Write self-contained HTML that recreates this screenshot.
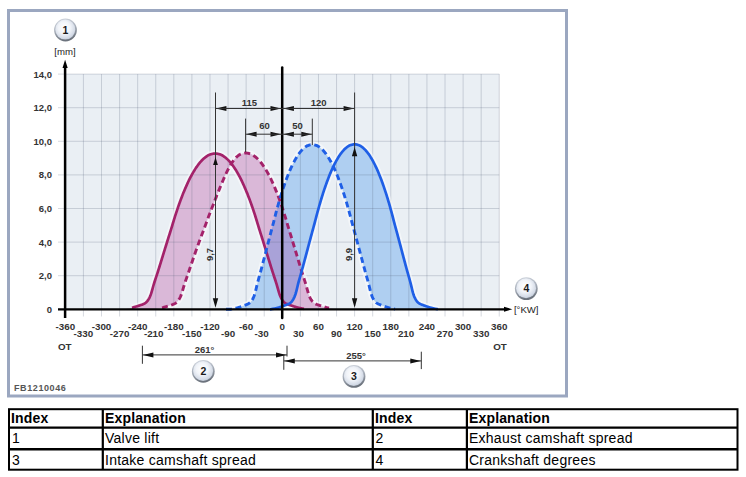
<!DOCTYPE html>
<html><head><meta charset="utf-8"><title>Valve lift diagram</title>
<style>html,body{margin:0;padding:0;background:#fff;width:746px;height:477px;overflow:hidden;position:relative}</style>
</head><body>
<svg width="746" height="477" viewBox="0 0 746 477" style="position:absolute;left:0;top:0"><defs><clipPath id="cb"><path d="M200.00,309.30 L200.50,309.30 L201.00,309.30 L201.50,309.30 L202.00,309.30 L202.50,309.30 L203.00,309.30 L203.50,309.30 L204.00,309.30 L204.50,309.30 L205.00,309.30 L205.50,309.30 L206.00,309.30 L206.50,309.30 L207.00,309.30 L207.50,309.30 L208.00,309.30 L208.50,309.30 L209.00,309.30 L209.50,309.30 L210.00,309.30 L210.50,309.30 L211.00,309.30 L211.50,309.30 L212.00,309.30 L212.50,309.30 L213.00,309.30 L213.50,309.30 L214.00,309.30 L214.50,309.30 L215.00,309.30 L215.50,309.30 L216.00,309.30 L216.50,309.30 L217.00,309.30 L217.50,309.30 L218.00,309.30 L218.50,309.30 L219.00,309.30 L219.50,309.30 L220.00,309.30 L220.50,309.30 L221.00,309.30 L221.50,309.30 L222.00,309.30 L222.50,309.30 L223.00,309.30 L223.50,309.30 L224.00,309.30 L224.50,309.30 L225.00,309.30 L225.50,309.30 L226.00,309.30 L226.50,309.30 L227.00,309.30 L227.50,309.30 L228.00,309.30 L228.50,309.30 L229.00,309.30 L229.50,309.30 L230.00,309.30 L230.50,309.27 L231.00,309.19 L231.50,309.10 L232.00,309.01 L232.50,308.91 L233.00,308.82 L233.50,308.72 L234.00,308.62 L234.50,308.51 L235.00,308.40 L235.50,308.29 L236.00,308.18 L236.50,308.06 L237.00,307.93 L237.50,307.80 L238.00,307.66 L238.50,307.51 L239.00,307.35 L239.50,307.18 L240.00,307.01 L240.50,306.84 L241.00,306.66 L241.50,306.49 L242.00,306.31 L242.50,306.13 L243.00,305.94 L243.50,305.76 L244.00,305.56 L244.50,305.37 L245.00,305.18 L245.50,304.99 L246.00,304.80 L246.50,304.60 L247.00,304.39 L247.50,304.17 L248.00,303.93 L248.50,303.66 L249.00,303.37 L249.50,303.05 L250.00,302.67 L250.50,302.24 L251.00,301.69 L251.50,301.02 L252.00,300.28 L252.50,299.44 L253.00,298.49 L253.50,297.42 L254.00,296.22 L254.50,294.88 L255.00,293.26 L255.50,291.38 L256.00,289.33 L256.50,287.20 L257.00,285.07 L257.50,283.02 L258.00,281.12 L258.50,279.28 L259.00,277.46 L259.50,275.65 L260.00,273.85 L260.50,272.03 L261.00,270.20 L261.50,268.33 L262.00,266.45 L262.50,264.55 L263.00,262.65 L263.50,260.74 L264.00,258.82 L264.50,256.91 L265.00,254.99 L265.50,253.06 L266.00,251.13 L266.50,249.20 L267.00,247.27 L267.50,245.34 L268.00,243.42 L268.50,241.50 L269.00,239.59 L269.50,237.67 L270.00,235.77 L270.50,233.87 L271.00,231.99 L271.50,230.11 L272.00,228.24 L272.50,226.36 L273.00,224.47 L273.50,222.54 L274.00,220.58 L274.50,218.60 L275.00,216.62 L275.50,214.66 L276.00,212.73 L276.50,210.85 L277.00,209.01 L277.50,207.20 L278.00,205.40 L278.50,203.62 L279.00,201.87 L279.50,200.15 L280.00,198.45 L280.50,196.79 L281.00,195.16 L281.50,193.56 L282.00,191.98 L282.50,190.43 L283.00,188.90 L283.50,187.40 L284.00,185.92 L284.50,184.47 L285.00,183.05 L285.50,181.66 L286.00,180.29 L286.50,178.93 L287.00,177.60 L287.50,176.29 L288.00,175.01 L288.50,173.76 L289.00,172.53 L289.50,171.34 L290.00,170.18 L290.50,169.05 L291.00,167.94 L291.50,166.85 L292.00,165.79 L292.50,164.75 L293.00,163.74 L293.50,162.76 L294.00,161.81 L294.50,160.89 L295.00,159.99 L295.50,159.10 L296.00,158.23 L296.50,157.39 L297.00,156.57 L297.50,155.78 L298.00,155.02 L298.50,154.30 L299.00,153.62 L299.50,152.96 L300.00,152.32 L300.50,151.69 L301.00,151.09 L301.50,150.52 L302.00,149.98 L302.50,149.46 L303.00,148.99 L303.50,148.54 L304.00,148.11 L304.50,147.68 L305.00,147.27 L305.50,146.87 L306.00,146.51 L306.50,146.19 L307.00,145.91 L307.50,145.68 L308.00,145.50 L308.50,145.34 L309.00,145.18 L309.50,145.03 L310.00,144.90 L310.50,144.79 L311.00,144.70 L311.50,144.63 L312.00,144.60 L312.50,144.61 L313.00,144.64 L313.50,144.71 L314.00,144.80 L314.50,144.91 L315.00,145.04 L315.50,145.18 L316.00,145.34 L316.50,145.50 L317.00,145.67 L317.50,145.89 L318.00,146.15 L318.50,146.46 L319.00,146.81 L319.50,147.19 L320.00,147.58 L320.50,148.00 L321.00,148.42 L321.50,148.85 L322.00,149.30 L322.50,149.79 L323.00,150.30 L323.50,150.85 L324.00,151.42 L324.50,152.02 L325.00,152.64 L325.50,153.27 L326.00,153.92 L326.50,154.60 L327.00,155.32 L327.50,156.06 L328.00,156.84 L328.50,157.65 L329.00,158.47 L329.50,159.32 L330.00,160.19 L330.50,161.07 L331.00,161.97 L331.50,162.90 L332.00,163.86 L332.50,164.85 L333.00,165.86 L333.50,166.89 L334.00,167.95 L334.50,169.03 L335.00,170.13 L335.50,171.25 L336.00,172.41 L336.50,173.60 L337.00,174.81 L337.50,176.06 L338.00,177.33 L338.50,178.62 L339.00,179.93 L339.50,181.26 L340.00,182.60 L340.50,183.98 L341.00,185.38 L341.50,186.80 L342.00,188.25 L342.50,189.73 L343.00,191.23 L343.50,192.75 L344.00,194.30 L344.50,195.86 L345.00,197.47 L345.50,199.10 L346.00,200.76 L346.50,202.44 L347.00,204.15 L347.50,205.88 L348.00,207.64 L348.50,209.41 L349.00,211.20 L349.50,213.04 L350.00,214.92 L350.50,216.83 L351.00,218.76 L351.50,220.68 L352.00,222.59 L352.50,224.46 L353.00,226.31 L353.50,228.14 L354.00,229.96 L354.50,231.78 L355.00,233.61 L355.50,235.45 L356.00,237.30 L356.50,239.16 L357.00,241.03 L357.50,242.89 L358.00,244.76 L358.50,246.63 L359.00,248.51 L359.50,250.39 L360.00,252.27 L360.50,254.15 L361.00,256.02 L361.50,257.88 L362.00,259.74 L362.50,261.60 L363.00,263.46 L363.50,265.31 L364.00,267.14 L364.50,268.97 L365.00,270.78 L365.50,272.56 L366.00,274.32 L366.50,276.07 L367.00,277.83 L367.50,279.60 L368.00,281.40 L368.50,283.27 L369.00,285.27 L369.50,287.35 L370.00,289.42 L370.50,291.41 L371.00,293.23 L371.50,294.82 L372.00,296.13 L372.50,297.31 L373.00,298.37 L373.50,299.31 L374.00,300.14 L374.50,300.88 L375.00,301.54 L375.50,302.11 L376.00,302.56 L376.50,302.94 L377.00,303.27 L377.50,303.56 L378.00,303.82 L378.50,304.07 L379.00,304.29 L379.50,304.50 L380.00,304.70 L380.50,304.89 L381.00,305.07 L381.50,305.26 L382.00,305.45 L382.50,305.63 L383.00,305.82 L383.50,306.00 L384.00,306.18 L384.50,306.36 L385.00,306.53 L385.50,306.70 L386.00,306.87 L386.50,307.03 L387.00,307.20 L387.50,307.36 L388.00,307.52 L388.50,307.66 L389.00,307.80 L389.50,307.93 L390.00,308.05 L390.50,308.17 L391.00,308.28 L391.50,308.39 L392.00,308.50 L392.50,308.60 L393.00,308.70 L393.50,308.79 L394.00,308.89 L394.50,308.98 L395.00,309.07 L395.50,309.16 L396.00,309.24 L396.50,309.30 L397.00,309.30 L397.50,309.30 L398.00,309.30 L398.50,309.30 L399.00,309.30 L399.50,309.30 L400.00,309.30 L400.50,309.30 L401.00,309.30 L401.50,309.30 L402.00,309.30 L402.50,309.30 L403.00,309.30 L403.50,309.30 L404.00,309.30 L404.50,309.30 L405.00,309.30 L405.50,309.30 L406.00,309.30 L406.50,309.30 L407.00,309.30 L407.50,309.30 L408.00,309.30 L408.50,309.30 L409.00,309.30 L409.50,309.30 L410.00,309.30 L410.50,309.30 L411.00,309.30 L411.50,309.30 L412.00,309.30 L412.50,309.30 L413.00,309.30 L413.50,309.30 L414.00,309.30 L414.50,309.30 L415.00,309.30 L415.50,309.30 L416.00,309.30 L416.50,309.30 L417.00,309.30 L417.50,309.30 L418.00,309.30 L418.50,309.30 L419.00,309.30 L419.50,309.30 L420.00,309.30 L420.50,309.30 L421.00,309.30 L421.50,309.30 L422.00,309.30 L422.50,309.30 L423.00,309.30 L423.50,309.30 L424.00,309.30 L424.50,309.30 L425.00,309.30 L425.50,309.30 L426.00,309.30 L426.50,309.30 L427.00,309.30 L427.50,309.30 L428.00,309.30 L428.50,309.30 L429.00,309.30 L429.50,309.30 L430.00,309.30 L430.50,309.30 L431.00,309.30 L431.50,309.30 L432.00,309.30 L432.50,309.30 L433.00,309.30 L433.50,309.30 L434.00,309.30 L434.50,309.30 L435.00,309.30 L435.50,309.30 L436.00,309.30 L436.50,309.30 L437.00,309.30 L437.50,309.30 L438.00,309.30 L438.50,309.30 L439.00,309.30 L439.50,309.30 L440.00,309.30 L440.50,309.30 L441.00,309.30 L441.50,309.30 L442.00,309.30 L442.50,309.30 L443.00,309.30 L443.50,309.30 L444.00,309.30 L444.50,309.30 L445.00,309.30 L445.50,309.30 L446.00,309.30 L446.50,309.30 L447.00,309.30 L447.50,309.30 L448.00,309.30 L448.50,309.30 L449.00,309.30 L449.50,309.30 L450.00,309.30 L450.50,309.30 L451.00,309.30 L451.50,309.30 L452.00,309.30 L452.50,309.30 L453.00,309.30 L453.50,309.30 L454.00,309.30 L454.50,309.30 L455.00,309.30 L455.50,309.30 L456.00,309.30 L456.50,309.30 L457.00,309.30 L457.50,309.30 L458.00,309.30 L458.50,309.30 L459.00,309.30 L459.50,309.30 L460.00,309.30 L460.00,309.30 L200.00,309.30 Z M200.00,309.30 L200.50,309.30 L201.00,309.30 L201.50,309.30 L202.00,309.30 L202.50,309.30 L203.00,309.30 L203.50,309.30 L204.00,309.30 L204.50,309.30 L205.00,309.30 L205.50,309.30 L206.00,309.30 L206.50,309.30 L207.00,309.30 L207.50,309.30 L208.00,309.30 L208.50,309.30 L209.00,309.30 L209.50,309.30 L210.00,309.30 L210.50,309.30 L211.00,309.30 L211.50,309.30 L212.00,309.30 L212.50,309.30 L213.00,309.30 L213.50,309.30 L214.00,309.30 L214.50,309.30 L215.00,309.30 L215.50,309.30 L216.00,309.30 L216.50,309.30 L217.00,309.30 L217.50,309.30 L218.00,309.30 L218.50,309.30 L219.00,309.30 L219.50,309.30 L220.00,309.30 L220.50,309.30 L221.00,309.30 L221.50,309.30 L222.00,309.30 L222.50,309.30 L223.00,309.30 L223.50,309.30 L224.00,309.30 L224.50,309.30 L225.00,309.30 L225.50,309.30 L226.00,309.30 L226.50,309.30 L227.00,309.30 L227.50,309.30 L228.00,309.30 L228.50,309.30 L229.00,309.30 L229.50,309.30 L230.00,309.30 L230.50,309.30 L231.00,309.30 L231.50,309.30 L232.00,309.30 L232.50,309.30 L233.00,309.30 L233.50,309.30 L234.00,309.30 L234.50,309.30 L235.00,309.30 L235.50,309.30 L236.00,309.30 L236.50,309.30 L237.00,309.30 L237.50,309.30 L238.00,309.30 L238.50,309.30 L239.00,309.30 L239.50,309.30 L240.00,309.30 L240.50,309.30 L241.00,309.30 L241.50,309.30 L242.00,309.30 L242.50,309.30 L243.00,309.30 L243.50,309.30 L244.00,309.30 L244.50,309.30 L245.00,309.30 L245.50,309.30 L246.00,309.30 L246.50,309.30 L247.00,309.30 L247.50,309.30 L248.00,309.30 L248.50,309.30 L249.00,309.30 L249.50,309.30 L250.00,309.30 L250.50,309.30 L251.00,309.30 L251.50,309.30 L252.00,309.30 L252.50,309.30 L253.00,309.30 L253.50,309.30 L254.00,309.30 L254.50,309.30 L255.00,309.30 L255.50,309.30 L256.00,309.30 L256.50,309.30 L257.00,309.30 L257.50,309.30 L258.00,309.30 L258.50,309.30 L259.00,309.30 L259.50,309.30 L260.00,309.30 L260.50,309.30 L261.00,309.30 L261.50,309.30 L262.00,309.30 L262.50,309.30 L263.00,309.30 L263.50,309.30 L264.00,309.30 L264.50,309.30 L265.00,309.30 L265.50,309.30 L266.00,309.30 L266.50,309.30 L267.00,309.30 L267.50,309.30 L268.00,309.30 L268.50,309.30 L269.00,309.30 L269.50,309.30 L270.00,309.30 L270.50,309.29 L271.00,309.21 L271.50,309.12 L272.00,309.03 L272.50,308.94 L273.00,308.85 L273.50,308.75 L274.00,308.66 L274.50,308.56 L275.00,308.45 L275.50,308.35 L276.00,308.24 L276.50,308.12 L277.00,308.00 L277.50,307.88 L278.00,307.75 L278.50,307.60 L279.00,307.45 L279.50,307.29 L280.00,307.13 L280.50,306.96 L281.00,306.79 L281.50,306.63 L282.00,306.46 L282.50,306.28 L283.00,306.10 L283.50,305.92 L284.00,305.74 L284.50,305.55 L285.00,305.36 L285.50,305.17 L286.00,304.99 L286.50,304.80 L287.00,304.61 L287.50,304.41 L288.00,304.20 L288.50,303.96 L289.00,303.71 L289.50,303.43 L290.00,303.13 L290.50,302.78 L291.00,302.38 L291.50,301.88 L292.00,301.27 L292.50,300.57 L293.00,299.80 L293.50,298.93 L294.00,297.94 L294.50,296.83 L295.00,295.60 L295.50,294.19 L296.00,292.50 L296.50,290.59 L297.00,288.56 L297.50,286.47 L298.00,284.41 L298.50,282.45 L299.00,280.63 L299.50,278.83 L300.00,277.07 L300.50,275.31 L301.00,273.55 L301.50,271.78 L302.00,269.99 L302.50,268.17 L303.00,266.33 L303.50,264.49 L304.00,262.63 L304.50,260.77 L305.00,258.90 L305.50,257.04 L306.00,255.17 L306.50,253.29 L307.00,251.41 L307.50,249.53 L308.00,247.65 L308.50,245.77 L309.00,243.89 L309.50,242.02 L310.00,240.16 L310.50,238.29 L311.00,236.43 L311.50,234.58 L312.00,232.73 L312.50,230.91 L313.00,229.08 L313.50,227.26 L314.00,225.42 L314.50,223.56 L315.00,221.67 L315.50,219.75 L316.00,217.82 L316.50,215.90 L317.00,213.99 L317.50,212.12 L318.00,210.30 L318.50,208.52 L319.00,206.75 L319.50,205.00 L320.00,203.27 L320.50,201.57 L321.00,199.89 L321.50,198.24 L322.00,196.62 L322.50,195.03 L323.00,193.46 L323.50,191.93 L324.00,190.41 L324.50,188.92 L325.00,187.45 L325.50,186.00 L326.00,184.59 L326.50,183.19 L327.00,181.83 L327.50,180.49 L328.00,179.16 L328.50,177.86 L329.00,176.58 L329.50,175.31 L330.00,174.08 L330.50,172.87 L331.00,171.69 L331.50,170.55 L332.00,169.43 L332.50,168.34 L333.00,167.26 L333.50,166.21 L334.00,165.19 L334.50,164.18 L335.00,163.21 L335.50,162.26 L336.00,161.34 L336.50,160.45 L337.00,159.57 L337.50,158.71 L338.00,157.87 L338.50,157.04 L339.00,156.25 L339.50,155.48 L340.00,154.75 L340.50,154.04 L341.00,153.38 L341.50,152.73 L342.00,152.10 L342.50,151.49 L343.00,150.90 L343.50,150.34 L344.00,149.80 L344.50,149.30 L345.00,148.82 L345.50,148.38 L346.00,147.96 L346.50,147.54 L347.00,147.13 L347.50,146.74 L348.00,146.37 L348.50,146.04 L349.00,145.74 L349.50,145.49 L350.00,145.30 L350.50,145.13 L351.00,144.98 L351.50,144.82 L352.00,144.69 L352.50,144.56 L353.00,144.46 L353.50,144.38 L354.00,144.32 L354.50,144.30 L355.00,144.31 L355.50,144.35 L356.00,144.42 L356.50,144.52 L357.00,144.64 L357.50,144.77 L358.00,144.92 L358.50,145.08 L359.00,145.24 L359.50,145.42 L360.00,145.65 L360.50,145.93 L361.00,146.26 L361.50,146.62 L362.00,147.00 L362.50,147.41 L363.00,147.83 L363.50,148.25 L364.00,148.69 L364.50,149.16 L365.00,149.66 L365.50,150.19 L366.00,150.75 L366.50,151.33 L367.00,151.94 L367.50,152.57 L368.00,153.21 L368.50,153.87 L369.00,154.57 L369.50,155.30 L370.00,156.07 L370.50,156.86 L371.00,157.68 L371.50,158.53 L372.00,159.39 L372.50,160.27 L373.00,161.16 L373.50,162.08 L374.00,163.03 L374.50,164.01 L375.00,165.01 L375.50,166.04 L376.00,167.09 L376.50,168.16 L377.00,169.26 L377.50,170.38 L378.00,171.53 L378.50,172.71 L379.00,173.92 L379.50,175.16 L380.00,176.42 L380.50,177.71 L381.00,179.02 L381.50,180.35 L382.00,181.70 L382.50,183.07 L383.00,184.46 L383.50,185.89 L384.00,187.34 L384.50,188.81 L385.00,190.31 L385.50,191.83 L386.00,193.38 L386.50,194.95 L387.00,196.55 L387.50,198.18 L388.00,199.83 L388.50,201.52 L389.00,203.23 L389.50,204.97 L390.00,206.73 L390.50,208.51 L391.00,210.30 L391.50,212.13 L392.00,214.01 L392.50,215.93 L393.00,217.86 L393.50,219.80 L394.00,221.73 L394.50,223.63 L395.00,225.50 L395.50,227.35 L396.00,229.18 L396.50,231.02 L397.00,232.86 L397.50,234.71 L398.00,236.57 L398.50,238.44 L399.00,240.32 L399.50,242.20 L400.00,244.08 L400.50,245.96 L401.00,247.85 L401.50,249.75 L402.00,251.64 L402.50,253.53 L403.00,255.42 L403.50,257.30 L404.00,259.17 L404.50,261.05 L405.00,262.92 L405.50,264.78 L406.00,266.64 L406.50,268.48 L407.00,270.30 L407.50,272.10 L408.00,273.88 L408.50,275.65 L409.00,277.41 L409.50,279.20 L410.00,281.00 L410.50,282.86 L411.00,284.86 L411.50,286.94 L412.00,289.04 L412.50,291.06 L413.00,292.93 L413.50,294.57 L414.00,295.92 L414.50,297.13 L415.00,298.21 L415.50,299.17 L416.00,300.02 L416.50,300.78 L417.00,301.46 L417.50,302.04 L418.00,302.50 L418.50,302.89 L419.00,303.23 L419.50,303.52 L420.00,303.79 L420.50,304.04 L421.00,304.27 L421.50,304.48 L422.00,304.68 L422.50,304.87 L423.00,305.05 L423.50,305.24 L424.00,305.43 L424.50,305.62 L425.00,305.81 L425.50,305.99 L426.00,306.17 L426.50,306.35 L427.00,306.52 L427.50,306.69 L428.00,306.86 L428.50,307.03 L429.00,307.20 L429.50,307.36 L430.00,307.52 L430.50,307.67 L431.00,307.80 L431.50,307.93 L432.00,308.06 L432.50,308.17 L433.00,308.29 L433.50,308.40 L434.00,308.50 L434.50,308.60 L435.00,308.70 L435.50,308.80 L436.00,308.90 L436.50,308.99 L437.00,309.08 L437.50,309.17 L438.00,309.25 L438.50,309.30 L439.00,309.30 L439.50,309.30 L440.00,309.30 L440.50,309.30 L441.00,309.30 L441.50,309.30 L442.00,309.30 L442.50,309.30 L443.00,309.30 L443.50,309.30 L444.00,309.30 L444.50,309.30 L445.00,309.30 L445.50,309.30 L446.00,309.30 L446.50,309.30 L447.00,309.30 L447.50,309.30 L448.00,309.30 L448.50,309.30 L449.00,309.30 L449.50,309.30 L450.00,309.30 L450.50,309.30 L451.00,309.30 L451.50,309.30 L452.00,309.30 L452.50,309.30 L453.00,309.30 L453.50,309.30 L454.00,309.30 L454.50,309.30 L455.00,309.30 L455.50,309.30 L456.00,309.30 L456.50,309.30 L457.00,309.30 L457.50,309.30 L458.00,309.30 L458.50,309.30 L459.00,309.30 L459.50,309.30 L460.00,309.30 L460.00,309.30 L200.00,309.30 Z" clip-rule="evenodd"/></clipPath><clipPath id="cf"><path d="M200.00,309.30 L200.50,309.30 L201.00,309.30 L201.50,309.30 L202.00,309.30 L202.50,309.30 L203.00,309.30 L203.50,309.30 L204.00,309.30 L204.50,309.30 L205.00,309.30 L205.50,309.30 L206.00,309.30 L206.50,309.30 L207.00,309.30 L207.50,309.30 L208.00,309.30 L208.50,309.30 L209.00,309.30 L209.50,309.30 L210.00,309.30 L210.50,309.30 L211.00,309.30 L211.50,309.30 L212.00,309.30 L212.50,309.30 L213.00,309.30 L213.50,309.30 L214.00,309.30 L214.50,309.30 L215.00,309.30 L215.50,309.30 L216.00,309.30 L216.50,309.30 L217.00,309.30 L217.50,309.30 L218.00,309.30 L218.50,309.30 L219.00,309.30 L219.50,309.30 L220.00,309.30 L220.50,309.30 L221.00,309.30 L221.50,309.30 L222.00,309.30 L222.50,309.30 L223.00,309.30 L223.50,309.30 L224.00,309.30 L224.50,309.30 L225.00,309.30 L225.50,309.30 L226.00,309.30 L226.50,309.30 L227.00,309.30 L227.50,309.30 L228.00,309.30 L228.50,309.30 L229.00,309.30 L229.50,309.30 L230.00,309.30 L230.50,309.27 L231.00,309.19 L231.50,309.10 L232.00,309.01 L232.50,308.91 L233.00,308.82 L233.50,308.72 L234.00,308.62 L234.50,308.51 L235.00,308.40 L235.50,308.29 L236.00,308.18 L236.50,308.06 L237.00,307.93 L237.50,307.80 L238.00,307.66 L238.50,307.51 L239.00,307.35 L239.50,307.18 L240.00,307.01 L240.50,306.84 L241.00,306.66 L241.50,306.49 L242.00,306.31 L242.50,306.13 L243.00,305.94 L243.50,305.76 L244.00,305.56 L244.50,305.37 L245.00,305.18 L245.50,304.99 L246.00,304.80 L246.50,304.60 L247.00,304.39 L247.50,304.17 L248.00,303.93 L248.50,303.66 L249.00,303.37 L249.50,303.05 L250.00,302.67 L250.50,302.24 L251.00,301.69 L251.50,301.02 L252.00,300.28 L252.50,299.44 L253.00,298.49 L253.50,297.42 L254.00,296.22 L254.50,294.88 L255.00,293.26 L255.50,291.38 L256.00,289.33 L256.50,287.20 L257.00,285.07 L257.50,283.02 L258.00,281.12 L258.50,279.28 L259.00,277.46 L259.50,275.65 L260.00,273.85 L260.50,272.03 L261.00,270.20 L261.50,268.33 L262.00,266.45 L262.50,264.55 L263.00,262.65 L263.50,260.74 L264.00,258.82 L264.50,256.91 L265.00,254.99 L265.50,253.06 L266.00,251.13 L266.50,249.20 L267.00,247.27 L267.50,245.34 L268.00,243.42 L268.50,241.50 L269.00,239.59 L269.50,237.67 L270.00,235.77 L270.50,233.87 L271.00,231.99 L271.50,230.11 L272.00,228.24 L272.50,226.36 L273.00,224.47 L273.50,222.54 L274.00,220.58 L274.50,218.60 L275.00,216.62 L275.50,214.66 L276.00,212.73 L276.50,210.85 L277.00,209.01 L277.50,207.20 L278.00,205.40 L278.50,203.62 L279.00,201.87 L279.50,200.15 L280.00,198.45 L280.50,196.79 L281.00,195.16 L281.50,193.56 L282.00,191.98 L282.50,190.43 L283.00,188.90 L283.50,187.40 L284.00,185.92 L284.50,184.47 L285.00,183.05 L285.50,181.66 L286.00,180.29 L286.50,178.93 L287.00,177.60 L287.50,176.29 L288.00,175.01 L288.50,173.76 L289.00,172.53 L289.50,171.34 L290.00,170.18 L290.50,169.05 L291.00,167.94 L291.50,166.85 L292.00,165.79 L292.50,164.75 L293.00,163.74 L293.50,162.76 L294.00,161.81 L294.50,160.89 L295.00,159.99 L295.50,159.10 L296.00,158.23 L296.50,157.39 L297.00,156.57 L297.50,155.78 L298.00,155.02 L298.50,154.30 L299.00,153.62 L299.50,152.96 L300.00,152.32 L300.50,151.69 L301.00,151.09 L301.50,150.52 L302.00,149.98 L302.50,149.46 L303.00,148.99 L303.50,148.54 L304.00,148.11 L304.50,147.68 L305.00,147.27 L305.50,146.87 L306.00,146.51 L306.50,146.19 L307.00,145.91 L307.50,145.68 L308.00,145.50 L308.50,145.34 L309.00,145.18 L309.50,145.03 L310.00,144.90 L310.50,144.79 L311.00,144.70 L311.50,144.63 L312.00,144.60 L312.50,144.61 L313.00,144.64 L313.50,144.71 L314.00,144.80 L314.50,144.91 L315.00,145.04 L315.50,145.18 L316.00,145.34 L316.50,145.50 L317.00,145.67 L317.50,145.89 L318.00,146.15 L318.50,146.46 L319.00,146.81 L319.50,147.19 L320.00,147.58 L320.50,148.00 L321.00,148.42 L321.50,148.85 L322.00,149.30 L322.50,149.79 L323.00,150.30 L323.50,150.85 L324.00,151.42 L324.50,152.02 L325.00,152.64 L325.50,153.27 L326.00,153.92 L326.50,154.60 L327.00,155.32 L327.50,156.06 L328.00,156.84 L328.50,157.65 L329.00,158.47 L329.50,159.32 L330.00,160.19 L330.50,161.07 L331.00,161.97 L331.50,162.90 L332.00,163.86 L332.50,164.85 L333.00,165.86 L333.50,166.89 L334.00,167.95 L334.50,169.03 L335.00,170.13 L335.50,171.25 L336.00,172.41 L336.50,173.60 L337.00,174.81 L337.50,176.06 L338.00,177.33 L338.50,178.62 L339.00,179.93 L339.50,181.26 L340.00,182.60 L340.50,183.98 L341.00,185.38 L341.50,186.80 L342.00,188.25 L342.50,189.73 L343.00,191.23 L343.50,192.75 L344.00,194.30 L344.50,195.86 L345.00,197.47 L345.50,199.10 L346.00,200.76 L346.50,202.44 L347.00,204.15 L347.50,205.88 L348.00,207.64 L348.50,209.41 L349.00,211.20 L349.50,213.04 L350.00,214.92 L350.50,216.83 L351.00,218.76 L351.50,220.68 L352.00,222.59 L352.50,224.46 L353.00,226.31 L353.50,228.14 L354.00,229.96 L354.50,231.78 L355.00,233.61 L355.50,235.45 L356.00,237.30 L356.50,239.16 L357.00,241.03 L357.50,242.89 L358.00,244.76 L358.50,246.63 L359.00,248.51 L359.50,250.39 L360.00,252.27 L360.50,254.15 L361.00,256.02 L361.50,257.88 L362.00,259.74 L362.50,261.60 L363.00,263.46 L363.50,265.31 L364.00,267.14 L364.50,268.97 L365.00,270.78 L365.50,272.56 L366.00,274.32 L366.50,276.07 L367.00,277.83 L367.50,279.60 L368.00,281.40 L368.50,283.27 L369.00,285.27 L369.50,287.35 L370.00,289.42 L370.50,291.41 L371.00,293.23 L371.50,294.82 L372.00,296.13 L372.50,297.31 L373.00,298.37 L373.50,299.31 L374.00,300.14 L374.50,300.88 L375.00,301.54 L375.50,302.11 L376.00,302.56 L376.50,302.94 L377.00,303.27 L377.50,303.56 L378.00,303.82 L378.50,304.07 L379.00,304.29 L379.50,304.50 L380.00,304.70 L380.50,304.89 L381.00,305.07 L381.50,305.26 L382.00,305.45 L382.50,305.63 L383.00,305.82 L383.50,306.00 L384.00,306.18 L384.50,306.36 L385.00,306.53 L385.50,306.70 L386.00,306.87 L386.50,307.03 L387.00,307.20 L387.50,307.36 L388.00,307.52 L388.50,307.66 L389.00,307.80 L389.50,307.93 L390.00,308.05 L390.50,308.17 L391.00,308.28 L391.50,308.39 L392.00,308.50 L392.50,308.60 L393.00,308.70 L393.50,308.79 L394.00,308.89 L394.50,308.98 L395.00,309.07 L395.50,309.16 L396.00,309.24 L396.50,309.30 L397.00,309.30 L397.50,309.30 L398.00,309.30 L398.50,309.30 L399.00,309.30 L399.50,309.30 L400.00,309.30 L400.50,309.30 L401.00,309.30 L401.50,309.30 L402.00,309.30 L402.50,309.30 L403.00,309.30 L403.50,309.30 L404.00,309.30 L404.50,309.30 L405.00,309.30 L405.50,309.30 L406.00,309.30 L406.50,309.30 L407.00,309.30 L407.50,309.30 L408.00,309.30 L408.50,309.30 L409.00,309.30 L409.50,309.30 L410.00,309.30 L410.50,309.30 L411.00,309.30 L411.50,309.30 L412.00,309.30 L412.50,309.30 L413.00,309.30 L413.50,309.30 L414.00,309.30 L414.50,309.30 L415.00,309.30 L415.50,309.30 L416.00,309.30 L416.50,309.30 L417.00,309.30 L417.50,309.30 L418.00,309.30 L418.50,309.30 L419.00,309.30 L419.50,309.30 L420.00,309.30 L420.50,309.30 L421.00,309.30 L421.50,309.30 L422.00,309.30 L422.50,309.30 L423.00,309.30 L423.50,309.30 L424.00,309.30 L424.50,309.30 L425.00,309.30 L425.50,309.30 L426.00,309.30 L426.50,309.30 L427.00,309.30 L427.50,309.30 L428.00,309.30 L428.50,309.30 L429.00,309.30 L429.50,309.30 L430.00,309.30 L430.50,309.30 L431.00,309.30 L431.50,309.30 L432.00,309.30 L432.50,309.30 L433.00,309.30 L433.50,309.30 L434.00,309.30 L434.50,309.30 L435.00,309.30 L435.50,309.30 L436.00,309.30 L436.50,309.30 L437.00,309.30 L437.50,309.30 L438.00,309.30 L438.50,309.30 L439.00,309.30 L439.50,309.30 L440.00,309.30 L440.50,309.30 L441.00,309.30 L441.50,309.30 L442.00,309.30 L442.50,309.30 L443.00,309.30 L443.50,309.30 L444.00,309.30 L444.50,309.30 L445.00,309.30 L445.50,309.30 L446.00,309.30 L446.50,309.30 L447.00,309.30 L447.50,309.30 L448.00,309.30 L448.50,309.30 L449.00,309.30 L449.50,309.30 L450.00,309.30 L450.50,309.30 L451.00,309.30 L451.50,309.30 L452.00,309.30 L452.50,309.30 L453.00,309.30 L453.50,309.30 L454.00,309.30 L454.50,309.30 L455.00,309.30 L455.50,309.30 L456.00,309.30 L456.50,309.30 L457.00,309.30 L457.50,309.30 L458.00,309.30 L458.50,309.30 L459.00,309.30 L459.50,309.30 L460.00,309.30 L460.00,309.30 L200.00,309.30 Z M200.00,309.30 L200.50,309.30 L201.00,309.30 L201.50,309.30 L202.00,309.30 L202.50,309.30 L203.00,309.30 L203.50,309.30 L204.00,309.30 L204.50,309.30 L205.00,309.30 L205.50,309.30 L206.00,309.30 L206.50,309.30 L207.00,309.30 L207.50,309.30 L208.00,309.30 L208.50,309.30 L209.00,309.30 L209.50,309.30 L210.00,309.30 L210.50,309.30 L211.00,309.30 L211.50,309.30 L212.00,309.30 L212.50,309.30 L213.00,309.30 L213.50,309.30 L214.00,309.30 L214.50,309.30 L215.00,309.30 L215.50,309.30 L216.00,309.30 L216.50,309.30 L217.00,309.30 L217.50,309.30 L218.00,309.30 L218.50,309.30 L219.00,309.30 L219.50,309.30 L220.00,309.30 L220.50,309.30 L221.00,309.30 L221.50,309.30 L222.00,309.30 L222.50,309.30 L223.00,309.30 L223.50,309.30 L224.00,309.30 L224.50,309.30 L225.00,309.30 L225.50,309.30 L226.00,309.30 L226.50,309.30 L227.00,309.30 L227.50,309.30 L228.00,309.30 L228.50,309.30 L229.00,309.30 L229.50,309.30 L230.00,309.30 L230.50,309.30 L231.00,309.30 L231.50,309.30 L232.00,309.30 L232.50,309.30 L233.00,309.30 L233.50,309.30 L234.00,309.30 L234.50,309.30 L235.00,309.30 L235.50,309.30 L236.00,309.30 L236.50,309.30 L237.00,309.30 L237.50,309.30 L238.00,309.30 L238.50,309.30 L239.00,309.30 L239.50,309.30 L240.00,309.30 L240.50,309.30 L241.00,309.30 L241.50,309.30 L242.00,309.30 L242.50,309.30 L243.00,309.30 L243.50,309.30 L244.00,309.30 L244.50,309.30 L245.00,309.30 L245.50,309.30 L246.00,309.30 L246.50,309.30 L247.00,309.30 L247.50,309.30 L248.00,309.30 L248.50,309.30 L249.00,309.30 L249.50,309.30 L250.00,309.30 L250.50,309.30 L251.00,309.30 L251.50,309.30 L252.00,309.30 L252.50,309.30 L253.00,309.30 L253.50,309.30 L254.00,309.30 L254.50,309.30 L255.00,309.30 L255.50,309.30 L256.00,309.30 L256.50,309.30 L257.00,309.30 L257.50,309.30 L258.00,309.30 L258.50,309.30 L259.00,309.30 L259.50,309.30 L260.00,309.30 L260.50,309.30 L261.00,309.30 L261.50,309.30 L262.00,309.30 L262.50,309.30 L263.00,309.30 L263.50,309.30 L264.00,309.30 L264.50,309.30 L265.00,309.30 L265.50,309.30 L266.00,309.30 L266.50,309.30 L267.00,309.30 L267.50,309.30 L268.00,309.30 L268.50,309.30 L269.00,309.30 L269.50,309.30 L270.00,309.30 L270.50,309.29 L271.00,309.21 L271.50,309.12 L272.00,309.03 L272.50,308.94 L273.00,308.85 L273.50,308.75 L274.00,308.66 L274.50,308.56 L275.00,308.45 L275.50,308.35 L276.00,308.24 L276.50,308.12 L277.00,308.00 L277.50,307.88 L278.00,307.75 L278.50,307.60 L279.00,307.45 L279.50,307.29 L280.00,307.13 L280.50,306.96 L281.00,306.79 L281.50,306.63 L282.00,306.46 L282.50,306.28 L283.00,306.10 L283.50,305.92 L284.00,305.74 L284.50,305.55 L285.00,305.36 L285.50,305.17 L286.00,304.99 L286.50,304.80 L287.00,304.61 L287.50,304.41 L288.00,304.20 L288.50,303.96 L289.00,303.71 L289.50,303.43 L290.00,303.13 L290.50,302.78 L291.00,302.38 L291.50,301.88 L292.00,301.27 L292.50,300.57 L293.00,299.80 L293.50,298.93 L294.00,297.94 L294.50,296.83 L295.00,295.60 L295.50,294.19 L296.00,292.50 L296.50,290.59 L297.00,288.56 L297.50,286.47 L298.00,284.41 L298.50,282.45 L299.00,280.63 L299.50,278.83 L300.00,277.07 L300.50,275.31 L301.00,273.55 L301.50,271.78 L302.00,269.99 L302.50,268.17 L303.00,266.33 L303.50,264.49 L304.00,262.63 L304.50,260.77 L305.00,258.90 L305.50,257.04 L306.00,255.17 L306.50,253.29 L307.00,251.41 L307.50,249.53 L308.00,247.65 L308.50,245.77 L309.00,243.89 L309.50,242.02 L310.00,240.16 L310.50,238.29 L311.00,236.43 L311.50,234.58 L312.00,232.73 L312.50,230.91 L313.00,229.08 L313.50,227.26 L314.00,225.42 L314.50,223.56 L315.00,221.67 L315.50,219.75 L316.00,217.82 L316.50,215.90 L317.00,213.99 L317.50,212.12 L318.00,210.30 L318.50,208.52 L319.00,206.75 L319.50,205.00 L320.00,203.27 L320.50,201.57 L321.00,199.89 L321.50,198.24 L322.00,196.62 L322.50,195.03 L323.00,193.46 L323.50,191.93 L324.00,190.41 L324.50,188.92 L325.00,187.45 L325.50,186.00 L326.00,184.59 L326.50,183.19 L327.00,181.83 L327.50,180.49 L328.00,179.16 L328.50,177.86 L329.00,176.58 L329.50,175.31 L330.00,174.08 L330.50,172.87 L331.00,171.69 L331.50,170.55 L332.00,169.43 L332.50,168.34 L333.00,167.26 L333.50,166.21 L334.00,165.19 L334.50,164.18 L335.00,163.21 L335.50,162.26 L336.00,161.34 L336.50,160.45 L337.00,159.57 L337.50,158.71 L338.00,157.87 L338.50,157.04 L339.00,156.25 L339.50,155.48 L340.00,154.75 L340.50,154.04 L341.00,153.38 L341.50,152.73 L342.00,152.10 L342.50,151.49 L343.00,150.90 L343.50,150.34 L344.00,149.80 L344.50,149.30 L345.00,148.82 L345.50,148.38 L346.00,147.96 L346.50,147.54 L347.00,147.13 L347.50,146.74 L348.00,146.37 L348.50,146.04 L349.00,145.74 L349.50,145.49 L350.00,145.30 L350.50,145.13 L351.00,144.98 L351.50,144.82 L352.00,144.69 L352.50,144.56 L353.00,144.46 L353.50,144.38 L354.00,144.32 L354.50,144.30 L355.00,144.31 L355.50,144.35 L356.00,144.42 L356.50,144.52 L357.00,144.64 L357.50,144.77 L358.00,144.92 L358.50,145.08 L359.00,145.24 L359.50,145.42 L360.00,145.65 L360.50,145.93 L361.00,146.26 L361.50,146.62 L362.00,147.00 L362.50,147.41 L363.00,147.83 L363.50,148.25 L364.00,148.69 L364.50,149.16 L365.00,149.66 L365.50,150.19 L366.00,150.75 L366.50,151.33 L367.00,151.94 L367.50,152.57 L368.00,153.21 L368.50,153.87 L369.00,154.57 L369.50,155.30 L370.00,156.07 L370.50,156.86 L371.00,157.68 L371.50,158.53 L372.00,159.39 L372.50,160.27 L373.00,161.16 L373.50,162.08 L374.00,163.03 L374.50,164.01 L375.00,165.01 L375.50,166.04 L376.00,167.09 L376.50,168.16 L377.00,169.26 L377.50,170.38 L378.00,171.53 L378.50,172.71 L379.00,173.92 L379.50,175.16 L380.00,176.42 L380.50,177.71 L381.00,179.02 L381.50,180.35 L382.00,181.70 L382.50,183.07 L383.00,184.46 L383.50,185.89 L384.00,187.34 L384.50,188.81 L385.00,190.31 L385.50,191.83 L386.00,193.38 L386.50,194.95 L387.00,196.55 L387.50,198.18 L388.00,199.83 L388.50,201.52 L389.00,203.23 L389.50,204.97 L390.00,206.73 L390.50,208.51 L391.00,210.30 L391.50,212.13 L392.00,214.01 L392.50,215.93 L393.00,217.86 L393.50,219.80 L394.00,221.73 L394.50,223.63 L395.00,225.50 L395.50,227.35 L396.00,229.18 L396.50,231.02 L397.00,232.86 L397.50,234.71 L398.00,236.57 L398.50,238.44 L399.00,240.32 L399.50,242.20 L400.00,244.08 L400.50,245.96 L401.00,247.85 L401.50,249.75 L402.00,251.64 L402.50,253.53 L403.00,255.42 L403.50,257.30 L404.00,259.17 L404.50,261.05 L405.00,262.92 L405.50,264.78 L406.00,266.64 L406.50,268.48 L407.00,270.30 L407.50,272.10 L408.00,273.88 L408.50,275.65 L409.00,277.41 L409.50,279.20 L410.00,281.00 L410.50,282.86 L411.00,284.86 L411.50,286.94 L412.00,289.04 L412.50,291.06 L413.00,292.93 L413.50,294.57 L414.00,295.92 L414.50,297.13 L415.00,298.21 L415.50,299.17 L416.00,300.02 L416.50,300.78 L417.00,301.46 L417.50,302.04 L418.00,302.50 L418.50,302.89 L419.00,303.23 L419.50,303.52 L420.00,303.79 L420.50,304.04 L421.00,304.27 L421.50,304.48 L422.00,304.68 L422.50,304.87 L423.00,305.05 L423.50,305.24 L424.00,305.43 L424.50,305.62 L425.00,305.81 L425.50,305.99 L426.00,306.17 L426.50,306.35 L427.00,306.52 L427.50,306.69 L428.00,306.86 L428.50,307.03 L429.00,307.20 L429.50,307.36 L430.00,307.52 L430.50,307.67 L431.00,307.80 L431.50,307.93 L432.00,308.06 L432.50,308.17 L433.00,308.29 L433.50,308.40 L434.00,308.50 L434.50,308.60 L435.00,308.70 L435.50,308.80 L436.00,308.90 L436.50,308.99 L437.00,309.08 L437.50,309.17 L438.00,309.25 L438.50,309.30 L439.00,309.30 L439.50,309.30 L440.00,309.30 L440.50,309.30 L441.00,309.30 L441.50,309.30 L442.00,309.30 L442.50,309.30 L443.00,309.30 L443.50,309.30 L444.00,309.30 L444.50,309.30 L445.00,309.30 L445.50,309.30 L446.00,309.30 L446.50,309.30 L447.00,309.30 L447.50,309.30 L448.00,309.30 L448.50,309.30 L449.00,309.30 L449.50,309.30 L450.00,309.30 L450.50,309.30 L451.00,309.30 L451.50,309.30 L452.00,309.30 L452.50,309.30 L453.00,309.30 L453.50,309.30 L454.00,309.30 L454.50,309.30 L455.00,309.30 L455.50,309.30 L456.00,309.30 L456.50,309.30 L457.00,309.30 L457.50,309.30 L458.00,309.30 L458.50,309.30 L459.00,309.30 L459.50,309.30 L460.00,309.30 L460.00,309.30 L200.00,309.30 Z" clip-rule="evenodd"/><path d="M110.00,309.30 L110.50,309.30 L111.00,309.30 L111.50,309.30 L112.00,309.30 L112.50,309.30 L113.00,309.30 L113.50,309.30 L114.00,309.30 L114.50,309.30 L115.00,309.30 L115.50,309.30 L116.00,309.30 L116.50,309.30 L117.00,309.30 L117.50,309.30 L118.00,309.30 L118.50,309.30 L119.00,309.30 L119.50,309.30 L120.00,309.30 L120.50,309.30 L121.00,309.30 L121.50,309.30 L122.00,309.30 L122.50,309.30 L123.00,309.30 L123.50,309.26 L124.00,309.19 L124.50,309.11 L125.00,309.04 L125.50,308.96 L126.00,308.88 L126.50,308.80 L127.00,308.71 L127.50,308.62 L128.00,308.54 L128.50,308.45 L129.00,308.35 L129.50,308.26 L130.00,308.16 L130.50,308.05 L131.00,307.94 L131.50,307.83 L132.00,307.71 L132.50,307.58 L133.00,307.44 L133.50,307.30 L134.00,307.16 L134.50,307.01 L135.00,306.87 L135.50,306.72 L136.00,306.57 L136.50,306.42 L137.00,306.27 L137.50,306.11 L138.00,305.95 L138.50,305.79 L139.00,305.63 L139.50,305.46 L140.00,305.30 L140.50,305.14 L141.00,304.98 L141.50,304.81 L142.00,304.64 L142.50,304.45 L143.00,304.24 L143.50,304.02 L144.00,303.79 L144.50,303.53 L145.00,303.23 L145.50,302.90 L146.00,302.51 L146.50,302.03 L147.00,301.47 L147.50,300.84 L148.00,300.15 L148.50,299.38 L149.00,298.52 L149.50,297.56 L150.00,296.51 L150.50,295.32 L151.00,293.92 L151.50,292.32 L152.00,290.60 L152.50,288.81 L153.00,287.01 L153.50,285.25 L154.00,283.59 L154.50,282.02 L155.00,280.48 L155.50,278.95 L156.00,277.43 L156.50,275.91 L157.00,274.38 L157.50,272.84 L158.00,271.28 L158.50,269.70 L159.00,268.11 L159.50,266.51 L160.00,264.91 L160.50,263.30 L161.00,261.69 L161.50,260.08 L162.00,258.46 L162.50,256.84 L163.00,255.22 L163.50,253.59 L164.00,251.96 L164.50,250.34 L165.00,248.72 L165.50,247.10 L166.00,245.49 L166.50,243.87 L167.00,242.26 L167.50,240.65 L168.00,239.05 L168.50,237.46 L169.00,235.87 L169.50,234.30 L170.00,232.72 L170.50,231.14 L171.00,229.55 L171.50,227.94 L172.00,226.30 L172.50,224.64 L173.00,222.97 L173.50,221.31 L174.00,219.66 L174.50,218.03 L175.00,216.44 L175.50,214.89 L176.00,213.36 L176.50,211.84 L177.00,210.33 L177.50,208.85 L178.00,207.38 L178.50,205.93 L179.00,204.50 L179.50,203.10 L180.00,201.72 L180.50,200.36 L181.00,199.03 L181.50,197.71 L182.00,196.41 L182.50,195.13 L183.00,193.87 L183.50,192.62 L184.00,191.40 L184.50,190.20 L185.00,189.02 L185.50,187.86 L186.00,186.71 L186.50,185.58 L187.00,184.47 L187.50,183.37 L188.00,182.29 L188.50,181.23 L189.00,180.19 L189.50,179.18 L190.00,178.19 L190.50,177.23 L191.00,176.28 L191.50,175.35 L192.00,174.44 L192.50,173.55 L193.00,172.68 L193.50,171.82 L194.00,170.99 L194.50,170.18 L195.00,169.39 L195.50,168.62 L196.00,167.86 L196.50,167.12 L197.00,166.39 L197.50,165.68 L198.00,164.99 L198.50,164.32 L199.00,163.67 L199.50,163.05 L200.00,162.45 L200.50,161.89 L201.00,161.33 L201.50,160.79 L202.00,160.27 L202.50,159.76 L203.00,159.27 L203.50,158.80 L204.00,158.36 L204.50,157.94 L205.00,157.54 L205.50,157.17 L206.00,156.81 L206.50,156.45 L207.00,156.10 L207.50,155.76 L208.00,155.45 L208.50,155.16 L209.00,154.90 L209.50,154.68 L210.00,154.50 L210.50,154.35 L211.00,154.21 L211.50,154.08 L212.00,153.95 L212.50,153.83 L213.00,153.73 L213.50,153.64 L214.00,153.57 L214.50,153.53 L215.00,153.50 L215.50,153.50 L216.00,153.53 L216.50,153.59 L217.00,153.66 L217.50,153.75 L218.00,153.86 L218.50,153.97 L219.00,154.10 L219.50,154.24 L220.00,154.38 L220.50,154.53 L221.00,154.72 L221.50,154.95 L222.00,155.21 L222.50,155.51 L223.00,155.83 L223.50,156.17 L224.00,156.52 L224.50,156.88 L225.00,157.25 L225.50,157.62 L226.00,158.02 L226.50,158.44 L227.00,158.89 L227.50,159.37 L228.00,159.86 L228.50,160.37 L229.00,160.90 L229.50,161.44 L230.00,162.00 L230.50,162.57 L231.00,163.17 L231.50,163.80 L232.00,164.45 L232.50,165.12 L233.00,165.82 L233.50,166.54 L234.00,167.27 L234.50,168.02 L235.00,168.77 L235.50,169.54 L236.00,170.34 L236.50,171.15 L237.00,171.99 L237.50,172.85 L238.00,173.73 L238.50,174.62 L239.00,175.54 L239.50,176.47 L240.00,177.42 L240.50,178.39 L241.00,179.38 L241.50,180.40 L242.00,181.44 L242.50,182.50 L243.00,183.59 L243.50,184.69 L244.00,185.81 L244.50,186.94 L245.00,188.09 L245.50,189.26 L246.00,190.44 L246.50,191.65 L247.00,192.87 L247.50,194.12 L248.00,195.38 L248.50,196.67 L249.00,197.97 L249.50,199.29 L250.00,200.63 L250.50,201.99 L251.00,203.38 L251.50,204.79 L252.00,206.22 L252.50,207.67 L253.00,209.14 L253.50,210.63 L254.00,212.14 L254.50,213.66 L255.00,215.20 L255.50,216.76 L256.00,218.36 L256.50,219.99 L257.00,221.64 L257.50,223.30 L258.00,224.97 L258.50,226.63 L259.00,228.26 L259.50,229.87 L260.00,231.46 L260.50,233.04 L261.00,234.61 L261.50,236.19 L262.00,237.77 L262.50,239.37 L263.00,240.97 L263.50,242.58 L264.00,244.19 L264.50,245.81 L265.00,247.42 L265.50,249.04 L266.00,250.66 L266.50,252.29 L267.00,253.92 L267.50,255.54 L268.00,257.17 L268.50,258.79 L269.00,260.40 L269.50,262.01 L270.00,263.62 L270.50,265.23 L271.00,266.83 L271.50,268.43 L272.00,270.02 L272.50,271.59 L273.00,273.15 L273.50,274.69 L274.00,276.21 L274.50,277.73 L275.00,279.25 L275.50,280.78 L276.00,282.33 L276.50,283.91 L277.00,285.60 L277.50,287.37 L278.00,289.17 L278.50,290.95 L279.00,292.65 L279.50,294.21 L280.00,295.58 L280.50,296.72 L281.00,297.76 L281.50,298.70 L282.00,299.54 L282.50,300.30 L283.00,300.97 L283.50,301.59 L284.00,302.13 L284.50,302.60 L285.00,302.97 L285.50,303.30 L286.00,303.58 L286.50,303.84 L287.00,304.07 L287.50,304.29 L288.00,304.49 L288.50,304.67 L289.00,304.85 L289.50,305.01 L290.00,305.17 L290.50,305.33 L291.00,305.50 L291.50,305.66 L292.00,305.82 L292.50,305.98 L293.00,306.14 L293.50,306.30 L294.00,306.45 L294.50,306.60 L295.00,306.75 L295.50,306.89 L296.00,307.04 L296.50,307.19 L297.00,307.33 L297.50,307.47 L298.00,307.60 L298.50,307.73 L299.00,307.85 L299.50,307.97 L300.00,308.07 L300.50,308.18 L301.00,308.28 L301.50,308.37 L302.00,308.46 L302.50,308.55 L303.00,308.64 L303.50,308.73 L304.00,308.81 L304.50,308.90 L305.00,308.98 L305.50,309.05 L306.00,309.13 L306.50,309.20 L307.00,309.27 L307.50,309.30 L308.00,309.30 L308.50,309.30 L309.00,309.30 L309.50,309.30 L310.00,309.30 L310.50,309.30 L311.00,309.30 L311.50,309.30 L312.00,309.30 L312.50,309.30 L313.00,309.30 L313.50,309.30 L314.00,309.30 L314.50,309.30 L315.00,309.30 L315.50,309.30 L316.00,309.30 L316.50,309.30 L317.00,309.30 L317.50,309.30 L318.00,309.30 L318.50,309.30 L319.00,309.30 L319.50,309.30 L320.00,309.30 L320.50,309.30 L321.00,309.30 L321.50,309.30 L322.00,309.30 L322.50,309.30 L323.00,309.30 L323.50,309.30 L324.00,309.30 L324.50,309.30 L325.00,309.30 L325.50,309.30 L326.00,309.30 L326.50,309.30 L327.00,309.30 L327.50,309.30 L328.00,309.30 L328.50,309.30 L329.00,309.30 L329.50,309.30 L330.00,309.30 L330.50,309.30 L331.00,309.30 L331.50,309.30 L332.00,309.30 L332.50,309.30 L333.00,309.30 L333.50,309.30 L334.00,309.30 L334.50,309.30 L335.00,309.30 L335.50,309.30 L336.00,309.30 L336.50,309.30 L337.00,309.30 L337.50,309.30 L338.00,309.30 L338.50,309.30 L339.00,309.30 L339.50,309.30 L340.00,309.30 L340.00,309.30 L110.00,309.30 Z M110.00,309.30 L110.50,309.30 L111.00,309.30 L111.50,309.30 L112.00,309.30 L112.50,309.30 L113.00,309.30 L113.50,309.30 L114.00,309.30 L114.50,309.30 L115.00,309.30 L115.50,309.30 L116.00,309.30 L116.50,309.30 L117.00,309.30 L117.50,309.30 L118.00,309.30 L118.50,309.30 L119.00,309.30 L119.50,309.30 L120.00,309.30 L120.50,309.30 L121.00,309.30 L121.50,309.30 L122.00,309.30 L122.50,309.30 L123.00,309.30 L123.50,309.30 L124.00,309.30 L124.50,309.30 L125.00,309.30 L125.50,309.30 L126.00,309.30 L126.50,309.30 L127.00,309.30 L127.50,309.30 L128.00,309.30 L128.50,309.30 L129.00,309.30 L129.50,309.30 L130.00,309.30 L130.50,309.30 L131.00,309.30 L131.50,309.30 L132.00,309.30 L132.50,309.30 L133.00,309.30 L133.50,309.30 L134.00,309.30 L134.50,309.30 L135.00,309.30 L135.50,309.30 L136.00,309.30 L136.50,309.30 L137.00,309.30 L137.50,309.30 L138.00,309.30 L138.50,309.30 L139.00,309.30 L139.50,309.30 L140.00,309.30 L140.50,309.30 L141.00,309.30 L141.50,309.30 L142.00,309.30 L142.50,309.30 L143.00,309.30 L143.50,309.30 L144.00,309.30 L144.50,309.30 L145.00,309.30 L145.50,309.30 L146.00,309.30 L146.50,309.30 L147.00,309.30 L147.50,309.30 L148.00,309.30 L148.50,309.30 L149.00,309.30 L149.50,309.30 L150.00,309.30 L150.50,309.30 L151.00,309.30 L151.50,309.30 L152.00,309.30 L152.50,309.30 L153.00,309.30 L153.50,309.30 L154.00,309.24 L154.50,309.17 L155.00,309.10 L155.50,309.02 L156.00,308.94 L156.50,308.86 L157.00,308.78 L157.50,308.69 L158.00,308.61 L158.50,308.52 L159.00,308.42 L159.50,308.33 L160.00,308.23 L160.50,308.13 L161.00,308.03 L161.50,307.92 L162.00,307.80 L162.50,307.68 L163.00,307.54 L163.50,307.41 L164.00,307.27 L164.50,307.12 L165.00,306.98 L165.50,306.83 L166.00,306.68 L166.50,306.53 L167.00,306.38 L167.50,306.23 L168.00,306.07 L168.50,305.91 L169.00,305.75 L169.50,305.59 L170.00,305.42 L170.50,305.26 L171.00,305.10 L171.50,304.94 L172.00,304.77 L172.50,304.60 L173.00,304.41 L173.50,304.20 L174.00,303.98 L174.50,303.74 L175.00,303.48 L175.50,303.19 L176.00,302.86 L176.50,302.47 L177.00,301.99 L177.50,301.43 L178.00,300.81 L178.50,300.13 L179.00,299.37 L179.50,298.53 L180.00,297.59 L180.50,296.57 L181.00,295.43 L181.50,294.09 L182.00,292.56 L182.50,290.91 L183.00,289.19 L183.50,287.44 L184.00,285.73 L184.50,284.10 L185.00,282.57 L185.50,281.08 L186.00,279.62 L186.50,278.18 L187.00,276.74 L187.50,275.31 L188.00,273.87 L188.50,272.42 L189.00,270.96 L189.50,269.50 L190.00,268.03 L190.50,266.56 L191.00,265.09 L191.50,263.62 L192.00,262.16 L192.50,260.70 L193.00,259.25 L193.50,257.80 L194.00,256.36 L194.50,254.92 L195.00,253.48 L195.50,252.05 L196.00,250.63 L196.50,249.22 L197.00,247.82 L197.50,246.43 L198.00,245.04 L198.50,243.67 L199.00,242.30 L199.50,240.94 L200.00,239.59 L200.50,238.24 L201.00,236.91 L201.50,235.60 L202.00,234.29 L202.50,232.98 L203.00,231.67 L203.50,230.37 L204.00,229.05 L204.50,227.72 L205.00,226.37 L205.50,225.01 L206.00,223.63 L206.50,222.26 L207.00,220.88 L207.50,219.51 L208.00,218.16 L208.50,216.82 L209.00,215.50 L209.50,214.20 L210.00,212.90 L210.50,211.61 L211.00,210.31 L211.50,209.02 L212.00,207.73 L212.50,206.44 L213.00,205.16 L213.50,203.89 L214.00,202.62 L214.50,201.35 L215.00,200.10 L215.50,198.84 L216.00,197.59 L216.50,196.33 L217.00,195.08 L217.50,193.84 L218.00,192.59 L218.50,191.35 L219.00,190.12 L219.50,188.89 L220.00,187.67 L220.50,186.46 L221.00,185.24 L221.50,184.03 L222.00,182.82 L222.50,181.63 L223.00,180.45 L223.50,179.28 L224.00,178.14 L224.50,177.02 L225.00,175.92 L225.50,174.83 L226.00,173.75 L226.50,172.70 L227.00,171.66 L227.50,170.65 L228.00,169.67 L228.50,168.72 L229.00,167.79 L229.50,166.87 L230.00,165.97 L230.50,165.10 L231.00,164.25 L231.50,163.44 L232.00,162.67 L232.50,161.94 L233.00,161.24 L233.50,160.57 L234.00,159.92 L234.50,159.30 L235.00,158.71 L235.50,158.15 L236.00,157.62 L236.50,157.14 L237.00,156.70 L237.50,156.26 L238.00,155.84 L238.50,155.43 L239.00,155.05 L239.50,154.71 L240.00,154.41 L240.50,154.16 L241.00,153.96 L241.50,153.80 L242.00,153.64 L242.50,153.50 L243.00,153.36 L243.50,153.25 L244.00,153.15 L244.50,153.07 L245.00,153.02 L245.50,153.00 L246.00,153.01 L246.50,153.04 L247.00,153.10 L247.50,153.18 L248.00,153.28 L248.50,153.39 L249.00,153.52 L249.50,153.65 L250.00,153.79 L250.50,153.94 L251.00,154.11 L251.50,154.32 L252.00,154.57 L252.50,154.86 L253.00,155.17 L253.50,155.51 L254.00,155.87 L254.50,156.23 L255.00,156.61 L255.50,156.98 L256.00,157.38 L256.50,157.81 L257.00,158.26 L257.50,158.73 L258.00,159.23 L258.50,159.75 L259.00,160.29 L259.50,160.84 L260.00,161.41 L260.50,161.99 L261.00,162.60 L261.50,163.23 L262.00,163.90 L262.50,164.59 L263.00,165.30 L263.50,166.03 L264.00,166.78 L264.50,167.54 L265.00,168.32 L265.50,169.11 L266.00,169.92 L266.50,170.75 L267.00,171.61 L267.50,172.49 L268.00,173.39 L268.50,174.31 L269.00,175.25 L269.50,176.21 L270.00,177.19 L270.50,178.18 L271.00,179.20 L271.50,180.25 L272.00,181.32 L272.50,182.42 L273.00,183.53 L273.50,184.67 L274.00,185.82 L274.50,186.99 L275.00,188.17 L275.50,189.37 L276.00,190.59 L276.50,191.83 L277.00,193.10 L277.50,194.38 L278.00,195.69 L278.50,197.01 L279.00,198.36 L279.50,199.72 L280.00,201.11 L280.50,202.51 L281.00,203.95 L281.50,205.40 L282.00,206.88 L282.50,208.38 L283.00,209.91 L283.50,211.44 L284.00,213.00 L284.50,214.57 L285.00,216.16 L285.50,217.79 L286.00,219.45 L286.50,221.14 L287.00,222.84 L287.50,224.55 L288.00,226.25 L288.50,227.92 L289.00,229.57 L289.50,231.20 L290.00,232.81 L290.50,234.42 L291.00,236.04 L291.50,237.66 L292.00,239.30 L292.50,240.94 L293.00,242.59 L293.50,244.24 L294.00,245.89 L294.50,247.54 L295.00,249.20 L295.50,250.86 L296.00,252.53 L296.50,254.19 L297.00,255.86 L297.50,257.52 L298.00,259.17 L298.50,260.82 L299.00,262.47 L299.50,264.12 L300.00,265.77 L300.50,267.40 L301.00,269.03 L301.50,270.65 L302.00,272.26 L302.50,273.85 L303.00,275.41 L303.50,276.97 L304.00,278.52 L304.50,280.08 L305.00,281.66 L305.50,283.26 L306.00,284.94 L306.50,286.73 L307.00,288.58 L307.50,290.41 L308.00,292.18 L308.50,293.82 L309.00,295.26 L309.50,296.47 L310.00,297.55 L310.50,298.53 L311.00,299.41 L311.50,300.19 L312.00,300.89 L312.50,301.52 L313.00,302.09 L313.50,302.56 L314.00,302.95 L314.50,303.28 L315.00,303.57 L315.50,303.83 L316.00,304.07 L316.50,304.29 L317.00,304.49 L317.50,304.68 L318.00,304.86 L318.50,305.03 L319.00,305.19 L319.50,305.36 L320.00,305.52 L320.50,305.69 L321.00,305.86 L321.50,306.02 L322.00,306.18 L322.50,306.34 L323.00,306.50 L323.50,306.65 L324.00,306.80 L324.50,306.95 L325.00,307.10 L325.50,307.24 L326.00,307.39 L326.50,307.53 L327.00,307.66 L327.50,307.79 L328.00,307.91 L328.50,308.02 L329.00,308.13 L329.50,308.24 L330.00,308.33 L330.50,308.43 L331.00,308.52 L331.50,308.61 L332.00,308.70 L332.50,308.79 L333.00,308.87 L333.50,308.96 L334.00,309.04 L334.50,309.12 L335.00,309.19 L335.50,309.26 L336.00,309.30 L336.50,309.30 L337.00,309.30 L337.50,309.30 L338.00,309.30 L338.50,309.30 L339.00,309.30 L339.50,309.30 L340.00,309.30 L340.00,309.30 L110.00,309.30 Z" clip-rule="evenodd"/></clipPath><radialGradient id="bub" cx="0.45" cy="0.4" r="0.6"><stop offset="0" stop-color="#ffffff"/><stop offset="0.5" stop-color="#f1f4f9"/><stop offset="0.9" stop-color="#d3dae6"/><stop offset="1" stop-color="#c3cbd8"/></radialGradient><linearGradient id="rim" x1="0" y1="0" x2="0.25" y2="1"><stop offset="0" stop-color="#d5dae2"/><stop offset="0.5" stop-color="#aab1bc"/><stop offset="1" stop-color="#6c737d"/></linearGradient></defs><rect x="8.5" y="10.5" width="558" height="385.5" fill="#ffffff" stroke="#9ba7c0" stroke-width="3"/><rect x="65.34" y="74.10" width="433.92" height="235.20" fill="#eaeff4"/><path d="M83.42,74.10 V316.5 M101.50,74.10 V316.5 M119.58,74.10 V316.5 M137.66,74.10 V316.5 M155.74,74.10 V316.5 M173.82,74.10 V316.5 M191.90,74.10 V316.5 M209.98,74.10 V316.5 M228.06,74.10 V316.5 M246.14,74.10 V316.5 M264.22,74.10 V316.5 M300.38,74.10 V316.5 M318.46,74.10 V316.5 M336.54,74.10 V316.5 M354.62,74.10 V316.5 M372.70,74.10 V316.5 M390.78,74.10 V316.5 M408.86,74.10 V316.5 M426.94,74.10 V316.5 M445.02,74.10 V316.5 M463.10,74.10 V316.5 M481.18,74.10 V316.5 M499.26,74.10 V316.5 M58,275.70 H499.26 M58,242.10 H499.26 M58,208.50 H499.26 M58,174.90 H499.26 M58,141.30 H499.26 M58,107.70 H499.26 M58,74.10 H499.26" stroke="rgba(85,95,120,0.24)" stroke-width="1" fill="none"/><path d="M132.00,307.71 L132.50,307.58 L133.00,307.44 L133.50,307.30 L134.00,307.16 L134.50,307.01 L135.00,306.87 L135.50,306.72 L136.00,306.57 L136.50,306.42 L137.00,306.27 L137.50,306.11 L138.00,305.95 L138.50,305.79 L139.00,305.63 L139.50,305.46 L140.00,305.30 L140.50,305.14 L141.00,304.98 L141.50,304.81 L142.00,304.64 L142.50,304.45 L143.00,304.24 L143.50,304.02 L144.00,303.79 L144.50,303.53 L145.00,303.23 L145.50,302.90 L146.00,302.51 L146.50,302.03 L147.00,301.47 L147.50,300.84 L148.00,300.15 L148.50,299.38 L149.00,298.52 L149.50,297.56 L150.00,296.51 L150.50,295.32 L151.00,293.92 L151.50,292.32 L152.00,290.60 L152.50,288.81 L153.00,287.01 L153.50,285.25 L154.00,283.59 L154.50,282.02 L155.00,280.48 L155.50,278.95 L156.00,277.43 L156.50,275.91 L157.00,274.38 L157.50,272.84 L158.00,271.28 L158.50,269.70 L159.00,268.11 L159.50,266.51 L160.00,264.91 L160.50,263.30 L161.00,261.69 L161.50,260.08 L162.00,258.46 L162.50,256.84 L163.00,255.22 L163.50,253.59 L164.00,251.96 L164.50,250.34 L165.00,248.72 L165.50,247.10 L166.00,245.49 L166.50,243.87 L167.00,242.26 L167.50,240.65 L168.00,239.05 L168.50,237.46 L169.00,235.87 L169.50,234.30 L170.00,232.72 L170.50,231.14 L171.00,229.55 L171.50,227.94 L172.00,226.30 L172.50,224.64 L173.00,222.97 L173.50,221.31 L174.00,219.66 L174.50,218.03 L175.00,216.44 L175.50,214.89 L176.00,213.36 L176.50,211.84 L177.00,210.33 L177.50,208.85 L178.00,207.38 L178.50,205.93 L179.00,204.50 L179.50,203.10 L180.00,201.72 L180.50,200.36 L181.00,199.03 L181.50,197.71 L182.00,196.41 L182.50,195.13 L183.00,193.87 L183.50,192.62 L184.00,191.40 L184.50,190.20 L185.00,189.02 L185.50,187.86 L186.00,186.71 L186.50,185.58 L187.00,184.47 L187.50,183.37 L188.00,182.29 L188.50,181.23 L189.00,180.19 L189.50,179.18 L190.00,178.19 L190.50,177.23 L191.00,176.28 L191.50,175.35 L192.00,174.44 L192.50,173.55 L193.00,172.68 L193.50,171.82 L194.00,170.99 L194.50,170.18 L195.00,169.39 L195.50,168.62 L196.00,167.86 L196.50,167.12 L197.00,166.39 L197.50,165.68 L198.00,164.99 L198.50,164.32 L199.00,163.67 L199.50,163.05 L200.00,162.45 L200.50,161.89 L201.00,161.33 L201.50,160.79 L202.00,160.27 L202.50,159.76 L203.00,159.27 L203.50,158.80 L204.00,158.36 L204.50,157.94 L205.00,157.54 L205.50,157.17 L206.00,156.81 L206.50,156.45 L207.00,156.10 L207.50,155.76 L208.00,155.45 L208.50,155.16 L209.00,154.90 L209.50,154.68 L210.00,154.50 L210.50,154.35 L211.00,154.21 L211.50,154.08 L212.00,153.95 L212.50,153.83 L213.00,153.73 L213.50,153.64 L214.00,153.57 L214.50,153.53 L215.00,153.50 L215.50,153.50 L216.00,153.53 L216.50,153.59 L217.00,153.66 L217.50,153.75 L218.00,153.86 L218.50,153.97 L219.00,154.10 L219.50,154.24 L220.00,154.38 L220.50,154.53 L221.00,154.72 L221.50,154.95 L222.00,155.21 L222.50,155.51 L223.00,155.83 L223.50,156.17 L224.00,156.52 L224.50,156.88 L225.00,157.25 L225.50,157.62 L226.00,158.02 L226.50,158.44 L227.00,158.89 L227.50,159.37 L228.00,159.86 L228.50,160.37 L229.00,160.90 L229.50,161.44 L230.00,162.00 L230.50,162.57 L231.00,163.17 L231.50,163.80 L232.00,164.45 L232.50,165.12 L233.00,165.82 L233.50,166.54 L234.00,167.27 L234.50,168.02 L235.00,168.77 L235.50,169.54 L236.00,170.34 L236.50,171.15 L237.00,171.99 L237.50,172.85 L238.00,173.73 L238.50,174.62 L239.00,175.54 L239.50,176.47 L240.00,177.42 L240.50,178.39 L241.00,179.38 L241.50,180.40 L242.00,181.44 L242.50,182.50 L243.00,183.59 L243.50,184.69 L244.00,185.81 L244.50,186.94 L245.00,188.09 L245.50,189.26 L246.00,190.44 L246.50,191.65 L247.00,192.87 L247.50,194.12 L248.00,195.38 L248.50,196.67 L249.00,197.97 L249.50,199.29 L250.00,200.63 L250.50,201.99 L251.00,203.38 L251.50,204.79 L252.00,206.22 L252.50,207.67 L253.00,209.14 L253.50,210.63 L254.00,212.14 L254.50,213.66 L255.00,215.20 L255.50,216.76 L256.00,218.36 L256.50,219.99 L257.00,221.64 L257.50,223.30 L258.00,224.97 L258.50,226.63 L259.00,228.26 L259.50,229.87 L260.00,231.46 L260.50,233.04 L261.00,234.61 L261.50,236.19 L262.00,237.77 L262.50,239.37 L263.00,240.97 L263.50,242.58 L264.00,244.19 L264.50,245.81 L265.00,247.42 L265.50,249.04 L266.00,250.66 L266.50,252.29 L267.00,253.92 L267.50,255.54 L268.00,257.17 L268.50,258.79 L269.00,260.40 L269.50,262.01 L270.00,263.62 L270.50,265.23 L271.00,266.83 L271.50,268.43 L272.00,270.02 L272.50,271.59 L273.00,273.15 L273.50,274.69 L274.00,276.21 L274.50,277.73 L275.00,279.25 L275.50,280.78 L276.00,282.33 L276.50,283.91 L277.00,285.60 L277.50,287.37 L278.00,289.17 L278.50,290.95 L279.00,292.65 L279.50,294.21 L280.00,295.58 L280.50,296.72 L281.00,297.76 L281.50,298.70 L282.00,299.54 L282.50,300.30 L283.00,300.97 L283.50,301.59 L284.00,302.13 L284.50,302.60 L285.00,302.97 L285.50,303.30 L286.00,303.58 L286.50,303.84 L287.00,304.07 L287.50,304.29 L288.00,304.49 L288.50,304.67 L289.00,304.85 L289.50,305.01 L290.00,305.17 L290.50,305.33 L291.00,305.50 L291.50,305.66 L292.00,305.82 L292.50,305.98 L293.00,306.14 L293.50,306.30 L294.00,306.45 L294.50,306.60 L295.00,306.75 L295.50,306.89 L296.00,307.04 L296.50,307.19 L297.00,307.33 L297.50,307.47 L298.00,307.60 L298.50,307.73 L299.00,307.85 L299.50,307.97 L300.00,308.07 L300.50,308.18 L301.00,308.28 L301.50,308.37 L302.00,308.46 L302.50,308.55 L303.00,308.64 L303.50,308.73 L304.00,308.81" fill="none" stroke="#ffffff" stroke-opacity="0.45" stroke-width="6.5" stroke-linejoin="round"/><path d="M162.00,307.80 L162.50,307.68 L163.00,307.54 L163.50,307.41 L164.00,307.27 L164.50,307.12 L165.00,306.98 L165.50,306.83 L166.00,306.68 L166.50,306.53 L167.00,306.38 L167.50,306.23 L168.00,306.07 L168.50,305.91 L169.00,305.75 L169.50,305.59 L170.00,305.42 L170.50,305.26 L171.00,305.10 L171.50,304.94 L172.00,304.77 L172.50,304.60 L173.00,304.41 L173.50,304.20 L174.00,303.98 L174.50,303.74 L175.00,303.48 L175.50,303.19 L176.00,302.86 L176.50,302.47 L177.00,301.99 L177.50,301.43 L178.00,300.81 L178.50,300.13 L179.00,299.37 L179.50,298.53 L180.00,297.59 L180.50,296.57 L181.00,295.43 L181.50,294.09 L182.00,292.56 L182.50,290.91 L183.00,289.19 L183.50,287.44 L184.00,285.73 L184.50,284.10 L185.00,282.57 L185.50,281.08 L186.00,279.62 L186.50,278.18 L187.00,276.74 L187.50,275.31 L188.00,273.87 L188.50,272.42 L189.00,270.96 L189.50,269.50 L190.00,268.03 L190.50,266.56 L191.00,265.09 L191.50,263.62 L192.00,262.16 L192.50,260.70 L193.00,259.25 L193.50,257.80 L194.00,256.36 L194.50,254.92 L195.00,253.48 L195.50,252.05 L196.00,250.63 L196.50,249.22 L197.00,247.82 L197.50,246.43 L198.00,245.04 L198.50,243.67 L199.00,242.30 L199.50,240.94 L200.00,239.59 L200.50,238.24 L201.00,236.91 L201.50,235.60 L202.00,234.29 L202.50,232.98 L203.00,231.67 L203.50,230.37 L204.00,229.05 L204.50,227.72 L205.00,226.37 L205.50,225.01 L206.00,223.63 L206.50,222.26 L207.00,220.88 L207.50,219.51 L208.00,218.16 L208.50,216.82 L209.00,215.50 L209.50,214.20 L210.00,212.90 L210.50,211.61 L211.00,210.31 L211.50,209.02 L212.00,207.73 L212.50,206.44 L213.00,205.16 L213.50,203.89 L214.00,202.62 L214.50,201.35 L215.00,200.10 L215.50,198.84 L216.00,197.59 L216.50,196.33 L217.00,195.08 L217.50,193.84 L218.00,192.59 L218.50,191.35 L219.00,190.12 L219.50,188.89 L220.00,187.67 L220.50,186.46 L221.00,185.24 L221.50,184.03 L222.00,182.82 L222.50,181.63 L223.00,180.45 L223.50,179.28 L224.00,178.14 L224.50,177.02 L225.00,175.92 L225.50,174.83 L226.00,173.75 L226.50,172.70 L227.00,171.66 L227.50,170.65 L228.00,169.67 L228.50,168.72 L229.00,167.79 L229.50,166.87 L230.00,165.97 L230.50,165.10 L231.00,164.25 L231.50,163.44 L232.00,162.67 L232.50,161.94 L233.00,161.24 L233.50,160.57 L234.00,159.92 L234.50,159.30 L235.00,158.71 L235.50,158.15 L236.00,157.62 L236.50,157.14 L237.00,156.70 L237.50,156.26 L238.00,155.84 L238.50,155.43 L239.00,155.05 L239.50,154.71 L240.00,154.41 L240.50,154.16 L241.00,153.96 L241.50,153.80 L242.00,153.64 L242.50,153.50 L243.00,153.36 L243.50,153.25 L244.00,153.15 L244.50,153.07 L245.00,153.02 L245.50,153.00 L246.00,153.01 L246.50,153.04 L247.00,153.10 L247.50,153.18 L248.00,153.28 L248.50,153.39 L249.00,153.52 L249.50,153.65 L250.00,153.79 L250.50,153.94 L251.00,154.11 L251.50,154.32 L252.00,154.57 L252.50,154.86 L253.00,155.17 L253.50,155.51 L254.00,155.87 L254.50,156.23 L255.00,156.61 L255.50,156.98 L256.00,157.38 L256.50,157.81 L257.00,158.26 L257.50,158.73 L258.00,159.23 L258.50,159.75 L259.00,160.29 L259.50,160.84 L260.00,161.41 L260.50,161.99 L261.00,162.60 L261.50,163.23 L262.00,163.90 L262.50,164.59 L263.00,165.30 L263.50,166.03 L264.00,166.78 L264.50,167.54 L265.00,168.32 L265.50,169.11 L266.00,169.92 L266.50,170.75 L267.00,171.61 L267.50,172.49 L268.00,173.39 L268.50,174.31 L269.00,175.25 L269.50,176.21 L270.00,177.19 L270.50,178.18 L271.00,179.20 L271.50,180.25 L272.00,181.32 L272.50,182.42 L273.00,183.53 L273.50,184.67 L274.00,185.82 L274.50,186.99 L275.00,188.17 L275.50,189.37 L276.00,190.59 L276.50,191.83 L277.00,193.10 L277.50,194.38 L278.00,195.69 L278.50,197.01 L279.00,198.36 L279.50,199.72 L280.00,201.11 L280.50,202.51 L281.00,203.95 L281.50,205.40 L282.00,206.88 L282.50,208.38 L283.00,209.91 L283.50,211.44 L284.00,213.00 L284.50,214.57 L285.00,216.16 L285.50,217.79 L286.00,219.45 L286.50,221.14 L287.00,222.84 L287.50,224.55 L288.00,226.25 L288.50,227.92 L289.00,229.57 L289.50,231.20 L290.00,232.81 L290.50,234.42 L291.00,236.04 L291.50,237.66 L292.00,239.30 L292.50,240.94 L293.00,242.59 L293.50,244.24 L294.00,245.89 L294.50,247.54 L295.00,249.20 L295.50,250.86 L296.00,252.53 L296.50,254.19 L297.00,255.86 L297.50,257.52 L298.00,259.17 L298.50,260.82 L299.00,262.47 L299.50,264.12 L300.00,265.77 L300.50,267.40 L301.00,269.03 L301.50,270.65 L302.00,272.26 L302.50,273.85 L303.00,275.41 L303.50,276.97 L304.00,278.52 L304.50,280.08 L305.00,281.66 L305.50,283.26 L306.00,284.94 L306.50,286.73 L307.00,288.58 L307.50,290.41 L308.00,292.18 L308.50,293.82 L309.00,295.26 L309.50,296.47 L310.00,297.55 L310.50,298.53 L311.00,299.41 L311.50,300.19 L312.00,300.89 L312.50,301.52 L313.00,302.09 L313.50,302.56 L314.00,302.95 L314.50,303.28 L315.00,303.57 L315.50,303.83 L316.00,304.07 L316.50,304.29 L317.00,304.49 L317.50,304.68 L318.00,304.86 L318.50,305.03 L319.00,305.19 L319.50,305.36 L320.00,305.52 L320.50,305.69 L321.00,305.86 L321.50,306.02 L322.00,306.18 L322.50,306.34 L323.00,306.50 L323.50,306.65 L324.00,306.80 L324.50,306.95 L325.00,307.10 L325.50,307.24 L326.00,307.39 L326.50,307.53 L327.00,307.66 L327.50,307.79 L328.00,307.91 L328.50,308.02 L329.00,308.13" fill="none" stroke="#ffffff" stroke-opacity="0.45" stroke-width="6.5" stroke-linejoin="round"/><path d="M226.00,309.30 L226.50,309.30 L227.00,309.30 L227.50,309.30 L228.00,309.30 L228.50,309.30 L229.00,309.30 L229.50,309.30 L230.00,309.30 L230.50,309.27 L231.00,309.19 L231.50,309.10 L232.00,309.01 L232.50,308.91 L233.00,308.82 L233.50,308.72 L234.00,308.62 L234.50,308.51 L235.00,308.40 L235.50,308.29 L236.00,308.18 L236.50,308.06 L237.00,307.93 L237.50,307.80 L238.00,307.66 L238.50,307.51 L239.00,307.35 L239.50,307.18 L240.00,307.01 L240.50,306.84 L241.00,306.66 L241.50,306.49 L242.00,306.31 L242.50,306.13 L243.00,305.94 L243.50,305.76 L244.00,305.56 L244.50,305.37 L245.00,305.18 L245.50,304.99 L246.00,304.80 L246.50,304.60 L247.00,304.39 L247.50,304.17 L248.00,303.93 L248.50,303.66 L249.00,303.37 L249.50,303.05 L250.00,302.67 L250.50,302.24 L251.00,301.69 L251.50,301.02 L252.00,300.28 L252.50,299.44 L253.00,298.49 L253.50,297.42 L254.00,296.22 L254.50,294.88 L255.00,293.26 L255.50,291.38 L256.00,289.33 L256.50,287.20 L257.00,285.07 L257.50,283.02 L258.00,281.12 L258.50,279.28 L259.00,277.46 L259.50,275.65 L260.00,273.85 L260.50,272.03 L261.00,270.20 L261.50,268.33 L262.00,266.45 L262.50,264.55 L263.00,262.65 L263.50,260.74 L264.00,258.82 L264.50,256.91 L265.00,254.99 L265.50,253.06 L266.00,251.13 L266.50,249.20 L267.00,247.27 L267.50,245.34 L268.00,243.42 L268.50,241.50 L269.00,239.59 L269.50,237.67 L270.00,235.77 L270.50,233.87 L271.00,231.99 L271.50,230.11 L272.00,228.24 L272.50,226.36 L273.00,224.47 L273.50,222.54 L274.00,220.58 L274.50,218.60 L275.00,216.62 L275.50,214.66 L276.00,212.73 L276.50,210.85 L277.00,209.01 L277.50,207.20 L278.00,205.40 L278.50,203.62 L279.00,201.87 L279.50,200.15 L280.00,198.45 L280.50,196.79 L281.00,195.16 L281.50,193.56 L282.00,191.98 L282.50,190.43 L283.00,188.90 L283.50,187.40 L284.00,185.92 L284.50,184.47 L285.00,183.05 L285.50,181.66 L286.00,180.29 L286.50,178.93 L287.00,177.60 L287.50,176.29 L288.00,175.01 L288.50,173.76 L289.00,172.53 L289.50,171.34 L290.00,170.18 L290.50,169.05 L291.00,167.94 L291.50,166.85 L292.00,165.79 L292.50,164.75 L293.00,163.74 L293.50,162.76 L294.00,161.81 L294.50,160.89 L295.00,159.99 L295.50,159.10 L296.00,158.23 L296.50,157.39 L297.00,156.57 L297.50,155.78 L298.00,155.02 L298.50,154.30 L299.00,153.62 L299.50,152.96 L300.00,152.32 L300.50,151.69 L301.00,151.09 L301.50,150.52 L302.00,149.98 L302.50,149.46 L303.00,148.99 L303.50,148.54 L304.00,148.11 L304.50,147.68 L305.00,147.27 L305.50,146.87 L306.00,146.51 L306.50,146.19 L307.00,145.91 L307.50,145.68 L308.00,145.50 L308.50,145.34 L309.00,145.18 L309.50,145.03 L310.00,144.90 L310.50,144.79 L311.00,144.70 L311.50,144.63 L312.00,144.60 L312.50,144.61 L313.00,144.64 L313.50,144.71 L314.00,144.80 L314.50,144.91 L315.00,145.04 L315.50,145.18 L316.00,145.34 L316.50,145.50 L317.00,145.67 L317.50,145.89 L318.00,146.15 L318.50,146.46 L319.00,146.81 L319.50,147.19 L320.00,147.58 L320.50,148.00 L321.00,148.42 L321.50,148.85 L322.00,149.30 L322.50,149.79 L323.00,150.30 L323.50,150.85 L324.00,151.42 L324.50,152.02 L325.00,152.64 L325.50,153.27 L326.00,153.92 L326.50,154.60 L327.00,155.32 L327.50,156.06 L328.00,156.84 L328.50,157.65 L329.00,158.47 L329.50,159.32 L330.00,160.19 L330.50,161.07 L331.00,161.97 L331.50,162.90 L332.00,163.86 L332.50,164.85 L333.00,165.86 L333.50,166.89 L334.00,167.95 L334.50,169.03 L335.00,170.13 L335.50,171.25 L336.00,172.41 L336.50,173.60 L337.00,174.81 L337.50,176.06 L338.00,177.33 L338.50,178.62 L339.00,179.93 L339.50,181.26 L340.00,182.60 L340.50,183.98 L341.00,185.38 L341.50,186.80 L342.00,188.25 L342.50,189.73 L343.00,191.23 L343.50,192.75 L344.00,194.30 L344.50,195.86 L345.00,197.47 L345.50,199.10 L346.00,200.76 L346.50,202.44 L347.00,204.15 L347.50,205.88 L348.00,207.64 L348.50,209.41 L349.00,211.20 L349.50,213.04 L350.00,214.92 L350.50,216.83 L351.00,218.76 L351.50,220.68 L352.00,222.59 L352.50,224.46 L353.00,226.31 L353.50,228.14 L354.00,229.96 L354.50,231.78 L355.00,233.61 L355.50,235.45 L356.00,237.30 L356.50,239.16 L357.00,241.03 L357.50,242.89 L358.00,244.76 L358.50,246.63 L359.00,248.51 L359.50,250.39 L360.00,252.27 L360.50,254.15 L361.00,256.02 L361.50,257.88 L362.00,259.74 L362.50,261.60 L363.00,263.46 L363.50,265.31 L364.00,267.14 L364.50,268.97 L365.00,270.78 L365.50,272.56 L366.00,274.32 L366.50,276.07 L367.00,277.83 L367.50,279.60 L368.00,281.40 L368.50,283.27 L369.00,285.27 L369.50,287.35 L370.00,289.42 L370.50,291.41 L371.00,293.23 L371.50,294.82 L372.00,296.13 L372.50,297.31 L373.00,298.37 L373.50,299.31 L374.00,300.14 L374.50,300.88 L375.00,301.54 L375.50,302.11 L376.00,302.56 L376.50,302.94 L377.00,303.27 L377.50,303.56 L378.00,303.82 L378.50,304.07 L379.00,304.29 L379.50,304.50 L380.00,304.70 L380.50,304.89 L381.00,305.07 L381.50,305.26 L382.00,305.45 L382.50,305.63 L383.00,305.82 L383.50,306.00 L384.00,306.18 L384.50,306.36 L385.00,306.53 L385.50,306.70 L386.00,306.87 L386.50,307.03 L387.00,307.20 L387.50,307.36 L388.00,307.52 L388.50,307.66 L389.00,307.80 L389.50,307.93 L390.00,308.05 L390.50,308.17 L391.00,308.28 L391.50,308.39 L392.00,308.50 L392.50,308.60 L393.00,308.70 L393.50,308.79 L394.00,308.89 L394.50,308.98 L395.00,309.07" fill="none" stroke="#ffffff" stroke-opacity="0.45" stroke-width="6.5" stroke-linejoin="round"/><path d="M270.00,309.30 L270.50,309.29 L271.00,309.21 L271.50,309.12 L272.00,309.03 L272.50,308.94 L273.00,308.85 L273.50,308.75 L274.00,308.66 L274.50,308.56 L275.00,308.45 L275.50,308.35 L276.00,308.24 L276.50,308.12 L277.00,308.00 L277.50,307.88 L278.00,307.75 L278.50,307.60 L279.00,307.45 L279.50,307.29 L280.00,307.13 L280.50,306.96 L281.00,306.79 L281.50,306.63 L282.00,306.46 L282.50,306.28 L283.00,306.10 L283.50,305.92 L284.00,305.74 L284.50,305.55 L285.00,305.36 L285.50,305.17 L286.00,304.99 L286.50,304.80 L287.00,304.61 L287.50,304.41 L288.00,304.20 L288.50,303.96 L289.00,303.71 L289.50,303.43 L290.00,303.13 L290.50,302.78 L291.00,302.38 L291.50,301.88 L292.00,301.27 L292.50,300.57 L293.00,299.80 L293.50,298.93 L294.00,297.94 L294.50,296.83 L295.00,295.60 L295.50,294.19 L296.00,292.50 L296.50,290.59 L297.00,288.56 L297.50,286.47 L298.00,284.41 L298.50,282.45 L299.00,280.63 L299.50,278.83 L300.00,277.07 L300.50,275.31 L301.00,273.55 L301.50,271.78 L302.00,269.99 L302.50,268.17 L303.00,266.33 L303.50,264.49 L304.00,262.63 L304.50,260.77 L305.00,258.90 L305.50,257.04 L306.00,255.17 L306.50,253.29 L307.00,251.41 L307.50,249.53 L308.00,247.65 L308.50,245.77 L309.00,243.89 L309.50,242.02 L310.00,240.16 L310.50,238.29 L311.00,236.43 L311.50,234.58 L312.00,232.73 L312.50,230.91 L313.00,229.08 L313.50,227.26 L314.00,225.42 L314.50,223.56 L315.00,221.67 L315.50,219.75 L316.00,217.82 L316.50,215.90 L317.00,213.99 L317.50,212.12 L318.00,210.30 L318.50,208.52 L319.00,206.75 L319.50,205.00 L320.00,203.27 L320.50,201.57 L321.00,199.89 L321.50,198.24 L322.00,196.62 L322.50,195.03 L323.00,193.46 L323.50,191.93 L324.00,190.41 L324.50,188.92 L325.00,187.45 L325.50,186.00 L326.00,184.59 L326.50,183.19 L327.00,181.83 L327.50,180.49 L328.00,179.16 L328.50,177.86 L329.00,176.58 L329.50,175.31 L330.00,174.08 L330.50,172.87 L331.00,171.69 L331.50,170.55 L332.00,169.43 L332.50,168.34 L333.00,167.26 L333.50,166.21 L334.00,165.19 L334.50,164.18 L335.00,163.21 L335.50,162.26 L336.00,161.34 L336.50,160.45 L337.00,159.57 L337.50,158.71 L338.00,157.87 L338.50,157.04 L339.00,156.25 L339.50,155.48 L340.00,154.75 L340.50,154.04 L341.00,153.38 L341.50,152.73 L342.00,152.10 L342.50,151.49 L343.00,150.90 L343.50,150.34 L344.00,149.80 L344.50,149.30 L345.00,148.82 L345.50,148.38 L346.00,147.96 L346.50,147.54 L347.00,147.13 L347.50,146.74 L348.00,146.37 L348.50,146.04 L349.00,145.74 L349.50,145.49 L350.00,145.30 L350.50,145.13 L351.00,144.98 L351.50,144.82 L352.00,144.69 L352.50,144.56 L353.00,144.46 L353.50,144.38 L354.00,144.32 L354.50,144.30 L355.00,144.31 L355.50,144.35 L356.00,144.42 L356.50,144.52 L357.00,144.64 L357.50,144.77 L358.00,144.92 L358.50,145.08 L359.00,145.24 L359.50,145.42 L360.00,145.65 L360.50,145.93 L361.00,146.26 L361.50,146.62 L362.00,147.00 L362.50,147.41 L363.00,147.83 L363.50,148.25 L364.00,148.69 L364.50,149.16 L365.00,149.66 L365.50,150.19 L366.00,150.75 L366.50,151.33 L367.00,151.94 L367.50,152.57 L368.00,153.21 L368.50,153.87 L369.00,154.57 L369.50,155.30 L370.00,156.07 L370.50,156.86 L371.00,157.68 L371.50,158.53 L372.00,159.39 L372.50,160.27 L373.00,161.16 L373.50,162.08 L374.00,163.03 L374.50,164.01 L375.00,165.01 L375.50,166.04 L376.00,167.09 L376.50,168.16 L377.00,169.26 L377.50,170.38 L378.00,171.53 L378.50,172.71 L379.00,173.92 L379.50,175.16 L380.00,176.42 L380.50,177.71 L381.00,179.02 L381.50,180.35 L382.00,181.70 L382.50,183.07 L383.00,184.46 L383.50,185.89 L384.00,187.34 L384.50,188.81 L385.00,190.31 L385.50,191.83 L386.00,193.38 L386.50,194.95 L387.00,196.55 L387.50,198.18 L388.00,199.83 L388.50,201.52 L389.00,203.23 L389.50,204.97 L390.00,206.73 L390.50,208.51 L391.00,210.30 L391.50,212.13 L392.00,214.01 L392.50,215.93 L393.00,217.86 L393.50,219.80 L394.00,221.73 L394.50,223.63 L395.00,225.50 L395.50,227.35 L396.00,229.18 L396.50,231.02 L397.00,232.86 L397.50,234.71 L398.00,236.57 L398.50,238.44 L399.00,240.32 L399.50,242.20 L400.00,244.08 L400.50,245.96 L401.00,247.85 L401.50,249.75 L402.00,251.64 L402.50,253.53 L403.00,255.42 L403.50,257.30 L404.00,259.17 L404.50,261.05 L405.00,262.92 L405.50,264.78 L406.00,266.64 L406.50,268.48 L407.00,270.30 L407.50,272.10 L408.00,273.88 L408.50,275.65 L409.00,277.41 L409.50,279.20 L410.00,281.00 L410.50,282.86 L411.00,284.86 L411.50,286.94 L412.00,289.04 L412.50,291.06 L413.00,292.93 L413.50,294.57 L414.00,295.92 L414.50,297.13 L415.00,298.21 L415.50,299.17 L416.00,300.02 L416.50,300.78 L417.00,301.46 L417.50,302.04 L418.00,302.50 L418.50,302.89 L419.00,303.23 L419.50,303.52 L420.00,303.79 L420.50,304.04 L421.00,304.27 L421.50,304.48 L422.00,304.68 L422.50,304.87 L423.00,305.05 L423.50,305.24 L424.00,305.43 L424.50,305.62 L425.00,305.81 L425.50,305.99 L426.00,306.17 L426.50,306.35 L427.00,306.52 L427.50,306.69 L428.00,306.86 L428.50,307.03 L429.00,307.20 L429.50,307.36 L430.00,307.52 L430.50,307.67 L431.00,307.80 L431.50,307.93 L432.00,308.06 L432.50,308.17 L433.00,308.29 L433.50,308.40 L434.00,308.50 L434.50,308.60 L435.00,308.70 L435.50,308.80 L436.00,308.90 L436.50,308.99 L437.00,309.08 L437.50,309.17 L438.00,309.25" fill="none" stroke="#ffffff" stroke-opacity="0.45" stroke-width="6.5" stroke-linejoin="round"/><path d="M110.00,309.30 L110.50,309.30 L111.00,309.30 L111.50,309.30 L112.00,309.30 L112.50,309.30 L113.00,309.30 L113.50,309.30 L114.00,309.30 L114.50,309.30 L115.00,309.30 L115.50,309.30 L116.00,309.30 L116.50,309.30 L117.00,309.30 L117.50,309.30 L118.00,309.30 L118.50,309.30 L119.00,309.30 L119.50,309.30 L120.00,309.30 L120.50,309.30 L121.00,309.30 L121.50,309.30 L122.00,309.30 L122.50,309.30 L123.00,309.30 L123.50,309.26 L124.00,309.19 L124.50,309.11 L125.00,309.04 L125.50,308.96 L126.00,308.88 L126.50,308.80 L127.00,308.71 L127.50,308.62 L128.00,308.54 L128.50,308.45 L129.00,308.35 L129.50,308.26 L130.00,308.16 L130.50,308.05 L131.00,307.94 L131.50,307.83 L132.00,307.71 L132.50,307.58 L133.00,307.44 L133.50,307.30 L134.00,307.16 L134.50,307.01 L135.00,306.87 L135.50,306.72 L136.00,306.57 L136.50,306.42 L137.00,306.27 L137.50,306.11 L138.00,305.95 L138.50,305.79 L139.00,305.63 L139.50,305.46 L140.00,305.30 L140.50,305.14 L141.00,304.98 L141.50,304.81 L142.00,304.64 L142.50,304.45 L143.00,304.24 L143.50,304.02 L144.00,303.79 L144.50,303.53 L145.00,303.23 L145.50,302.90 L146.00,302.51 L146.50,302.03 L147.00,301.47 L147.50,300.84 L148.00,300.15 L148.50,299.38 L149.00,298.52 L149.50,297.56 L150.00,296.51 L150.50,295.32 L151.00,293.92 L151.50,292.32 L152.00,290.60 L152.50,288.81 L153.00,287.01 L153.50,285.25 L154.00,283.59 L154.50,282.02 L155.00,280.48 L155.50,278.95 L156.00,277.43 L156.50,275.91 L157.00,274.38 L157.50,272.84 L158.00,271.28 L158.50,269.70 L159.00,268.11 L159.50,266.51 L160.00,264.91 L160.50,263.30 L161.00,261.69 L161.50,260.08 L162.00,258.46 L162.50,256.84 L163.00,255.22 L163.50,253.59 L164.00,251.96 L164.50,250.34 L165.00,248.72 L165.50,247.10 L166.00,245.49 L166.50,243.87 L167.00,242.26 L167.50,240.65 L168.00,239.05 L168.50,237.46 L169.00,235.87 L169.50,234.30 L170.00,232.72 L170.50,231.14 L171.00,229.55 L171.50,227.94 L172.00,226.30 L172.50,224.64 L173.00,222.97 L173.50,221.31 L174.00,219.66 L174.50,218.03 L175.00,216.44 L175.50,214.89 L176.00,213.36 L176.50,211.84 L177.00,210.33 L177.50,208.85 L178.00,207.38 L178.50,205.93 L179.00,204.50 L179.50,203.10 L180.00,201.72 L180.50,200.36 L181.00,199.03 L181.50,197.71 L182.00,196.41 L182.50,195.13 L183.00,193.87 L183.50,192.62 L184.00,191.40 L184.50,190.20 L185.00,189.02 L185.50,187.86 L186.00,186.71 L186.50,185.58 L187.00,184.47 L187.50,183.37 L188.00,182.29 L188.50,181.23 L189.00,180.19 L189.50,179.18 L190.00,178.19 L190.50,177.23 L191.00,176.28 L191.50,175.35 L192.00,174.44 L192.50,173.55 L193.00,172.68 L193.50,171.82 L194.00,170.99 L194.50,170.18 L195.00,169.39 L195.50,168.62 L196.00,167.86 L196.50,167.12 L197.00,166.39 L197.50,165.68 L198.00,164.99 L198.50,164.32 L199.00,163.67 L199.50,163.05 L200.00,162.45 L200.50,161.89 L201.00,161.33 L201.50,160.79 L202.00,160.27 L202.50,159.76 L203.00,159.27 L203.50,158.80 L204.00,158.36 L204.50,157.94 L205.00,157.54 L205.50,157.17 L206.00,156.81 L206.50,156.45 L207.00,156.10 L207.50,155.76 L208.00,155.45 L208.50,155.16 L209.00,154.90 L209.50,154.68 L210.00,154.50 L210.50,154.35 L211.00,154.21 L211.50,154.08 L212.00,153.95 L212.50,153.83 L213.00,153.73 L213.50,153.64 L214.00,153.57 L214.50,153.53 L215.00,153.50 L215.50,153.50 L216.00,153.53 L216.50,153.59 L217.00,153.66 L217.50,153.75 L218.00,153.86 L218.50,153.97 L219.00,154.10 L219.50,154.24 L220.00,154.38 L220.50,154.53 L221.00,154.72 L221.50,154.95 L222.00,155.21 L222.50,155.51 L223.00,155.83 L223.50,156.17 L224.00,156.52 L224.50,156.88 L225.00,157.25 L225.50,157.62 L226.00,158.02 L226.50,158.44 L227.00,158.89 L227.50,159.37 L228.00,159.86 L228.50,160.37 L229.00,160.90 L229.50,161.44 L230.00,162.00 L230.50,162.57 L231.00,163.17 L231.50,163.80 L232.00,164.45 L232.50,165.12 L233.00,165.82 L233.50,166.54 L234.00,167.27 L234.50,168.02 L235.00,168.77 L235.50,169.54 L236.00,170.34 L236.50,171.15 L237.00,171.99 L237.50,172.85 L238.00,173.73 L238.50,174.62 L239.00,175.54 L239.50,176.47 L240.00,177.42 L240.50,178.39 L241.00,179.38 L241.50,180.40 L242.00,181.44 L242.50,182.50 L243.00,183.59 L243.50,184.69 L244.00,185.81 L244.50,186.94 L245.00,188.09 L245.50,189.26 L246.00,190.44 L246.50,191.65 L247.00,192.87 L247.50,194.12 L248.00,195.38 L248.50,196.67 L249.00,197.97 L249.50,199.29 L250.00,200.63 L250.50,201.99 L251.00,203.38 L251.50,204.79 L252.00,206.22 L252.50,207.67 L253.00,209.14 L253.50,210.63 L254.00,212.14 L254.50,213.66 L255.00,215.20 L255.50,216.76 L256.00,218.36 L256.50,219.99 L257.00,221.64 L257.50,223.30 L258.00,224.97 L258.50,226.63 L259.00,228.26 L259.50,229.87 L260.00,231.46 L260.50,233.04 L261.00,234.61 L261.50,236.19 L262.00,237.77 L262.50,239.37 L263.00,240.97 L263.50,242.58 L264.00,244.19 L264.50,245.81 L265.00,247.42 L265.50,249.04 L266.00,250.66 L266.50,252.29 L267.00,253.92 L267.50,255.54 L268.00,257.17 L268.50,258.79 L269.00,260.40 L269.50,262.01 L270.00,263.62 L270.50,265.23 L271.00,266.83 L271.50,268.43 L272.00,270.02 L272.50,271.59 L273.00,273.15 L273.50,274.69 L274.00,276.21 L274.50,277.73 L275.00,279.25 L275.50,280.78 L276.00,282.33 L276.50,283.91 L277.00,285.60 L277.50,287.37 L278.00,289.17 L278.50,290.95 L279.00,292.65 L279.50,294.21 L280.00,295.58 L280.50,296.72 L281.00,297.76 L281.50,298.70 L282.00,299.54 L282.50,300.30 L283.00,300.97 L283.50,301.59 L284.00,302.13 L284.50,302.60 L285.00,302.97 L285.50,303.30 L286.00,303.58 L286.50,303.84 L287.00,304.07 L287.50,304.29 L288.00,304.49 L288.50,304.67 L289.00,304.85 L289.50,305.01 L290.00,305.17 L290.50,305.33 L291.00,305.50 L291.50,305.66 L292.00,305.82 L292.50,305.98 L293.00,306.14 L293.50,306.30 L294.00,306.45 L294.50,306.60 L295.00,306.75 L295.50,306.89 L296.00,307.04 L296.50,307.19 L297.00,307.33 L297.50,307.47 L298.00,307.60 L298.50,307.73 L299.00,307.85 L299.50,307.97 L300.00,308.07 L300.50,308.18 L301.00,308.28 L301.50,308.37 L302.00,308.46 L302.50,308.55 L303.00,308.64 L303.50,308.73 L304.00,308.81 L304.50,308.90 L305.00,308.98 L305.50,309.05 L306.00,309.13 L306.50,309.20 L307.00,309.27 L307.50,309.30 L308.00,309.30 L308.50,309.30 L309.00,309.30 L309.50,309.30 L310.00,309.30 L310.50,309.30 L311.00,309.30 L311.50,309.30 L312.00,309.30 L312.50,309.30 L313.00,309.30 L313.50,309.30 L314.00,309.30 L314.50,309.30 L315.00,309.30 L315.50,309.30 L316.00,309.30 L316.50,309.30 L317.00,309.30 L317.50,309.30 L318.00,309.30 L318.50,309.30 L319.00,309.30 L319.50,309.30 L320.00,309.30 L320.50,309.30 L321.00,309.30 L321.50,309.30 L322.00,309.30 L322.50,309.30 L323.00,309.30 L323.50,309.30 L324.00,309.30 L324.50,309.30 L325.00,309.30 L325.50,309.30 L326.00,309.30 L326.50,309.30 L327.00,309.30 L327.50,309.30 L328.00,309.30 L328.50,309.30 L329.00,309.30 L329.50,309.30 L330.00,309.30 L330.50,309.30 L331.00,309.30 L331.50,309.30 L332.00,309.30 L332.50,309.30 L333.00,309.30 L333.50,309.30 L334.00,309.30 L334.50,309.30 L335.00,309.30 L335.50,309.30 L336.00,309.30 L336.50,309.30 L337.00,309.30 L337.50,309.30 L338.00,309.30 L338.50,309.30 L339.00,309.30 L339.50,309.30 L340.00,309.30 L340.00,309.30 L110.00,309.30 Z M110.00,309.30 L110.50,309.30 L111.00,309.30 L111.50,309.30 L112.00,309.30 L112.50,309.30 L113.00,309.30 L113.50,309.30 L114.00,309.30 L114.50,309.30 L115.00,309.30 L115.50,309.30 L116.00,309.30 L116.50,309.30 L117.00,309.30 L117.50,309.30 L118.00,309.30 L118.50,309.30 L119.00,309.30 L119.50,309.30 L120.00,309.30 L120.50,309.30 L121.00,309.30 L121.50,309.30 L122.00,309.30 L122.50,309.30 L123.00,309.30 L123.50,309.30 L124.00,309.30 L124.50,309.30 L125.00,309.30 L125.50,309.30 L126.00,309.30 L126.50,309.30 L127.00,309.30 L127.50,309.30 L128.00,309.30 L128.50,309.30 L129.00,309.30 L129.50,309.30 L130.00,309.30 L130.50,309.30 L131.00,309.30 L131.50,309.30 L132.00,309.30 L132.50,309.30 L133.00,309.30 L133.50,309.30 L134.00,309.30 L134.50,309.30 L135.00,309.30 L135.50,309.30 L136.00,309.30 L136.50,309.30 L137.00,309.30 L137.50,309.30 L138.00,309.30 L138.50,309.30 L139.00,309.30 L139.50,309.30 L140.00,309.30 L140.50,309.30 L141.00,309.30 L141.50,309.30 L142.00,309.30 L142.50,309.30 L143.00,309.30 L143.50,309.30 L144.00,309.30 L144.50,309.30 L145.00,309.30 L145.50,309.30 L146.00,309.30 L146.50,309.30 L147.00,309.30 L147.50,309.30 L148.00,309.30 L148.50,309.30 L149.00,309.30 L149.50,309.30 L150.00,309.30 L150.50,309.30 L151.00,309.30 L151.50,309.30 L152.00,309.30 L152.50,309.30 L153.00,309.30 L153.50,309.30 L154.00,309.24 L154.50,309.17 L155.00,309.10 L155.50,309.02 L156.00,308.94 L156.50,308.86 L157.00,308.78 L157.50,308.69 L158.00,308.61 L158.50,308.52 L159.00,308.42 L159.50,308.33 L160.00,308.23 L160.50,308.13 L161.00,308.03 L161.50,307.92 L162.00,307.80 L162.50,307.68 L163.00,307.54 L163.50,307.41 L164.00,307.27 L164.50,307.12 L165.00,306.98 L165.50,306.83 L166.00,306.68 L166.50,306.53 L167.00,306.38 L167.50,306.23 L168.00,306.07 L168.50,305.91 L169.00,305.75 L169.50,305.59 L170.00,305.42 L170.50,305.26 L171.00,305.10 L171.50,304.94 L172.00,304.77 L172.50,304.60 L173.00,304.41 L173.50,304.20 L174.00,303.98 L174.50,303.74 L175.00,303.48 L175.50,303.19 L176.00,302.86 L176.50,302.47 L177.00,301.99 L177.50,301.43 L178.00,300.81 L178.50,300.13 L179.00,299.37 L179.50,298.53 L180.00,297.59 L180.50,296.57 L181.00,295.43 L181.50,294.09 L182.00,292.56 L182.50,290.91 L183.00,289.19 L183.50,287.44 L184.00,285.73 L184.50,284.10 L185.00,282.57 L185.50,281.08 L186.00,279.62 L186.50,278.18 L187.00,276.74 L187.50,275.31 L188.00,273.87 L188.50,272.42 L189.00,270.96 L189.50,269.50 L190.00,268.03 L190.50,266.56 L191.00,265.09 L191.50,263.62 L192.00,262.16 L192.50,260.70 L193.00,259.25 L193.50,257.80 L194.00,256.36 L194.50,254.92 L195.00,253.48 L195.50,252.05 L196.00,250.63 L196.50,249.22 L197.00,247.82 L197.50,246.43 L198.00,245.04 L198.50,243.67 L199.00,242.30 L199.50,240.94 L200.00,239.59 L200.50,238.24 L201.00,236.91 L201.50,235.60 L202.00,234.29 L202.50,232.98 L203.00,231.67 L203.50,230.37 L204.00,229.05 L204.50,227.72 L205.00,226.37 L205.50,225.01 L206.00,223.63 L206.50,222.26 L207.00,220.88 L207.50,219.51 L208.00,218.16 L208.50,216.82 L209.00,215.50 L209.50,214.20 L210.00,212.90 L210.50,211.61 L211.00,210.31 L211.50,209.02 L212.00,207.73 L212.50,206.44 L213.00,205.16 L213.50,203.89 L214.00,202.62 L214.50,201.35 L215.00,200.10 L215.50,198.84 L216.00,197.59 L216.50,196.33 L217.00,195.08 L217.50,193.84 L218.00,192.59 L218.50,191.35 L219.00,190.12 L219.50,188.89 L220.00,187.67 L220.50,186.46 L221.00,185.24 L221.50,184.03 L222.00,182.82 L222.50,181.63 L223.00,180.45 L223.50,179.28 L224.00,178.14 L224.50,177.02 L225.00,175.92 L225.50,174.83 L226.00,173.75 L226.50,172.70 L227.00,171.66 L227.50,170.65 L228.00,169.67 L228.50,168.72 L229.00,167.79 L229.50,166.87 L230.00,165.97 L230.50,165.10 L231.00,164.25 L231.50,163.44 L232.00,162.67 L232.50,161.94 L233.00,161.24 L233.50,160.57 L234.00,159.92 L234.50,159.30 L235.00,158.71 L235.50,158.15 L236.00,157.62 L236.50,157.14 L237.00,156.70 L237.50,156.26 L238.00,155.84 L238.50,155.43 L239.00,155.05 L239.50,154.71 L240.00,154.41 L240.50,154.16 L241.00,153.96 L241.50,153.80 L242.00,153.64 L242.50,153.50 L243.00,153.36 L243.50,153.25 L244.00,153.15 L244.50,153.07 L245.00,153.02 L245.50,153.00 L246.00,153.01 L246.50,153.04 L247.00,153.10 L247.50,153.18 L248.00,153.28 L248.50,153.39 L249.00,153.52 L249.50,153.65 L250.00,153.79 L250.50,153.94 L251.00,154.11 L251.50,154.32 L252.00,154.57 L252.50,154.86 L253.00,155.17 L253.50,155.51 L254.00,155.87 L254.50,156.23 L255.00,156.61 L255.50,156.98 L256.00,157.38 L256.50,157.81 L257.00,158.26 L257.50,158.73 L258.00,159.23 L258.50,159.75 L259.00,160.29 L259.50,160.84 L260.00,161.41 L260.50,161.99 L261.00,162.60 L261.50,163.23 L262.00,163.90 L262.50,164.59 L263.00,165.30 L263.50,166.03 L264.00,166.78 L264.50,167.54 L265.00,168.32 L265.50,169.11 L266.00,169.92 L266.50,170.75 L267.00,171.61 L267.50,172.49 L268.00,173.39 L268.50,174.31 L269.00,175.25 L269.50,176.21 L270.00,177.19 L270.50,178.18 L271.00,179.20 L271.50,180.25 L272.00,181.32 L272.50,182.42 L273.00,183.53 L273.50,184.67 L274.00,185.82 L274.50,186.99 L275.00,188.17 L275.50,189.37 L276.00,190.59 L276.50,191.83 L277.00,193.10 L277.50,194.38 L278.00,195.69 L278.50,197.01 L279.00,198.36 L279.50,199.72 L280.00,201.11 L280.50,202.51 L281.00,203.95 L281.50,205.40 L282.00,206.88 L282.50,208.38 L283.00,209.91 L283.50,211.44 L284.00,213.00 L284.50,214.57 L285.00,216.16 L285.50,217.79 L286.00,219.45 L286.50,221.14 L287.00,222.84 L287.50,224.55 L288.00,226.25 L288.50,227.92 L289.00,229.57 L289.50,231.20 L290.00,232.81 L290.50,234.42 L291.00,236.04 L291.50,237.66 L292.00,239.30 L292.50,240.94 L293.00,242.59 L293.50,244.24 L294.00,245.89 L294.50,247.54 L295.00,249.20 L295.50,250.86 L296.00,252.53 L296.50,254.19 L297.00,255.86 L297.50,257.52 L298.00,259.17 L298.50,260.82 L299.00,262.47 L299.50,264.12 L300.00,265.77 L300.50,267.40 L301.00,269.03 L301.50,270.65 L302.00,272.26 L302.50,273.85 L303.00,275.41 L303.50,276.97 L304.00,278.52 L304.50,280.08 L305.00,281.66 L305.50,283.26 L306.00,284.94 L306.50,286.73 L307.00,288.58 L307.50,290.41 L308.00,292.18 L308.50,293.82 L309.00,295.26 L309.50,296.47 L310.00,297.55 L310.50,298.53 L311.00,299.41 L311.50,300.19 L312.00,300.89 L312.50,301.52 L313.00,302.09 L313.50,302.56 L314.00,302.95 L314.50,303.28 L315.00,303.57 L315.50,303.83 L316.00,304.07 L316.50,304.29 L317.00,304.49 L317.50,304.68 L318.00,304.86 L318.50,305.03 L319.00,305.19 L319.50,305.36 L320.00,305.52 L320.50,305.69 L321.00,305.86 L321.50,306.02 L322.00,306.18 L322.50,306.34 L323.00,306.50 L323.50,306.65 L324.00,306.80 L324.50,306.95 L325.00,307.10 L325.50,307.24 L326.00,307.39 L326.50,307.53 L327.00,307.66 L327.50,307.79 L328.00,307.91 L328.50,308.02 L329.00,308.13 L329.50,308.24 L330.00,308.33 L330.50,308.43 L331.00,308.52 L331.50,308.61 L332.00,308.70 L332.50,308.79 L333.00,308.87 L333.50,308.96 L334.00,309.04 L334.50,309.12 L335.00,309.19 L335.50,309.26 L336.00,309.30 L336.50,309.30 L337.00,309.30 L337.50,309.30 L338.00,309.30 L338.50,309.30 L339.00,309.30 L339.50,309.30 L340.00,309.30 L340.00,309.30 L110.00,309.30 Z" fill="#dab8d8" fill-rule="evenodd"/><path d="M200.00,309.30 L200.50,309.30 L201.00,309.30 L201.50,309.30 L202.00,309.30 L202.50,309.30 L203.00,309.30 L203.50,309.30 L204.00,309.30 L204.50,309.30 L205.00,309.30 L205.50,309.30 L206.00,309.30 L206.50,309.30 L207.00,309.30 L207.50,309.30 L208.00,309.30 L208.50,309.30 L209.00,309.30 L209.50,309.30 L210.00,309.30 L210.50,309.30 L211.00,309.30 L211.50,309.30 L212.00,309.30 L212.50,309.30 L213.00,309.30 L213.50,309.30 L214.00,309.30 L214.50,309.30 L215.00,309.30 L215.50,309.30 L216.00,309.30 L216.50,309.30 L217.00,309.30 L217.50,309.30 L218.00,309.30 L218.50,309.30 L219.00,309.30 L219.50,309.30 L220.00,309.30 L220.50,309.30 L221.00,309.30 L221.50,309.30 L222.00,309.30 L222.50,309.30 L223.00,309.30 L223.50,309.30 L224.00,309.30 L224.50,309.30 L225.00,309.30 L225.50,309.30 L226.00,309.30 L226.50,309.30 L227.00,309.30 L227.50,309.30 L228.00,309.30 L228.50,309.30 L229.00,309.30 L229.50,309.30 L230.00,309.30 L230.50,309.27 L231.00,309.19 L231.50,309.10 L232.00,309.01 L232.50,308.91 L233.00,308.82 L233.50,308.72 L234.00,308.62 L234.50,308.51 L235.00,308.40 L235.50,308.29 L236.00,308.18 L236.50,308.06 L237.00,307.93 L237.50,307.80 L238.00,307.66 L238.50,307.51 L239.00,307.35 L239.50,307.18 L240.00,307.01 L240.50,306.84 L241.00,306.66 L241.50,306.49 L242.00,306.31 L242.50,306.13 L243.00,305.94 L243.50,305.76 L244.00,305.56 L244.50,305.37 L245.00,305.18 L245.50,304.99 L246.00,304.80 L246.50,304.60 L247.00,304.39 L247.50,304.17 L248.00,303.93 L248.50,303.66 L249.00,303.37 L249.50,303.05 L250.00,302.67 L250.50,302.24 L251.00,301.69 L251.50,301.02 L252.00,300.28 L252.50,299.44 L253.00,298.49 L253.50,297.42 L254.00,296.22 L254.50,294.88 L255.00,293.26 L255.50,291.38 L256.00,289.33 L256.50,287.20 L257.00,285.07 L257.50,283.02 L258.00,281.12 L258.50,279.28 L259.00,277.46 L259.50,275.65 L260.00,273.85 L260.50,272.03 L261.00,270.20 L261.50,268.33 L262.00,266.45 L262.50,264.55 L263.00,262.65 L263.50,260.74 L264.00,258.82 L264.50,256.91 L265.00,254.99 L265.50,253.06 L266.00,251.13 L266.50,249.20 L267.00,247.27 L267.50,245.34 L268.00,243.42 L268.50,241.50 L269.00,239.59 L269.50,237.67 L270.00,235.77 L270.50,233.87 L271.00,231.99 L271.50,230.11 L272.00,228.24 L272.50,226.36 L273.00,224.47 L273.50,222.54 L274.00,220.58 L274.50,218.60 L275.00,216.62 L275.50,214.66 L276.00,212.73 L276.50,210.85 L277.00,209.01 L277.50,207.20 L278.00,205.40 L278.50,203.62 L279.00,201.87 L279.50,200.15 L280.00,198.45 L280.50,196.79 L281.00,195.16 L281.50,193.56 L282.00,191.98 L282.50,190.43 L283.00,188.90 L283.50,187.40 L284.00,185.92 L284.50,184.47 L285.00,183.05 L285.50,181.66 L286.00,180.29 L286.50,178.93 L287.00,177.60 L287.50,176.29 L288.00,175.01 L288.50,173.76 L289.00,172.53 L289.50,171.34 L290.00,170.18 L290.50,169.05 L291.00,167.94 L291.50,166.85 L292.00,165.79 L292.50,164.75 L293.00,163.74 L293.50,162.76 L294.00,161.81 L294.50,160.89 L295.00,159.99 L295.50,159.10 L296.00,158.23 L296.50,157.39 L297.00,156.57 L297.50,155.78 L298.00,155.02 L298.50,154.30 L299.00,153.62 L299.50,152.96 L300.00,152.32 L300.50,151.69 L301.00,151.09 L301.50,150.52 L302.00,149.98 L302.50,149.46 L303.00,148.99 L303.50,148.54 L304.00,148.11 L304.50,147.68 L305.00,147.27 L305.50,146.87 L306.00,146.51 L306.50,146.19 L307.00,145.91 L307.50,145.68 L308.00,145.50 L308.50,145.34 L309.00,145.18 L309.50,145.03 L310.00,144.90 L310.50,144.79 L311.00,144.70 L311.50,144.63 L312.00,144.60 L312.50,144.61 L313.00,144.64 L313.50,144.71 L314.00,144.80 L314.50,144.91 L315.00,145.04 L315.50,145.18 L316.00,145.34 L316.50,145.50 L317.00,145.67 L317.50,145.89 L318.00,146.15 L318.50,146.46 L319.00,146.81 L319.50,147.19 L320.00,147.58 L320.50,148.00 L321.00,148.42 L321.50,148.85 L322.00,149.30 L322.50,149.79 L323.00,150.30 L323.50,150.85 L324.00,151.42 L324.50,152.02 L325.00,152.64 L325.50,153.27 L326.00,153.92 L326.50,154.60 L327.00,155.32 L327.50,156.06 L328.00,156.84 L328.50,157.65 L329.00,158.47 L329.50,159.32 L330.00,160.19 L330.50,161.07 L331.00,161.97 L331.50,162.90 L332.00,163.86 L332.50,164.85 L333.00,165.86 L333.50,166.89 L334.00,167.95 L334.50,169.03 L335.00,170.13 L335.50,171.25 L336.00,172.41 L336.50,173.60 L337.00,174.81 L337.50,176.06 L338.00,177.33 L338.50,178.62 L339.00,179.93 L339.50,181.26 L340.00,182.60 L340.50,183.98 L341.00,185.38 L341.50,186.80 L342.00,188.25 L342.50,189.73 L343.00,191.23 L343.50,192.75 L344.00,194.30 L344.50,195.86 L345.00,197.47 L345.50,199.10 L346.00,200.76 L346.50,202.44 L347.00,204.15 L347.50,205.88 L348.00,207.64 L348.50,209.41 L349.00,211.20 L349.50,213.04 L350.00,214.92 L350.50,216.83 L351.00,218.76 L351.50,220.68 L352.00,222.59 L352.50,224.46 L353.00,226.31 L353.50,228.14 L354.00,229.96 L354.50,231.78 L355.00,233.61 L355.50,235.45 L356.00,237.30 L356.50,239.16 L357.00,241.03 L357.50,242.89 L358.00,244.76 L358.50,246.63 L359.00,248.51 L359.50,250.39 L360.00,252.27 L360.50,254.15 L361.00,256.02 L361.50,257.88 L362.00,259.74 L362.50,261.60 L363.00,263.46 L363.50,265.31 L364.00,267.14 L364.50,268.97 L365.00,270.78 L365.50,272.56 L366.00,274.32 L366.50,276.07 L367.00,277.83 L367.50,279.60 L368.00,281.40 L368.50,283.27 L369.00,285.27 L369.50,287.35 L370.00,289.42 L370.50,291.41 L371.00,293.23 L371.50,294.82 L372.00,296.13 L372.50,297.31 L373.00,298.37 L373.50,299.31 L374.00,300.14 L374.50,300.88 L375.00,301.54 L375.50,302.11 L376.00,302.56 L376.50,302.94 L377.00,303.27 L377.50,303.56 L378.00,303.82 L378.50,304.07 L379.00,304.29 L379.50,304.50 L380.00,304.70 L380.50,304.89 L381.00,305.07 L381.50,305.26 L382.00,305.45 L382.50,305.63 L383.00,305.82 L383.50,306.00 L384.00,306.18 L384.50,306.36 L385.00,306.53 L385.50,306.70 L386.00,306.87 L386.50,307.03 L387.00,307.20 L387.50,307.36 L388.00,307.52 L388.50,307.66 L389.00,307.80 L389.50,307.93 L390.00,308.05 L390.50,308.17 L391.00,308.28 L391.50,308.39 L392.00,308.50 L392.50,308.60 L393.00,308.70 L393.50,308.79 L394.00,308.89 L394.50,308.98 L395.00,309.07 L395.50,309.16 L396.00,309.24 L396.50,309.30 L397.00,309.30 L397.50,309.30 L398.00,309.30 L398.50,309.30 L399.00,309.30 L399.50,309.30 L400.00,309.30 L400.50,309.30 L401.00,309.30 L401.50,309.30 L402.00,309.30 L402.50,309.30 L403.00,309.30 L403.50,309.30 L404.00,309.30 L404.50,309.30 L405.00,309.30 L405.50,309.30 L406.00,309.30 L406.50,309.30 L407.00,309.30 L407.50,309.30 L408.00,309.30 L408.50,309.30 L409.00,309.30 L409.50,309.30 L410.00,309.30 L410.50,309.30 L411.00,309.30 L411.50,309.30 L412.00,309.30 L412.50,309.30 L413.00,309.30 L413.50,309.30 L414.00,309.30 L414.50,309.30 L415.00,309.30 L415.50,309.30 L416.00,309.30 L416.50,309.30 L417.00,309.30 L417.50,309.30 L418.00,309.30 L418.50,309.30 L419.00,309.30 L419.50,309.30 L420.00,309.30 L420.50,309.30 L421.00,309.30 L421.50,309.30 L422.00,309.30 L422.50,309.30 L423.00,309.30 L423.50,309.30 L424.00,309.30 L424.50,309.30 L425.00,309.30 L425.50,309.30 L426.00,309.30 L426.50,309.30 L427.00,309.30 L427.50,309.30 L428.00,309.30 L428.50,309.30 L429.00,309.30 L429.50,309.30 L430.00,309.30 L430.50,309.30 L431.00,309.30 L431.50,309.30 L432.00,309.30 L432.50,309.30 L433.00,309.30 L433.50,309.30 L434.00,309.30 L434.50,309.30 L435.00,309.30 L435.50,309.30 L436.00,309.30 L436.50,309.30 L437.00,309.30 L437.50,309.30 L438.00,309.30 L438.50,309.30 L439.00,309.30 L439.50,309.30 L440.00,309.30 L440.50,309.30 L441.00,309.30 L441.50,309.30 L442.00,309.30 L442.50,309.30 L443.00,309.30 L443.50,309.30 L444.00,309.30 L444.50,309.30 L445.00,309.30 L445.50,309.30 L446.00,309.30 L446.50,309.30 L447.00,309.30 L447.50,309.30 L448.00,309.30 L448.50,309.30 L449.00,309.30 L449.50,309.30 L450.00,309.30 L450.50,309.30 L451.00,309.30 L451.50,309.30 L452.00,309.30 L452.50,309.30 L453.00,309.30 L453.50,309.30 L454.00,309.30 L454.50,309.30 L455.00,309.30 L455.50,309.30 L456.00,309.30 L456.50,309.30 L457.00,309.30 L457.50,309.30 L458.00,309.30 L458.50,309.30 L459.00,309.30 L459.50,309.30 L460.00,309.30 L460.00,309.30 L200.00,309.30 Z M200.00,309.30 L200.50,309.30 L201.00,309.30 L201.50,309.30 L202.00,309.30 L202.50,309.30 L203.00,309.30 L203.50,309.30 L204.00,309.30 L204.50,309.30 L205.00,309.30 L205.50,309.30 L206.00,309.30 L206.50,309.30 L207.00,309.30 L207.50,309.30 L208.00,309.30 L208.50,309.30 L209.00,309.30 L209.50,309.30 L210.00,309.30 L210.50,309.30 L211.00,309.30 L211.50,309.30 L212.00,309.30 L212.50,309.30 L213.00,309.30 L213.50,309.30 L214.00,309.30 L214.50,309.30 L215.00,309.30 L215.50,309.30 L216.00,309.30 L216.50,309.30 L217.00,309.30 L217.50,309.30 L218.00,309.30 L218.50,309.30 L219.00,309.30 L219.50,309.30 L220.00,309.30 L220.50,309.30 L221.00,309.30 L221.50,309.30 L222.00,309.30 L222.50,309.30 L223.00,309.30 L223.50,309.30 L224.00,309.30 L224.50,309.30 L225.00,309.30 L225.50,309.30 L226.00,309.30 L226.50,309.30 L227.00,309.30 L227.50,309.30 L228.00,309.30 L228.50,309.30 L229.00,309.30 L229.50,309.30 L230.00,309.30 L230.50,309.30 L231.00,309.30 L231.50,309.30 L232.00,309.30 L232.50,309.30 L233.00,309.30 L233.50,309.30 L234.00,309.30 L234.50,309.30 L235.00,309.30 L235.50,309.30 L236.00,309.30 L236.50,309.30 L237.00,309.30 L237.50,309.30 L238.00,309.30 L238.50,309.30 L239.00,309.30 L239.50,309.30 L240.00,309.30 L240.50,309.30 L241.00,309.30 L241.50,309.30 L242.00,309.30 L242.50,309.30 L243.00,309.30 L243.50,309.30 L244.00,309.30 L244.50,309.30 L245.00,309.30 L245.50,309.30 L246.00,309.30 L246.50,309.30 L247.00,309.30 L247.50,309.30 L248.00,309.30 L248.50,309.30 L249.00,309.30 L249.50,309.30 L250.00,309.30 L250.50,309.30 L251.00,309.30 L251.50,309.30 L252.00,309.30 L252.50,309.30 L253.00,309.30 L253.50,309.30 L254.00,309.30 L254.50,309.30 L255.00,309.30 L255.50,309.30 L256.00,309.30 L256.50,309.30 L257.00,309.30 L257.50,309.30 L258.00,309.30 L258.50,309.30 L259.00,309.30 L259.50,309.30 L260.00,309.30 L260.50,309.30 L261.00,309.30 L261.50,309.30 L262.00,309.30 L262.50,309.30 L263.00,309.30 L263.50,309.30 L264.00,309.30 L264.50,309.30 L265.00,309.30 L265.50,309.30 L266.00,309.30 L266.50,309.30 L267.00,309.30 L267.50,309.30 L268.00,309.30 L268.50,309.30 L269.00,309.30 L269.50,309.30 L270.00,309.30 L270.50,309.29 L271.00,309.21 L271.50,309.12 L272.00,309.03 L272.50,308.94 L273.00,308.85 L273.50,308.75 L274.00,308.66 L274.50,308.56 L275.00,308.45 L275.50,308.35 L276.00,308.24 L276.50,308.12 L277.00,308.00 L277.50,307.88 L278.00,307.75 L278.50,307.60 L279.00,307.45 L279.50,307.29 L280.00,307.13 L280.50,306.96 L281.00,306.79 L281.50,306.63 L282.00,306.46 L282.50,306.28 L283.00,306.10 L283.50,305.92 L284.00,305.74 L284.50,305.55 L285.00,305.36 L285.50,305.17 L286.00,304.99 L286.50,304.80 L287.00,304.61 L287.50,304.41 L288.00,304.20 L288.50,303.96 L289.00,303.71 L289.50,303.43 L290.00,303.13 L290.50,302.78 L291.00,302.38 L291.50,301.88 L292.00,301.27 L292.50,300.57 L293.00,299.80 L293.50,298.93 L294.00,297.94 L294.50,296.83 L295.00,295.60 L295.50,294.19 L296.00,292.50 L296.50,290.59 L297.00,288.56 L297.50,286.47 L298.00,284.41 L298.50,282.45 L299.00,280.63 L299.50,278.83 L300.00,277.07 L300.50,275.31 L301.00,273.55 L301.50,271.78 L302.00,269.99 L302.50,268.17 L303.00,266.33 L303.50,264.49 L304.00,262.63 L304.50,260.77 L305.00,258.90 L305.50,257.04 L306.00,255.17 L306.50,253.29 L307.00,251.41 L307.50,249.53 L308.00,247.65 L308.50,245.77 L309.00,243.89 L309.50,242.02 L310.00,240.16 L310.50,238.29 L311.00,236.43 L311.50,234.58 L312.00,232.73 L312.50,230.91 L313.00,229.08 L313.50,227.26 L314.00,225.42 L314.50,223.56 L315.00,221.67 L315.50,219.75 L316.00,217.82 L316.50,215.90 L317.00,213.99 L317.50,212.12 L318.00,210.30 L318.50,208.52 L319.00,206.75 L319.50,205.00 L320.00,203.27 L320.50,201.57 L321.00,199.89 L321.50,198.24 L322.00,196.62 L322.50,195.03 L323.00,193.46 L323.50,191.93 L324.00,190.41 L324.50,188.92 L325.00,187.45 L325.50,186.00 L326.00,184.59 L326.50,183.19 L327.00,181.83 L327.50,180.49 L328.00,179.16 L328.50,177.86 L329.00,176.58 L329.50,175.31 L330.00,174.08 L330.50,172.87 L331.00,171.69 L331.50,170.55 L332.00,169.43 L332.50,168.34 L333.00,167.26 L333.50,166.21 L334.00,165.19 L334.50,164.18 L335.00,163.21 L335.50,162.26 L336.00,161.34 L336.50,160.45 L337.00,159.57 L337.50,158.71 L338.00,157.87 L338.50,157.04 L339.00,156.25 L339.50,155.48 L340.00,154.75 L340.50,154.04 L341.00,153.38 L341.50,152.73 L342.00,152.10 L342.50,151.49 L343.00,150.90 L343.50,150.34 L344.00,149.80 L344.50,149.30 L345.00,148.82 L345.50,148.38 L346.00,147.96 L346.50,147.54 L347.00,147.13 L347.50,146.74 L348.00,146.37 L348.50,146.04 L349.00,145.74 L349.50,145.49 L350.00,145.30 L350.50,145.13 L351.00,144.98 L351.50,144.82 L352.00,144.69 L352.50,144.56 L353.00,144.46 L353.50,144.38 L354.00,144.32 L354.50,144.30 L355.00,144.31 L355.50,144.35 L356.00,144.42 L356.50,144.52 L357.00,144.64 L357.50,144.77 L358.00,144.92 L358.50,145.08 L359.00,145.24 L359.50,145.42 L360.00,145.65 L360.50,145.93 L361.00,146.26 L361.50,146.62 L362.00,147.00 L362.50,147.41 L363.00,147.83 L363.50,148.25 L364.00,148.69 L364.50,149.16 L365.00,149.66 L365.50,150.19 L366.00,150.75 L366.50,151.33 L367.00,151.94 L367.50,152.57 L368.00,153.21 L368.50,153.87 L369.00,154.57 L369.50,155.30 L370.00,156.07 L370.50,156.86 L371.00,157.68 L371.50,158.53 L372.00,159.39 L372.50,160.27 L373.00,161.16 L373.50,162.08 L374.00,163.03 L374.50,164.01 L375.00,165.01 L375.50,166.04 L376.00,167.09 L376.50,168.16 L377.00,169.26 L377.50,170.38 L378.00,171.53 L378.50,172.71 L379.00,173.92 L379.50,175.16 L380.00,176.42 L380.50,177.71 L381.00,179.02 L381.50,180.35 L382.00,181.70 L382.50,183.07 L383.00,184.46 L383.50,185.89 L384.00,187.34 L384.50,188.81 L385.00,190.31 L385.50,191.83 L386.00,193.38 L386.50,194.95 L387.00,196.55 L387.50,198.18 L388.00,199.83 L388.50,201.52 L389.00,203.23 L389.50,204.97 L390.00,206.73 L390.50,208.51 L391.00,210.30 L391.50,212.13 L392.00,214.01 L392.50,215.93 L393.00,217.86 L393.50,219.80 L394.00,221.73 L394.50,223.63 L395.00,225.50 L395.50,227.35 L396.00,229.18 L396.50,231.02 L397.00,232.86 L397.50,234.71 L398.00,236.57 L398.50,238.44 L399.00,240.32 L399.50,242.20 L400.00,244.08 L400.50,245.96 L401.00,247.85 L401.50,249.75 L402.00,251.64 L402.50,253.53 L403.00,255.42 L403.50,257.30 L404.00,259.17 L404.50,261.05 L405.00,262.92 L405.50,264.78 L406.00,266.64 L406.50,268.48 L407.00,270.30 L407.50,272.10 L408.00,273.88 L408.50,275.65 L409.00,277.41 L409.50,279.20 L410.00,281.00 L410.50,282.86 L411.00,284.86 L411.50,286.94 L412.00,289.04 L412.50,291.06 L413.00,292.93 L413.50,294.57 L414.00,295.92 L414.50,297.13 L415.00,298.21 L415.50,299.17 L416.00,300.02 L416.50,300.78 L417.00,301.46 L417.50,302.04 L418.00,302.50 L418.50,302.89 L419.00,303.23 L419.50,303.52 L420.00,303.79 L420.50,304.04 L421.00,304.27 L421.50,304.48 L422.00,304.68 L422.50,304.87 L423.00,305.05 L423.50,305.24 L424.00,305.43 L424.50,305.62 L425.00,305.81 L425.50,305.99 L426.00,306.17 L426.50,306.35 L427.00,306.52 L427.50,306.69 L428.00,306.86 L428.50,307.03 L429.00,307.20 L429.50,307.36 L430.00,307.52 L430.50,307.67 L431.00,307.80 L431.50,307.93 L432.00,308.06 L432.50,308.17 L433.00,308.29 L433.50,308.40 L434.00,308.50 L434.50,308.60 L435.00,308.70 L435.50,308.80 L436.00,308.90 L436.50,308.99 L437.00,309.08 L437.50,309.17 L438.00,309.25 L438.50,309.30 L439.00,309.30 L439.50,309.30 L440.00,309.30 L440.50,309.30 L441.00,309.30 L441.50,309.30 L442.00,309.30 L442.50,309.30 L443.00,309.30 L443.50,309.30 L444.00,309.30 L444.50,309.30 L445.00,309.30 L445.50,309.30 L446.00,309.30 L446.50,309.30 L447.00,309.30 L447.50,309.30 L448.00,309.30 L448.50,309.30 L449.00,309.30 L449.50,309.30 L450.00,309.30 L450.50,309.30 L451.00,309.30 L451.50,309.30 L452.00,309.30 L452.50,309.30 L453.00,309.30 L453.50,309.30 L454.00,309.30 L454.50,309.30 L455.00,309.30 L455.50,309.30 L456.00,309.30 L456.50,309.30 L457.00,309.30 L457.50,309.30 L458.00,309.30 L458.50,309.30 L459.00,309.30 L459.50,309.30 L460.00,309.30 L460.00,309.30 L200.00,309.30 Z" fill="#afcff1" fill-rule="evenodd"/><path d="M110.00,309.30 L110.50,309.30 L111.00,309.30 L111.50,309.30 L112.00,309.30 L112.50,309.30 L113.00,309.30 L113.50,309.30 L114.00,309.30 L114.50,309.30 L115.00,309.30 L115.50,309.30 L116.00,309.30 L116.50,309.30 L117.00,309.30 L117.50,309.30 L118.00,309.30 L118.50,309.30 L119.00,309.30 L119.50,309.30 L120.00,309.30 L120.50,309.30 L121.00,309.30 L121.50,309.30 L122.00,309.30 L122.50,309.30 L123.00,309.30 L123.50,309.26 L124.00,309.19 L124.50,309.11 L125.00,309.04 L125.50,308.96 L126.00,308.88 L126.50,308.80 L127.00,308.71 L127.50,308.62 L128.00,308.54 L128.50,308.45 L129.00,308.35 L129.50,308.26 L130.00,308.16 L130.50,308.05 L131.00,307.94 L131.50,307.83 L132.00,307.71 L132.50,307.58 L133.00,307.44 L133.50,307.30 L134.00,307.16 L134.50,307.01 L135.00,306.87 L135.50,306.72 L136.00,306.57 L136.50,306.42 L137.00,306.27 L137.50,306.11 L138.00,305.95 L138.50,305.79 L139.00,305.63 L139.50,305.46 L140.00,305.30 L140.50,305.14 L141.00,304.98 L141.50,304.81 L142.00,304.64 L142.50,304.45 L143.00,304.24 L143.50,304.02 L144.00,303.79 L144.50,303.53 L145.00,303.23 L145.50,302.90 L146.00,302.51 L146.50,302.03 L147.00,301.47 L147.50,300.84 L148.00,300.15 L148.50,299.38 L149.00,298.52 L149.50,297.56 L150.00,296.51 L150.50,295.32 L151.00,293.92 L151.50,292.32 L152.00,290.60 L152.50,288.81 L153.00,287.01 L153.50,285.25 L154.00,283.59 L154.50,282.02 L155.00,280.48 L155.50,278.95 L156.00,277.43 L156.50,275.91 L157.00,274.38 L157.50,272.84 L158.00,271.28 L158.50,269.70 L159.00,268.11 L159.50,266.51 L160.00,264.91 L160.50,263.30 L161.00,261.69 L161.50,260.08 L162.00,258.46 L162.50,256.84 L163.00,255.22 L163.50,253.59 L164.00,251.96 L164.50,250.34 L165.00,248.72 L165.50,247.10 L166.00,245.49 L166.50,243.87 L167.00,242.26 L167.50,240.65 L168.00,239.05 L168.50,237.46 L169.00,235.87 L169.50,234.30 L170.00,232.72 L170.50,231.14 L171.00,229.55 L171.50,227.94 L172.00,226.30 L172.50,224.64 L173.00,222.97 L173.50,221.31 L174.00,219.66 L174.50,218.03 L175.00,216.44 L175.50,214.89 L176.00,213.36 L176.50,211.84 L177.00,210.33 L177.50,208.85 L178.00,207.38 L178.50,205.93 L179.00,204.50 L179.50,203.10 L180.00,201.72 L180.50,200.36 L181.00,199.03 L181.50,197.71 L182.00,196.41 L182.50,195.13 L183.00,193.87 L183.50,192.62 L184.00,191.40 L184.50,190.20 L185.00,189.02 L185.50,187.86 L186.00,186.71 L186.50,185.58 L187.00,184.47 L187.50,183.37 L188.00,182.29 L188.50,181.23 L189.00,180.19 L189.50,179.18 L190.00,178.19 L190.50,177.23 L191.00,176.28 L191.50,175.35 L192.00,174.44 L192.50,173.55 L193.00,172.68 L193.50,171.82 L194.00,170.99 L194.50,170.18 L195.00,169.39 L195.50,168.62 L196.00,167.86 L196.50,167.12 L197.00,166.39 L197.50,165.68 L198.00,164.99 L198.50,164.32 L199.00,163.67 L199.50,163.05 L200.00,162.45 L200.50,161.89 L201.00,161.33 L201.50,160.79 L202.00,160.27 L202.50,159.76 L203.00,159.27 L203.50,158.80 L204.00,158.36 L204.50,157.94 L205.00,157.54 L205.50,157.17 L206.00,156.81 L206.50,156.45 L207.00,156.10 L207.50,155.76 L208.00,155.45 L208.50,155.16 L209.00,154.90 L209.50,154.68 L210.00,154.50 L210.50,154.35 L211.00,154.21 L211.50,154.08 L212.00,153.95 L212.50,153.83 L213.00,153.73 L213.50,153.64 L214.00,153.57 L214.50,153.53 L215.00,153.50 L215.50,153.50 L216.00,153.53 L216.50,153.59 L217.00,153.66 L217.50,153.75 L218.00,153.86 L218.50,153.97 L219.00,154.10 L219.50,154.24 L220.00,154.38 L220.50,154.53 L221.00,154.72 L221.50,154.95 L222.00,155.21 L222.50,155.51 L223.00,155.83 L223.50,156.17 L224.00,156.52 L224.50,156.88 L225.00,157.25 L225.50,157.62 L226.00,158.02 L226.50,158.44 L227.00,158.89 L227.50,159.37 L228.00,159.86 L228.50,160.37 L229.00,160.90 L229.50,161.44 L230.00,162.00 L230.50,162.57 L231.00,163.17 L231.50,163.80 L232.00,164.45 L232.50,165.12 L233.00,165.82 L233.50,166.54 L234.00,167.27 L234.50,168.02 L235.00,168.77 L235.50,169.54 L236.00,170.34 L236.50,171.15 L237.00,171.99 L237.50,172.85 L238.00,173.73 L238.50,174.62 L239.00,175.54 L239.50,176.47 L240.00,177.42 L240.50,178.39 L241.00,179.38 L241.50,180.40 L242.00,181.44 L242.50,182.50 L243.00,183.59 L243.50,184.69 L244.00,185.81 L244.50,186.94 L245.00,188.09 L245.50,189.26 L246.00,190.44 L246.50,191.65 L247.00,192.87 L247.50,194.12 L248.00,195.38 L248.50,196.67 L249.00,197.97 L249.50,199.29 L250.00,200.63 L250.50,201.99 L251.00,203.38 L251.50,204.79 L252.00,206.22 L252.50,207.67 L253.00,209.14 L253.50,210.63 L254.00,212.14 L254.50,213.66 L255.00,215.20 L255.50,216.76 L256.00,218.36 L256.50,219.99 L257.00,221.64 L257.50,223.30 L258.00,224.97 L258.50,226.63 L259.00,228.26 L259.50,229.87 L260.00,231.46 L260.50,233.04 L261.00,234.61 L261.50,236.19 L262.00,237.77 L262.50,239.37 L263.00,240.97 L263.50,242.58 L264.00,244.19 L264.50,245.81 L265.00,247.42 L265.50,249.04 L266.00,250.66 L266.50,252.29 L267.00,253.92 L267.50,255.54 L268.00,257.17 L268.50,258.79 L269.00,260.40 L269.50,262.01 L270.00,263.62 L270.50,265.23 L271.00,266.83 L271.50,268.43 L272.00,270.02 L272.50,271.59 L273.00,273.15 L273.50,274.69 L274.00,276.21 L274.50,277.73 L275.00,279.25 L275.50,280.78 L276.00,282.33 L276.50,283.91 L277.00,285.60 L277.50,287.37 L278.00,289.17 L278.50,290.95 L279.00,292.65 L279.50,294.21 L280.00,295.58 L280.50,296.72 L281.00,297.76 L281.50,298.70 L282.00,299.54 L282.50,300.30 L283.00,300.97 L283.50,301.59 L284.00,302.13 L284.50,302.60 L285.00,302.97 L285.50,303.30 L286.00,303.58 L286.50,303.84 L287.00,304.07 L287.50,304.29 L288.00,304.49 L288.50,304.67 L289.00,304.85 L289.50,305.01 L290.00,305.17 L290.50,305.33 L291.00,305.50 L291.50,305.66 L292.00,305.82 L292.50,305.98 L293.00,306.14 L293.50,306.30 L294.00,306.45 L294.50,306.60 L295.00,306.75 L295.50,306.89 L296.00,307.04 L296.50,307.19 L297.00,307.33 L297.50,307.47 L298.00,307.60 L298.50,307.73 L299.00,307.85 L299.50,307.97 L300.00,308.07 L300.50,308.18 L301.00,308.28 L301.50,308.37 L302.00,308.46 L302.50,308.55 L303.00,308.64 L303.50,308.73 L304.00,308.81 L304.50,308.90 L305.00,308.98 L305.50,309.05 L306.00,309.13 L306.50,309.20 L307.00,309.27 L307.50,309.30 L308.00,309.30 L308.50,309.30 L309.00,309.30 L309.50,309.30 L310.00,309.30 L310.50,309.30 L311.00,309.30 L311.50,309.30 L312.00,309.30 L312.50,309.30 L313.00,309.30 L313.50,309.30 L314.00,309.30 L314.50,309.30 L315.00,309.30 L315.50,309.30 L316.00,309.30 L316.50,309.30 L317.00,309.30 L317.50,309.30 L318.00,309.30 L318.50,309.30 L319.00,309.30 L319.50,309.30 L320.00,309.30 L320.50,309.30 L321.00,309.30 L321.50,309.30 L322.00,309.30 L322.50,309.30 L323.00,309.30 L323.50,309.30 L324.00,309.30 L324.50,309.30 L325.00,309.30 L325.50,309.30 L326.00,309.30 L326.50,309.30 L327.00,309.30 L327.50,309.30 L328.00,309.30 L328.50,309.30 L329.00,309.30 L329.50,309.30 L330.00,309.30 L330.50,309.30 L331.00,309.30 L331.50,309.30 L332.00,309.30 L332.50,309.30 L333.00,309.30 L333.50,309.30 L334.00,309.30 L334.50,309.30 L335.00,309.30 L335.50,309.30 L336.00,309.30 L336.50,309.30 L337.00,309.30 L337.50,309.30 L338.00,309.30 L338.50,309.30 L339.00,309.30 L339.50,309.30 L340.00,309.30 L340.00,309.30 L110.00,309.30 Z M110.00,309.30 L110.50,309.30 L111.00,309.30 L111.50,309.30 L112.00,309.30 L112.50,309.30 L113.00,309.30 L113.50,309.30 L114.00,309.30 L114.50,309.30 L115.00,309.30 L115.50,309.30 L116.00,309.30 L116.50,309.30 L117.00,309.30 L117.50,309.30 L118.00,309.30 L118.50,309.30 L119.00,309.30 L119.50,309.30 L120.00,309.30 L120.50,309.30 L121.00,309.30 L121.50,309.30 L122.00,309.30 L122.50,309.30 L123.00,309.30 L123.50,309.30 L124.00,309.30 L124.50,309.30 L125.00,309.30 L125.50,309.30 L126.00,309.30 L126.50,309.30 L127.00,309.30 L127.50,309.30 L128.00,309.30 L128.50,309.30 L129.00,309.30 L129.50,309.30 L130.00,309.30 L130.50,309.30 L131.00,309.30 L131.50,309.30 L132.00,309.30 L132.50,309.30 L133.00,309.30 L133.50,309.30 L134.00,309.30 L134.50,309.30 L135.00,309.30 L135.50,309.30 L136.00,309.30 L136.50,309.30 L137.00,309.30 L137.50,309.30 L138.00,309.30 L138.50,309.30 L139.00,309.30 L139.50,309.30 L140.00,309.30 L140.50,309.30 L141.00,309.30 L141.50,309.30 L142.00,309.30 L142.50,309.30 L143.00,309.30 L143.50,309.30 L144.00,309.30 L144.50,309.30 L145.00,309.30 L145.50,309.30 L146.00,309.30 L146.50,309.30 L147.00,309.30 L147.50,309.30 L148.00,309.30 L148.50,309.30 L149.00,309.30 L149.50,309.30 L150.00,309.30 L150.50,309.30 L151.00,309.30 L151.50,309.30 L152.00,309.30 L152.50,309.30 L153.00,309.30 L153.50,309.30 L154.00,309.24 L154.50,309.17 L155.00,309.10 L155.50,309.02 L156.00,308.94 L156.50,308.86 L157.00,308.78 L157.50,308.69 L158.00,308.61 L158.50,308.52 L159.00,308.42 L159.50,308.33 L160.00,308.23 L160.50,308.13 L161.00,308.03 L161.50,307.92 L162.00,307.80 L162.50,307.68 L163.00,307.54 L163.50,307.41 L164.00,307.27 L164.50,307.12 L165.00,306.98 L165.50,306.83 L166.00,306.68 L166.50,306.53 L167.00,306.38 L167.50,306.23 L168.00,306.07 L168.50,305.91 L169.00,305.75 L169.50,305.59 L170.00,305.42 L170.50,305.26 L171.00,305.10 L171.50,304.94 L172.00,304.77 L172.50,304.60 L173.00,304.41 L173.50,304.20 L174.00,303.98 L174.50,303.74 L175.00,303.48 L175.50,303.19 L176.00,302.86 L176.50,302.47 L177.00,301.99 L177.50,301.43 L178.00,300.81 L178.50,300.13 L179.00,299.37 L179.50,298.53 L180.00,297.59 L180.50,296.57 L181.00,295.43 L181.50,294.09 L182.00,292.56 L182.50,290.91 L183.00,289.19 L183.50,287.44 L184.00,285.73 L184.50,284.10 L185.00,282.57 L185.50,281.08 L186.00,279.62 L186.50,278.18 L187.00,276.74 L187.50,275.31 L188.00,273.87 L188.50,272.42 L189.00,270.96 L189.50,269.50 L190.00,268.03 L190.50,266.56 L191.00,265.09 L191.50,263.62 L192.00,262.16 L192.50,260.70 L193.00,259.25 L193.50,257.80 L194.00,256.36 L194.50,254.92 L195.00,253.48 L195.50,252.05 L196.00,250.63 L196.50,249.22 L197.00,247.82 L197.50,246.43 L198.00,245.04 L198.50,243.67 L199.00,242.30 L199.50,240.94 L200.00,239.59 L200.50,238.24 L201.00,236.91 L201.50,235.60 L202.00,234.29 L202.50,232.98 L203.00,231.67 L203.50,230.37 L204.00,229.05 L204.50,227.72 L205.00,226.37 L205.50,225.01 L206.00,223.63 L206.50,222.26 L207.00,220.88 L207.50,219.51 L208.00,218.16 L208.50,216.82 L209.00,215.50 L209.50,214.20 L210.00,212.90 L210.50,211.61 L211.00,210.31 L211.50,209.02 L212.00,207.73 L212.50,206.44 L213.00,205.16 L213.50,203.89 L214.00,202.62 L214.50,201.35 L215.00,200.10 L215.50,198.84 L216.00,197.59 L216.50,196.33 L217.00,195.08 L217.50,193.84 L218.00,192.59 L218.50,191.35 L219.00,190.12 L219.50,188.89 L220.00,187.67 L220.50,186.46 L221.00,185.24 L221.50,184.03 L222.00,182.82 L222.50,181.63 L223.00,180.45 L223.50,179.28 L224.00,178.14 L224.50,177.02 L225.00,175.92 L225.50,174.83 L226.00,173.75 L226.50,172.70 L227.00,171.66 L227.50,170.65 L228.00,169.67 L228.50,168.72 L229.00,167.79 L229.50,166.87 L230.00,165.97 L230.50,165.10 L231.00,164.25 L231.50,163.44 L232.00,162.67 L232.50,161.94 L233.00,161.24 L233.50,160.57 L234.00,159.92 L234.50,159.30 L235.00,158.71 L235.50,158.15 L236.00,157.62 L236.50,157.14 L237.00,156.70 L237.50,156.26 L238.00,155.84 L238.50,155.43 L239.00,155.05 L239.50,154.71 L240.00,154.41 L240.50,154.16 L241.00,153.96 L241.50,153.80 L242.00,153.64 L242.50,153.50 L243.00,153.36 L243.50,153.25 L244.00,153.15 L244.50,153.07 L245.00,153.02 L245.50,153.00 L246.00,153.01 L246.50,153.04 L247.00,153.10 L247.50,153.18 L248.00,153.28 L248.50,153.39 L249.00,153.52 L249.50,153.65 L250.00,153.79 L250.50,153.94 L251.00,154.11 L251.50,154.32 L252.00,154.57 L252.50,154.86 L253.00,155.17 L253.50,155.51 L254.00,155.87 L254.50,156.23 L255.00,156.61 L255.50,156.98 L256.00,157.38 L256.50,157.81 L257.00,158.26 L257.50,158.73 L258.00,159.23 L258.50,159.75 L259.00,160.29 L259.50,160.84 L260.00,161.41 L260.50,161.99 L261.00,162.60 L261.50,163.23 L262.00,163.90 L262.50,164.59 L263.00,165.30 L263.50,166.03 L264.00,166.78 L264.50,167.54 L265.00,168.32 L265.50,169.11 L266.00,169.92 L266.50,170.75 L267.00,171.61 L267.50,172.49 L268.00,173.39 L268.50,174.31 L269.00,175.25 L269.50,176.21 L270.00,177.19 L270.50,178.18 L271.00,179.20 L271.50,180.25 L272.00,181.32 L272.50,182.42 L273.00,183.53 L273.50,184.67 L274.00,185.82 L274.50,186.99 L275.00,188.17 L275.50,189.37 L276.00,190.59 L276.50,191.83 L277.00,193.10 L277.50,194.38 L278.00,195.69 L278.50,197.01 L279.00,198.36 L279.50,199.72 L280.00,201.11 L280.50,202.51 L281.00,203.95 L281.50,205.40 L282.00,206.88 L282.50,208.38 L283.00,209.91 L283.50,211.44 L284.00,213.00 L284.50,214.57 L285.00,216.16 L285.50,217.79 L286.00,219.45 L286.50,221.14 L287.00,222.84 L287.50,224.55 L288.00,226.25 L288.50,227.92 L289.00,229.57 L289.50,231.20 L290.00,232.81 L290.50,234.42 L291.00,236.04 L291.50,237.66 L292.00,239.30 L292.50,240.94 L293.00,242.59 L293.50,244.24 L294.00,245.89 L294.50,247.54 L295.00,249.20 L295.50,250.86 L296.00,252.53 L296.50,254.19 L297.00,255.86 L297.50,257.52 L298.00,259.17 L298.50,260.82 L299.00,262.47 L299.50,264.12 L300.00,265.77 L300.50,267.40 L301.00,269.03 L301.50,270.65 L302.00,272.26 L302.50,273.85 L303.00,275.41 L303.50,276.97 L304.00,278.52 L304.50,280.08 L305.00,281.66 L305.50,283.26 L306.00,284.94 L306.50,286.73 L307.00,288.58 L307.50,290.41 L308.00,292.18 L308.50,293.82 L309.00,295.26 L309.50,296.47 L310.00,297.55 L310.50,298.53 L311.00,299.41 L311.50,300.19 L312.00,300.89 L312.50,301.52 L313.00,302.09 L313.50,302.56 L314.00,302.95 L314.50,303.28 L315.00,303.57 L315.50,303.83 L316.00,304.07 L316.50,304.29 L317.00,304.49 L317.50,304.68 L318.00,304.86 L318.50,305.03 L319.00,305.19 L319.50,305.36 L320.00,305.52 L320.50,305.69 L321.00,305.86 L321.50,306.02 L322.00,306.18 L322.50,306.34 L323.00,306.50 L323.50,306.65 L324.00,306.80 L324.50,306.95 L325.00,307.10 L325.50,307.24 L326.00,307.39 L326.50,307.53 L327.00,307.66 L327.50,307.79 L328.00,307.91 L328.50,308.02 L329.00,308.13 L329.50,308.24 L330.00,308.33 L330.50,308.43 L331.00,308.52 L331.50,308.61 L332.00,308.70 L332.50,308.79 L333.00,308.87 L333.50,308.96 L334.00,309.04 L334.50,309.12 L335.00,309.19 L335.50,309.26 L336.00,309.30 L336.50,309.30 L337.00,309.30 L337.50,309.30 L338.00,309.30 L338.50,309.30 L339.00,309.30 L339.50,309.30 L340.00,309.30 L340.00,309.30 L110.00,309.30 Z" fill="#a9a2d8" fill-rule="evenodd" clip-path="url(#cb)"/><path d="M83.42,74.10 V316.5 M101.50,74.10 V316.5 M119.58,74.10 V316.5 M137.66,74.10 V316.5 M155.74,74.10 V316.5 M173.82,74.10 V316.5 M191.90,74.10 V316.5 M209.98,74.10 V316.5 M228.06,74.10 V316.5 M246.14,74.10 V316.5 M264.22,74.10 V316.5 M300.38,74.10 V316.5 M318.46,74.10 V316.5 M336.54,74.10 V316.5 M354.62,74.10 V316.5 M372.70,74.10 V316.5 M390.78,74.10 V316.5 M408.86,74.10 V316.5 M426.94,74.10 V316.5 M445.02,74.10 V316.5 M463.10,74.10 V316.5 M481.18,74.10 V316.5 M499.26,74.10 V316.5 M58,275.70 H499.26 M58,242.10 H499.26 M58,208.50 H499.26 M58,174.90 H499.26 M58,141.30 H499.26 M58,107.70 H499.26 M58,74.10 H499.26" stroke="rgba(85,95,120,0.24)" stroke-width="1" fill="none" clip-path="url(#cf)"/><path d="M132.00,307.71 L132.50,307.58 L133.00,307.44 L133.50,307.30 L134.00,307.16 L134.50,307.01 L135.00,306.87 L135.50,306.72 L136.00,306.57 L136.50,306.42 L137.00,306.27 L137.50,306.11 L138.00,305.95 L138.50,305.79 L139.00,305.63 L139.50,305.46 L140.00,305.30 L140.50,305.14 L141.00,304.98 L141.50,304.81 L142.00,304.64 L142.50,304.45 L143.00,304.24 L143.50,304.02 L144.00,303.79 L144.50,303.53 L145.00,303.23 L145.50,302.90 L146.00,302.51 L146.50,302.03 L147.00,301.47 L147.50,300.84 L148.00,300.15 L148.50,299.38 L149.00,298.52 L149.50,297.56 L150.00,296.51 L150.50,295.32 L151.00,293.92 L151.50,292.32 L152.00,290.60 L152.50,288.81 L153.00,287.01 L153.50,285.25 L154.00,283.59 L154.50,282.02 L155.00,280.48 L155.50,278.95 L156.00,277.43 L156.50,275.91 L157.00,274.38 L157.50,272.84 L158.00,271.28 L158.50,269.70 L159.00,268.11 L159.50,266.51 L160.00,264.91 L160.50,263.30 L161.00,261.69 L161.50,260.08 L162.00,258.46 L162.50,256.84 L163.00,255.22 L163.50,253.59 L164.00,251.96 L164.50,250.34 L165.00,248.72 L165.50,247.10 L166.00,245.49 L166.50,243.87 L167.00,242.26 L167.50,240.65 L168.00,239.05 L168.50,237.46 L169.00,235.87 L169.50,234.30 L170.00,232.72 L170.50,231.14 L171.00,229.55 L171.50,227.94 L172.00,226.30 L172.50,224.64 L173.00,222.97 L173.50,221.31 L174.00,219.66 L174.50,218.03 L175.00,216.44 L175.50,214.89 L176.00,213.36 L176.50,211.84 L177.00,210.33 L177.50,208.85 L178.00,207.38 L178.50,205.93 L179.00,204.50 L179.50,203.10 L180.00,201.72 L180.50,200.36 L181.00,199.03 L181.50,197.71 L182.00,196.41 L182.50,195.13 L183.00,193.87 L183.50,192.62 L184.00,191.40 L184.50,190.20 L185.00,189.02 L185.50,187.86 L186.00,186.71 L186.50,185.58 L187.00,184.47 L187.50,183.37 L188.00,182.29 L188.50,181.23 L189.00,180.19 L189.50,179.18 L190.00,178.19 L190.50,177.23 L191.00,176.28 L191.50,175.35 L192.00,174.44 L192.50,173.55 L193.00,172.68 L193.50,171.82 L194.00,170.99 L194.50,170.18 L195.00,169.39 L195.50,168.62 L196.00,167.86 L196.50,167.12 L197.00,166.39 L197.50,165.68 L198.00,164.99 L198.50,164.32 L199.00,163.67 L199.50,163.05 L200.00,162.45 L200.50,161.89 L201.00,161.33 L201.50,160.79 L202.00,160.27 L202.50,159.76 L203.00,159.27 L203.50,158.80 L204.00,158.36 L204.50,157.94 L205.00,157.54 L205.50,157.17 L206.00,156.81 L206.50,156.45 L207.00,156.10 L207.50,155.76 L208.00,155.45 L208.50,155.16 L209.00,154.90 L209.50,154.68 L210.00,154.50 L210.50,154.35 L211.00,154.21 L211.50,154.08 L212.00,153.95 L212.50,153.83 L213.00,153.73 L213.50,153.64 L214.00,153.57 L214.50,153.53 L215.00,153.50 L215.50,153.50 L216.00,153.53 L216.50,153.59 L217.00,153.66 L217.50,153.75 L218.00,153.86 L218.50,153.97 L219.00,154.10 L219.50,154.24 L220.00,154.38 L220.50,154.53 L221.00,154.72 L221.50,154.95 L222.00,155.21 L222.50,155.51 L223.00,155.83 L223.50,156.17 L224.00,156.52 L224.50,156.88 L225.00,157.25 L225.50,157.62 L226.00,158.02 L226.50,158.44 L227.00,158.89 L227.50,159.37 L228.00,159.86 L228.50,160.37 L229.00,160.90 L229.50,161.44 L230.00,162.00 L230.50,162.57 L231.00,163.17 L231.50,163.80 L232.00,164.45 L232.50,165.12 L233.00,165.82 L233.50,166.54 L234.00,167.27 L234.50,168.02 L235.00,168.77 L235.50,169.54 L236.00,170.34 L236.50,171.15 L237.00,171.99 L237.50,172.85 L238.00,173.73 L238.50,174.62 L239.00,175.54 L239.50,176.47 L240.00,177.42 L240.50,178.39 L241.00,179.38 L241.50,180.40 L242.00,181.44 L242.50,182.50 L243.00,183.59 L243.50,184.69 L244.00,185.81 L244.50,186.94 L245.00,188.09 L245.50,189.26 L246.00,190.44 L246.50,191.65 L247.00,192.87 L247.50,194.12 L248.00,195.38 L248.50,196.67 L249.00,197.97 L249.50,199.29 L250.00,200.63 L250.50,201.99 L251.00,203.38 L251.50,204.79 L252.00,206.22 L252.50,207.67 L253.00,209.14 L253.50,210.63 L254.00,212.14 L254.50,213.66 L255.00,215.20 L255.50,216.76 L256.00,218.36 L256.50,219.99 L257.00,221.64 L257.50,223.30 L258.00,224.97 L258.50,226.63 L259.00,228.26 L259.50,229.87 L260.00,231.46 L260.50,233.04 L261.00,234.61 L261.50,236.19 L262.00,237.77 L262.50,239.37 L263.00,240.97 L263.50,242.58 L264.00,244.19 L264.50,245.81 L265.00,247.42 L265.50,249.04 L266.00,250.66 L266.50,252.29 L267.00,253.92 L267.50,255.54 L268.00,257.17 L268.50,258.79 L269.00,260.40 L269.50,262.01 L270.00,263.62 L270.50,265.23 L271.00,266.83 L271.50,268.43 L272.00,270.02 L272.50,271.59 L273.00,273.15 L273.50,274.69 L274.00,276.21 L274.50,277.73 L275.00,279.25 L275.50,280.78 L276.00,282.33 L276.50,283.91 L277.00,285.60 L277.50,287.37 L278.00,289.17 L278.50,290.95 L279.00,292.65 L279.50,294.21 L280.00,295.58 L280.50,296.72 L281.00,297.76 L281.50,298.70 L282.00,299.54 L282.50,300.30 L283.00,300.97 L283.50,301.59 L284.00,302.13 L284.50,302.60 L285.00,302.97 L285.50,303.30 L286.00,303.58 L286.50,303.84 L287.00,304.07 L287.50,304.29 L288.00,304.49 L288.50,304.67 L289.00,304.85 L289.50,305.01 L290.00,305.17 L290.50,305.33 L291.00,305.50 L291.50,305.66 L292.00,305.82 L292.50,305.98 L293.00,306.14 L293.50,306.30 L294.00,306.45 L294.50,306.60 L295.00,306.75 L295.50,306.89 L296.00,307.04 L296.50,307.19 L297.00,307.33 L297.50,307.47 L298.00,307.60 L298.50,307.73 L299.00,307.85 L299.50,307.97 L300.00,308.07 L300.50,308.18 L301.00,308.28 L301.50,308.37 L302.00,308.46 L302.50,308.55 L303.00,308.64 L303.50,308.73 L304.00,308.81" fill="none" stroke="#a3226a" stroke-width="2.7" stroke-linejoin="round"/><path d="M162.00,307.80 L162.50,307.68 L163.00,307.54 L163.50,307.41 L164.00,307.27 L164.50,307.12 L165.00,306.98 L165.50,306.83 L166.00,306.68 L166.50,306.53 L167.00,306.38 L167.50,306.23 L168.00,306.07 L168.50,305.91 L169.00,305.75 L169.50,305.59 L170.00,305.42 L170.50,305.26 L171.00,305.10 L171.50,304.94 L172.00,304.77 L172.50,304.60 L173.00,304.41 L173.50,304.20 L174.00,303.98 L174.50,303.74 L175.00,303.48 L175.50,303.19 L176.00,302.86 L176.50,302.47 L177.00,301.99 L177.50,301.43 L178.00,300.81 L178.50,300.13 L179.00,299.37 L179.50,298.53 L180.00,297.59 L180.50,296.57 L181.00,295.43 L181.50,294.09 L182.00,292.56 L182.50,290.91 L183.00,289.19 L183.50,287.44 L184.00,285.73 L184.50,284.10 L185.00,282.57 L185.50,281.08 L186.00,279.62 L186.50,278.18 L187.00,276.74 L187.50,275.31 L188.00,273.87 L188.50,272.42 L189.00,270.96 L189.50,269.50 L190.00,268.03 L190.50,266.56 L191.00,265.09 L191.50,263.62 L192.00,262.16 L192.50,260.70 L193.00,259.25 L193.50,257.80 L194.00,256.36 L194.50,254.92 L195.00,253.48 L195.50,252.05 L196.00,250.63 L196.50,249.22 L197.00,247.82 L197.50,246.43 L198.00,245.04 L198.50,243.67 L199.00,242.30 L199.50,240.94 L200.00,239.59 L200.50,238.24 L201.00,236.91 L201.50,235.60 L202.00,234.29 L202.50,232.98 L203.00,231.67 L203.50,230.37 L204.00,229.05 L204.50,227.72 L205.00,226.37 L205.50,225.01 L206.00,223.63 L206.50,222.26 L207.00,220.88 L207.50,219.51 L208.00,218.16 L208.50,216.82 L209.00,215.50 L209.50,214.20 L210.00,212.90 L210.50,211.61 L211.00,210.31 L211.50,209.02 L212.00,207.73 L212.50,206.44 L213.00,205.16 L213.50,203.89 L214.00,202.62 L214.50,201.35 L215.00,200.10 L215.50,198.84 L216.00,197.59 L216.50,196.33 L217.00,195.08 L217.50,193.84 L218.00,192.59 L218.50,191.35 L219.00,190.12 L219.50,188.89 L220.00,187.67 L220.50,186.46 L221.00,185.24 L221.50,184.03 L222.00,182.82 L222.50,181.63 L223.00,180.45 L223.50,179.28 L224.00,178.14 L224.50,177.02 L225.00,175.92 L225.50,174.83 L226.00,173.75 L226.50,172.70 L227.00,171.66 L227.50,170.65 L228.00,169.67 L228.50,168.72 L229.00,167.79 L229.50,166.87 L230.00,165.97 L230.50,165.10 L231.00,164.25 L231.50,163.44 L232.00,162.67 L232.50,161.94 L233.00,161.24 L233.50,160.57 L234.00,159.92 L234.50,159.30 L235.00,158.71 L235.50,158.15 L236.00,157.62 L236.50,157.14 L237.00,156.70 L237.50,156.26 L238.00,155.84 L238.50,155.43 L239.00,155.05 L239.50,154.71 L240.00,154.41 L240.50,154.16 L241.00,153.96 L241.50,153.80 L242.00,153.64 L242.50,153.50 L243.00,153.36 L243.50,153.25 L244.00,153.15 L244.50,153.07 L245.00,153.02 L245.50,153.00 L246.00,153.01 L246.50,153.04 L247.00,153.10 L247.50,153.18 L248.00,153.28 L248.50,153.39 L249.00,153.52 L249.50,153.65 L250.00,153.79 L250.50,153.94 L251.00,154.11 L251.50,154.32 L252.00,154.57 L252.50,154.86 L253.00,155.17 L253.50,155.51 L254.00,155.87 L254.50,156.23 L255.00,156.61 L255.50,156.98 L256.00,157.38 L256.50,157.81 L257.00,158.26 L257.50,158.73 L258.00,159.23 L258.50,159.75 L259.00,160.29 L259.50,160.84 L260.00,161.41 L260.50,161.99 L261.00,162.60 L261.50,163.23 L262.00,163.90 L262.50,164.59 L263.00,165.30 L263.50,166.03 L264.00,166.78 L264.50,167.54 L265.00,168.32 L265.50,169.11 L266.00,169.92 L266.50,170.75 L267.00,171.61 L267.50,172.49 L268.00,173.39 L268.50,174.31 L269.00,175.25 L269.50,176.21 L270.00,177.19 L270.50,178.18 L271.00,179.20 L271.50,180.25 L272.00,181.32 L272.50,182.42 L273.00,183.53 L273.50,184.67 L274.00,185.82 L274.50,186.99 L275.00,188.17 L275.50,189.37 L276.00,190.59 L276.50,191.83 L277.00,193.10 L277.50,194.38 L278.00,195.69 L278.50,197.01 L279.00,198.36 L279.50,199.72 L280.00,201.11 L280.50,202.51 L281.00,203.95 L281.50,205.40 L282.00,206.88 L282.50,208.38 L283.00,209.91 L283.50,211.44 L284.00,213.00 L284.50,214.57 L285.00,216.16 L285.50,217.79 L286.00,219.45 L286.50,221.14 L287.00,222.84 L287.50,224.55 L288.00,226.25 L288.50,227.92 L289.00,229.57 L289.50,231.20 L290.00,232.81 L290.50,234.42 L291.00,236.04 L291.50,237.66 L292.00,239.30 L292.50,240.94 L293.00,242.59 L293.50,244.24 L294.00,245.89 L294.50,247.54 L295.00,249.20 L295.50,250.86 L296.00,252.53 L296.50,254.19 L297.00,255.86 L297.50,257.52 L298.00,259.17 L298.50,260.82 L299.00,262.47 L299.50,264.12 L300.00,265.77 L300.50,267.40 L301.00,269.03 L301.50,270.65 L302.00,272.26 L302.50,273.85 L303.00,275.41 L303.50,276.97 L304.00,278.52 L304.50,280.08 L305.00,281.66 L305.50,283.26 L306.00,284.94 L306.50,286.73 L307.00,288.58 L307.50,290.41 L308.00,292.18 L308.50,293.82 L309.00,295.26 L309.50,296.47 L310.00,297.55 L310.50,298.53 L311.00,299.41 L311.50,300.19 L312.00,300.89 L312.50,301.52 L313.00,302.09 L313.50,302.56 L314.00,302.95 L314.50,303.28 L315.00,303.57 L315.50,303.83 L316.00,304.07 L316.50,304.29 L317.00,304.49 L317.50,304.68 L318.00,304.86 L318.50,305.03 L319.00,305.19 L319.50,305.36 L320.00,305.52 L320.50,305.69 L321.00,305.86 L321.50,306.02 L322.00,306.18 L322.50,306.34 L323.00,306.50 L323.50,306.65 L324.00,306.80 L324.50,306.95 L325.00,307.10 L325.50,307.24 L326.00,307.39 L326.50,307.53 L327.00,307.66 L327.50,307.79 L328.00,307.91 L328.50,308.02 L329.00,308.13" fill="none" stroke="#a3226a" stroke-width="2.9" stroke-dasharray="6 3.6"/><path d="M226.00,309.30 L226.50,309.30 L227.00,309.30 L227.50,309.30 L228.00,309.30 L228.50,309.30 L229.00,309.30 L229.50,309.30 L230.00,309.30 L230.50,309.27 L231.00,309.19 L231.50,309.10 L232.00,309.01 L232.50,308.91 L233.00,308.82 L233.50,308.72 L234.00,308.62 L234.50,308.51 L235.00,308.40 L235.50,308.29 L236.00,308.18 L236.50,308.06 L237.00,307.93 L237.50,307.80 L238.00,307.66 L238.50,307.51 L239.00,307.35 L239.50,307.18 L240.00,307.01 L240.50,306.84 L241.00,306.66 L241.50,306.49 L242.00,306.31 L242.50,306.13 L243.00,305.94 L243.50,305.76 L244.00,305.56 L244.50,305.37 L245.00,305.18 L245.50,304.99 L246.00,304.80 L246.50,304.60 L247.00,304.39 L247.50,304.17 L248.00,303.93 L248.50,303.66 L249.00,303.37 L249.50,303.05 L250.00,302.67 L250.50,302.24 L251.00,301.69 L251.50,301.02 L252.00,300.28 L252.50,299.44 L253.00,298.49 L253.50,297.42 L254.00,296.22 L254.50,294.88 L255.00,293.26 L255.50,291.38 L256.00,289.33 L256.50,287.20 L257.00,285.07 L257.50,283.02 L258.00,281.12 L258.50,279.28 L259.00,277.46 L259.50,275.65 L260.00,273.85 L260.50,272.03 L261.00,270.20 L261.50,268.33 L262.00,266.45 L262.50,264.55 L263.00,262.65 L263.50,260.74 L264.00,258.82 L264.50,256.91 L265.00,254.99 L265.50,253.06 L266.00,251.13 L266.50,249.20 L267.00,247.27 L267.50,245.34 L268.00,243.42 L268.50,241.50 L269.00,239.59 L269.50,237.67 L270.00,235.77 L270.50,233.87 L271.00,231.99 L271.50,230.11 L272.00,228.24 L272.50,226.36 L273.00,224.47 L273.50,222.54 L274.00,220.58 L274.50,218.60 L275.00,216.62 L275.50,214.66 L276.00,212.73 L276.50,210.85 L277.00,209.01 L277.50,207.20 L278.00,205.40 L278.50,203.62 L279.00,201.87 L279.50,200.15 L280.00,198.45 L280.50,196.79 L281.00,195.16 L281.50,193.56 L282.00,191.98 L282.50,190.43 L283.00,188.90 L283.50,187.40 L284.00,185.92 L284.50,184.47 L285.00,183.05 L285.50,181.66 L286.00,180.29 L286.50,178.93 L287.00,177.60 L287.50,176.29 L288.00,175.01 L288.50,173.76 L289.00,172.53 L289.50,171.34 L290.00,170.18 L290.50,169.05 L291.00,167.94 L291.50,166.85 L292.00,165.79 L292.50,164.75 L293.00,163.74 L293.50,162.76 L294.00,161.81 L294.50,160.89 L295.00,159.99 L295.50,159.10 L296.00,158.23 L296.50,157.39 L297.00,156.57 L297.50,155.78 L298.00,155.02 L298.50,154.30 L299.00,153.62 L299.50,152.96 L300.00,152.32 L300.50,151.69 L301.00,151.09 L301.50,150.52 L302.00,149.98 L302.50,149.46 L303.00,148.99 L303.50,148.54 L304.00,148.11 L304.50,147.68 L305.00,147.27 L305.50,146.87 L306.00,146.51 L306.50,146.19 L307.00,145.91 L307.50,145.68 L308.00,145.50 L308.50,145.34 L309.00,145.18 L309.50,145.03 L310.00,144.90 L310.50,144.79 L311.00,144.70 L311.50,144.63 L312.00,144.60 L312.50,144.61 L313.00,144.64 L313.50,144.71 L314.00,144.80 L314.50,144.91 L315.00,145.04 L315.50,145.18 L316.00,145.34 L316.50,145.50 L317.00,145.67 L317.50,145.89 L318.00,146.15 L318.50,146.46 L319.00,146.81 L319.50,147.19 L320.00,147.58 L320.50,148.00 L321.00,148.42 L321.50,148.85 L322.00,149.30 L322.50,149.79 L323.00,150.30 L323.50,150.85 L324.00,151.42 L324.50,152.02 L325.00,152.64 L325.50,153.27 L326.00,153.92 L326.50,154.60 L327.00,155.32 L327.50,156.06 L328.00,156.84 L328.50,157.65 L329.00,158.47 L329.50,159.32 L330.00,160.19 L330.50,161.07 L331.00,161.97 L331.50,162.90 L332.00,163.86 L332.50,164.85 L333.00,165.86 L333.50,166.89 L334.00,167.95 L334.50,169.03 L335.00,170.13 L335.50,171.25 L336.00,172.41 L336.50,173.60 L337.00,174.81 L337.50,176.06 L338.00,177.33 L338.50,178.62 L339.00,179.93 L339.50,181.26 L340.00,182.60 L340.50,183.98 L341.00,185.38 L341.50,186.80 L342.00,188.25 L342.50,189.73 L343.00,191.23 L343.50,192.75 L344.00,194.30 L344.50,195.86 L345.00,197.47 L345.50,199.10 L346.00,200.76 L346.50,202.44 L347.00,204.15 L347.50,205.88 L348.00,207.64 L348.50,209.41 L349.00,211.20 L349.50,213.04 L350.00,214.92 L350.50,216.83 L351.00,218.76 L351.50,220.68 L352.00,222.59 L352.50,224.46 L353.00,226.31 L353.50,228.14 L354.00,229.96 L354.50,231.78 L355.00,233.61 L355.50,235.45 L356.00,237.30 L356.50,239.16 L357.00,241.03 L357.50,242.89 L358.00,244.76 L358.50,246.63 L359.00,248.51 L359.50,250.39 L360.00,252.27 L360.50,254.15 L361.00,256.02 L361.50,257.88 L362.00,259.74 L362.50,261.60 L363.00,263.46 L363.50,265.31 L364.00,267.14 L364.50,268.97 L365.00,270.78 L365.50,272.56 L366.00,274.32 L366.50,276.07 L367.00,277.83 L367.50,279.60 L368.00,281.40 L368.50,283.27 L369.00,285.27 L369.50,287.35 L370.00,289.42 L370.50,291.41 L371.00,293.23 L371.50,294.82 L372.00,296.13 L372.50,297.31 L373.00,298.37 L373.50,299.31 L374.00,300.14 L374.50,300.88 L375.00,301.54 L375.50,302.11 L376.00,302.56 L376.50,302.94 L377.00,303.27 L377.50,303.56 L378.00,303.82 L378.50,304.07 L379.00,304.29 L379.50,304.50 L380.00,304.70 L380.50,304.89 L381.00,305.07 L381.50,305.26 L382.00,305.45 L382.50,305.63 L383.00,305.82 L383.50,306.00 L384.00,306.18 L384.50,306.36 L385.00,306.53 L385.50,306.70 L386.00,306.87 L386.50,307.03 L387.00,307.20 L387.50,307.36 L388.00,307.52 L388.50,307.66 L389.00,307.80 L389.50,307.93 L390.00,308.05 L390.50,308.17 L391.00,308.28 L391.50,308.39 L392.00,308.50 L392.50,308.60 L393.00,308.70 L393.50,308.79 L394.00,308.89 L394.50,308.98 L395.00,309.07" fill="none" stroke="#1f5fe6" stroke-width="2.9" stroke-dasharray="6 3.6"/><path d="M270.00,309.30 L270.50,309.29 L271.00,309.21 L271.50,309.12 L272.00,309.03 L272.50,308.94 L273.00,308.85 L273.50,308.75 L274.00,308.66 L274.50,308.56 L275.00,308.45 L275.50,308.35 L276.00,308.24 L276.50,308.12 L277.00,308.00 L277.50,307.88 L278.00,307.75 L278.50,307.60 L279.00,307.45 L279.50,307.29 L280.00,307.13 L280.50,306.96 L281.00,306.79 L281.50,306.63 L282.00,306.46 L282.50,306.28 L283.00,306.10 L283.50,305.92 L284.00,305.74 L284.50,305.55 L285.00,305.36 L285.50,305.17 L286.00,304.99 L286.50,304.80 L287.00,304.61 L287.50,304.41 L288.00,304.20 L288.50,303.96 L289.00,303.71 L289.50,303.43 L290.00,303.13 L290.50,302.78 L291.00,302.38 L291.50,301.88 L292.00,301.27 L292.50,300.57 L293.00,299.80 L293.50,298.93 L294.00,297.94 L294.50,296.83 L295.00,295.60 L295.50,294.19 L296.00,292.50 L296.50,290.59 L297.00,288.56 L297.50,286.47 L298.00,284.41 L298.50,282.45 L299.00,280.63 L299.50,278.83 L300.00,277.07 L300.50,275.31 L301.00,273.55 L301.50,271.78 L302.00,269.99 L302.50,268.17 L303.00,266.33 L303.50,264.49 L304.00,262.63 L304.50,260.77 L305.00,258.90 L305.50,257.04 L306.00,255.17 L306.50,253.29 L307.00,251.41 L307.50,249.53 L308.00,247.65 L308.50,245.77 L309.00,243.89 L309.50,242.02 L310.00,240.16 L310.50,238.29 L311.00,236.43 L311.50,234.58 L312.00,232.73 L312.50,230.91 L313.00,229.08 L313.50,227.26 L314.00,225.42 L314.50,223.56 L315.00,221.67 L315.50,219.75 L316.00,217.82 L316.50,215.90 L317.00,213.99 L317.50,212.12 L318.00,210.30 L318.50,208.52 L319.00,206.75 L319.50,205.00 L320.00,203.27 L320.50,201.57 L321.00,199.89 L321.50,198.24 L322.00,196.62 L322.50,195.03 L323.00,193.46 L323.50,191.93 L324.00,190.41 L324.50,188.92 L325.00,187.45 L325.50,186.00 L326.00,184.59 L326.50,183.19 L327.00,181.83 L327.50,180.49 L328.00,179.16 L328.50,177.86 L329.00,176.58 L329.50,175.31 L330.00,174.08 L330.50,172.87 L331.00,171.69 L331.50,170.55 L332.00,169.43 L332.50,168.34 L333.00,167.26 L333.50,166.21 L334.00,165.19 L334.50,164.18 L335.00,163.21 L335.50,162.26 L336.00,161.34 L336.50,160.45 L337.00,159.57 L337.50,158.71 L338.00,157.87 L338.50,157.04 L339.00,156.25 L339.50,155.48 L340.00,154.75 L340.50,154.04 L341.00,153.38 L341.50,152.73 L342.00,152.10 L342.50,151.49 L343.00,150.90 L343.50,150.34 L344.00,149.80 L344.50,149.30 L345.00,148.82 L345.50,148.38 L346.00,147.96 L346.50,147.54 L347.00,147.13 L347.50,146.74 L348.00,146.37 L348.50,146.04 L349.00,145.74 L349.50,145.49 L350.00,145.30 L350.50,145.13 L351.00,144.98 L351.50,144.82 L352.00,144.69 L352.50,144.56 L353.00,144.46 L353.50,144.38 L354.00,144.32 L354.50,144.30 L355.00,144.31 L355.50,144.35 L356.00,144.42 L356.50,144.52 L357.00,144.64 L357.50,144.77 L358.00,144.92 L358.50,145.08 L359.00,145.24 L359.50,145.42 L360.00,145.65 L360.50,145.93 L361.00,146.26 L361.50,146.62 L362.00,147.00 L362.50,147.41 L363.00,147.83 L363.50,148.25 L364.00,148.69 L364.50,149.16 L365.00,149.66 L365.50,150.19 L366.00,150.75 L366.50,151.33 L367.00,151.94 L367.50,152.57 L368.00,153.21 L368.50,153.87 L369.00,154.57 L369.50,155.30 L370.00,156.07 L370.50,156.86 L371.00,157.68 L371.50,158.53 L372.00,159.39 L372.50,160.27 L373.00,161.16 L373.50,162.08 L374.00,163.03 L374.50,164.01 L375.00,165.01 L375.50,166.04 L376.00,167.09 L376.50,168.16 L377.00,169.26 L377.50,170.38 L378.00,171.53 L378.50,172.71 L379.00,173.92 L379.50,175.16 L380.00,176.42 L380.50,177.71 L381.00,179.02 L381.50,180.35 L382.00,181.70 L382.50,183.07 L383.00,184.46 L383.50,185.89 L384.00,187.34 L384.50,188.81 L385.00,190.31 L385.50,191.83 L386.00,193.38 L386.50,194.95 L387.00,196.55 L387.50,198.18 L388.00,199.83 L388.50,201.52 L389.00,203.23 L389.50,204.97 L390.00,206.73 L390.50,208.51 L391.00,210.30 L391.50,212.13 L392.00,214.01 L392.50,215.93 L393.00,217.86 L393.50,219.80 L394.00,221.73 L394.50,223.63 L395.00,225.50 L395.50,227.35 L396.00,229.18 L396.50,231.02 L397.00,232.86 L397.50,234.71 L398.00,236.57 L398.50,238.44 L399.00,240.32 L399.50,242.20 L400.00,244.08 L400.50,245.96 L401.00,247.85 L401.50,249.75 L402.00,251.64 L402.50,253.53 L403.00,255.42 L403.50,257.30 L404.00,259.17 L404.50,261.05 L405.00,262.92 L405.50,264.78 L406.00,266.64 L406.50,268.48 L407.00,270.30 L407.50,272.10 L408.00,273.88 L408.50,275.65 L409.00,277.41 L409.50,279.20 L410.00,281.00 L410.50,282.86 L411.00,284.86 L411.50,286.94 L412.00,289.04 L412.50,291.06 L413.00,292.93 L413.50,294.57 L414.00,295.92 L414.50,297.13 L415.00,298.21 L415.50,299.17 L416.00,300.02 L416.50,300.78 L417.00,301.46 L417.50,302.04 L418.00,302.50 L418.50,302.89 L419.00,303.23 L419.50,303.52 L420.00,303.79 L420.50,304.04 L421.00,304.27 L421.50,304.48 L422.00,304.68 L422.50,304.87 L423.00,305.05 L423.50,305.24 L424.00,305.43 L424.50,305.62 L425.00,305.81 L425.50,305.99 L426.00,306.17 L426.50,306.35 L427.00,306.52 L427.50,306.69 L428.00,306.86 L428.50,307.03 L429.00,307.20 L429.50,307.36 L430.00,307.52 L430.50,307.67 L431.00,307.80 L431.50,307.93 L432.00,308.06 L432.50,308.17 L433.00,308.29 L433.50,308.40 L434.00,308.50 L434.50,308.60 L435.00,308.70 L435.50,308.80 L436.00,308.90 L436.50,308.99 L437.00,309.08 L437.50,309.17 L438.00,309.25" fill="none" stroke="#1f5fe6" stroke-width="2.7" stroke-linejoin="round"/><path d="M65.1,318 V66" stroke="#000" stroke-width="2.5" fill="none"/><path d="M65.1,59.7 L67.7,68 L62.5,68 Z" fill="#000"/><path d="M58,309.3 H505" stroke="#000" stroke-width="2.3" fill="none"/><path d="M512.3,309.3 L504,306.8 L504,311.8 Z" fill="#000"/><path d="M282.2,318 V67.5" stroke="#000" stroke-width="2.5" stroke-linecap="round" fill="none"/><path d="M215.5,92.5 V306 M245.6,118.6 V152 M312.3,118.6 V145 M354.6,92.5 V306" stroke="#333" stroke-width="1" fill="none"/><path d="M215.5,157.3 L217.9,165.10000000000002 L213.1,165.10000000000002 Z M215.5,307.8 L218.2,298.3 L212.8,298.3 Z M354.6,147.3 L357.3,156.3 L351.90000000000003,156.3 Z M354.6,307.8 L357.3,298.3 L351.90000000000003,298.3 Z M215.9,108.5 L226.4,106.0 L226.4,111.0 Z M281.0,108.5 L270.5,106.0 L270.5,111.0 Z M283.4,108.5 L293.9,106.0 L293.9,111.0 Z M354.1,108.5 L343.6,106.0 L343.6,111.0 Z M246.1,134.2 L256.6,131.7 L256.6,136.7 Z M281.0,134.2 L270.5,131.7 L270.5,136.7 Z M283.4,134.2 L293.9,131.7 L293.9,136.7 Z M311.8,134.2 L301.3,131.7 L301.3,136.7 Z" fill="#111"/><path d="M215.5,108.5 H282 M282,108.5 H354.6 M245.6,134.2 H282 M282,134.2 H312.3" stroke="#333" stroke-width="1" fill="none"/><path d="M142.4,345.7 V363.8 M287,345.7 V356.5 M283.8,355.3 V369.8 M421.3,351.7 V369.1 M142.4,354.9 H287 M283.8,360.9 H421.3" stroke="#333" stroke-width="1" fill="none"/><path d="M142.9,354.9 L153.4,352.4 L153.4,357.4 Z M286.5,354.9 L276.0,352.4 L276.0,357.4 Z M284.3,360.9 L294.8,358.4 L294.8,363.4 Z M420.8,360.9 L410.3,358.4 L410.3,363.4 Z" fill="#111"/><text x="52" y="279.09999999999997" font-family='"Liberation Sans", sans-serif' font-size="9.5" font-weight="bold" fill="#333" text-anchor="end" >2,0</text><text x="52" y="245.50000000000003" font-family='"Liberation Sans", sans-serif' font-size="9.5" font-weight="bold" fill="#333" text-anchor="end" >4,0</text><text x="52" y="211.9" font-family='"Liberation Sans", sans-serif' font-size="9.5" font-weight="bold" fill="#333" text-anchor="end" >6,0</text><text x="52" y="178.3" font-family='"Liberation Sans", sans-serif' font-size="9.5" font-weight="bold" fill="#333" text-anchor="end" >8,0</text><text x="52" y="144.70000000000002" font-family='"Liberation Sans", sans-serif' font-size="9.5" font-weight="bold" fill="#333" text-anchor="end" >10,0</text><text x="52" y="111.1" font-family='"Liberation Sans", sans-serif' font-size="9.5" font-weight="bold" fill="#333" text-anchor="end" >12,0</text><text x="52" y="77.5" font-family='"Liberation Sans", sans-serif' font-size="9.5" font-weight="bold" fill="#333" text-anchor="end" >14,0</text><text x="52" y="312.7" font-family='"Liberation Sans", sans-serif' font-size="9.5" font-weight="bold" fill="#333" text-anchor="end" >0</text><text x="65.3" y="330.0" font-family='"Liberation Sans", sans-serif' font-size="9.8" font-weight="bold" fill="#333" text-anchor="middle" >-360</text><text x="83.4" y="337.3" font-family='"Liberation Sans", sans-serif' font-size="9.8" font-weight="bold" fill="#333" text-anchor="middle" >-330</text><text x="101.5" y="330.0" font-family='"Liberation Sans", sans-serif' font-size="9.8" font-weight="bold" fill="#333" text-anchor="middle" >-300</text><text x="119.6" y="337.3" font-family='"Liberation Sans", sans-serif' font-size="9.8" font-weight="bold" fill="#333" text-anchor="middle" >-270</text><text x="137.7" y="330.0" font-family='"Liberation Sans", sans-serif' font-size="9.8" font-weight="bold" fill="#333" text-anchor="middle" >-240</text><text x="153.7" y="337.3" font-family='"Liberation Sans", sans-serif' font-size="9.8" font-weight="bold" fill="#333" text-anchor="middle" >-210</text><text x="173.8" y="330.0" font-family='"Liberation Sans", sans-serif' font-size="9.8" font-weight="bold" fill="#333" text-anchor="middle" >-180</text><text x="191.9" y="337.3" font-family='"Liberation Sans", sans-serif' font-size="9.8" font-weight="bold" fill="#333" text-anchor="middle" >-150</text><text x="210.0" y="330.0" font-family='"Liberation Sans", sans-serif' font-size="9.8" font-weight="bold" fill="#333" text-anchor="middle" >-120</text><text x="228.1" y="337.3" font-family='"Liberation Sans", sans-serif' font-size="9.8" font-weight="bold" fill="#333" text-anchor="middle" >-90</text><text x="246.1" y="330.0" font-family='"Liberation Sans", sans-serif' font-size="9.8" font-weight="bold" fill="#333" text-anchor="middle" >-60</text><text x="261.7" y="337.3" font-family='"Liberation Sans", sans-serif' font-size="9.8" font-weight="bold" fill="#333" text-anchor="middle" >-30</text><text x="282.3" y="330.0" font-family='"Liberation Sans", sans-serif' font-size="9.8" font-weight="bold" fill="#333" text-anchor="middle" >0</text><text x="298.4" y="337.3" font-family='"Liberation Sans", sans-serif' font-size="9.8" font-weight="bold" fill="#333" text-anchor="middle" >30</text><text x="318.5" y="330.0" font-family='"Liberation Sans", sans-serif' font-size="9.8" font-weight="bold" fill="#333" text-anchor="middle" >60</text><text x="336.5" y="337.3" font-family='"Liberation Sans", sans-serif' font-size="9.8" font-weight="bold" fill="#333" text-anchor="middle" >90</text><text x="354.6" y="330.0" font-family='"Liberation Sans", sans-serif' font-size="9.8" font-weight="bold" fill="#333" text-anchor="middle" >120</text><text x="372.7" y="337.3" font-family='"Liberation Sans", sans-serif' font-size="9.8" font-weight="bold" fill="#333" text-anchor="middle" >150</text><text x="390.8" y="330.0" font-family='"Liberation Sans", sans-serif' font-size="9.8" font-weight="bold" fill="#333" text-anchor="middle" >180</text><text x="406.1" y="337.3" font-family='"Liberation Sans", sans-serif' font-size="9.8" font-weight="bold" fill="#333" text-anchor="middle" >210</text><text x="426.9" y="330.0" font-family='"Liberation Sans", sans-serif' font-size="9.8" font-weight="bold" fill="#333" text-anchor="middle" >240</text><text x="445.0" y="337.3" font-family='"Liberation Sans", sans-serif' font-size="9.8" font-weight="bold" fill="#333" text-anchor="middle" >270</text><text x="463.1" y="330.0" font-family='"Liberation Sans", sans-serif' font-size="9.8" font-weight="bold" fill="#333" text-anchor="middle" >300</text><text x="481.2" y="337.3" font-family='"Liberation Sans", sans-serif' font-size="9.8" font-weight="bold" fill="#333" text-anchor="middle" >330</text><text x="499.3" y="330.0" font-family='"Liberation Sans", sans-serif' font-size="9.8" font-weight="bold" fill="#333" text-anchor="middle" >360</text><text x="64.7" y="350.3" font-family='"Liberation Sans", sans-serif' font-size="9.8" font-weight="bold" fill="#333" text-anchor="middle" >OT</text><text x="500" y="350.3" font-family='"Liberation Sans", sans-serif' font-size="9.8" font-weight="bold" fill="#333" text-anchor="middle" >OT</text><text x="65" y="55.0" font-family='"Liberation Sans", sans-serif' font-size="9.6" font-weight="normal" fill="#222" text-anchor="middle" >[mm]</text><text x="526.2" y="312.6" font-family='"Liberation Sans", sans-serif' font-size="9.6" font-weight="normal" fill="#222" text-anchor="middle" >[°KW]</text><text x="249.5" y="106" font-family='"Liberation Sans", sans-serif' font-size="9.5" font-weight="bold" fill="#333" text-anchor="middle" >115</text><text x="318.6" y="106" font-family='"Liberation Sans", sans-serif' font-size="9.5" font-weight="bold" fill="#333" text-anchor="middle" >120</text><text x="264.6" y="129.2" font-family='"Liberation Sans", sans-serif' font-size="9.5" font-weight="bold" fill="#333" text-anchor="middle" >60</text><text x="297.6" y="129.2" font-family='"Liberation Sans", sans-serif' font-size="9.5" font-weight="bold" fill="#333" text-anchor="middle" >50</text><text x="204.5" y="352.8" font-family='"Liberation Sans", sans-serif' font-size="9.5" font-weight="bold" fill="#333" text-anchor="middle" >261°</text><text x="356.1" y="358.8" font-family='"Liberation Sans", sans-serif' font-size="9.5" font-weight="bold" fill="#333" text-anchor="middle" >255°</text><text x="0" y="0" font-family='"Liberation Sans", sans-serif' font-size="9.5" font-weight="bold" fill="#333" text-anchor="middle" transform="translate(213,254.5) rotate(-90)">9,7</text><text x="0" y="0" font-family='"Liberation Sans", sans-serif' font-size="9.5" font-weight="bold" fill="#333" text-anchor="middle" transform="translate(352.3,254.5) rotate(-90)">9,9</text><text x="14" y="391.3" font-family='"Liberation Sans", sans-serif' font-size="9" font-weight="bold" fill="#555" text-anchor="start" letter-spacing="0.6">FB1210046</text><circle cx="65.5" cy="30" r="11.4" fill="url(#rim)"/><circle cx="65.3" cy="29.6" r="10.0" fill="url(#bub)"/><text x="65.5" y="33.7" font-family='"Liberation Sans", sans-serif' font-size="10.5" font-weight="bold" fill="#1a1a1a" text-anchor="middle" >1</text><circle cx="203.3" cy="371.3" r="11.4" fill="url(#rim)"/><circle cx="203.10000000000002" cy="370.90000000000003" r="10.0" fill="url(#bub)"/><text x="203.3" y="375.0" font-family='"Liberation Sans", sans-serif' font-size="10.5" font-weight="bold" fill="#1a1a1a" text-anchor="middle" >2</text><circle cx="354" cy="376.4" r="11.4" fill="url(#rim)"/><circle cx="353.8" cy="376.0" r="10.0" fill="url(#bub)"/><text x="354" y="380.09999999999997" font-family='"Liberation Sans", sans-serif' font-size="10.5" font-weight="bold" fill="#1a1a1a" text-anchor="middle" >3</text><circle cx="526.3" cy="288.6" r="11.4" fill="url(#rim)"/><circle cx="526.0999999999999" cy="288.20000000000005" r="10.0" fill="url(#bub)"/><text x="526.3" y="292.3" font-family='"Liberation Sans", sans-serif' font-size="10.5" font-weight="bold" fill="#1a1a1a" text-anchor="middle" >4</text><rect x="9" y="409.2" width="728.5" height="60.5" fill="none" stroke="#000" stroke-width="2"/><path d="M9,427.6 H737.5 M9,449.3 H737.5" stroke="#000" stroke-width="2.4"/><path d="M102.8,409 V470 M372.8,409 V470 M466.9,409 V470" stroke="#000" stroke-width="2.2"/><text x="11" y="423" font-family='"Liberation Sans", sans-serif' font-size="14" font-weight="bold" fill="#000" text-anchor="start" letter-spacing="0.15">Index</text><text x="105" y="423" font-family='"Liberation Sans", sans-serif' font-size="14" font-weight="bold" fill="#000" text-anchor="start" letter-spacing="0.15">Explanation</text><text x="375" y="423" font-family='"Liberation Sans", sans-serif' font-size="14" font-weight="bold" fill="#000" text-anchor="start" letter-spacing="0.15">Index</text><text x="469" y="423" font-family='"Liberation Sans", sans-serif' font-size="14" font-weight="bold" fill="#000" text-anchor="start" letter-spacing="0.15">Explanation</text><text x="12" y="443.3" font-family='"Liberation Sans", sans-serif' font-size="14" font-weight="normal" fill="#000" text-anchor="start" letter-spacing="0.25">1</text><text x="105" y="443.3" font-family='"Liberation Sans", sans-serif' font-size="14" font-weight="normal" fill="#000" text-anchor="start" letter-spacing="0.25">Valve lift</text><text x="375.5" y="443.3" font-family='"Liberation Sans", sans-serif' font-size="14" font-weight="normal" fill="#000" text-anchor="start" letter-spacing="0.25">2</text><text x="469" y="443.3" font-family='"Liberation Sans", sans-serif' font-size="14" font-weight="normal" fill="#000" text-anchor="start" letter-spacing="0.25">Exhaust camshaft spread</text><text x="12" y="464.6" font-family='"Liberation Sans", sans-serif' font-size="14" font-weight="normal" fill="#000" text-anchor="start" letter-spacing="0.25">3</text><text x="105" y="464.6" font-family='"Liberation Sans", sans-serif' font-size="14" font-weight="normal" fill="#000" text-anchor="start" letter-spacing="0.25">Intake camshaft spread</text><text x="375.5" y="464.6" font-family='"Liberation Sans", sans-serif' font-size="14" font-weight="normal" fill="#000" text-anchor="start" letter-spacing="0.25">4</text><text x="469" y="464.6" font-family='"Liberation Sans", sans-serif' font-size="14" font-weight="normal" fill="#000" text-anchor="start" letter-spacing="0.25">Crankshaft degrees</text></svg>
</body></html>
